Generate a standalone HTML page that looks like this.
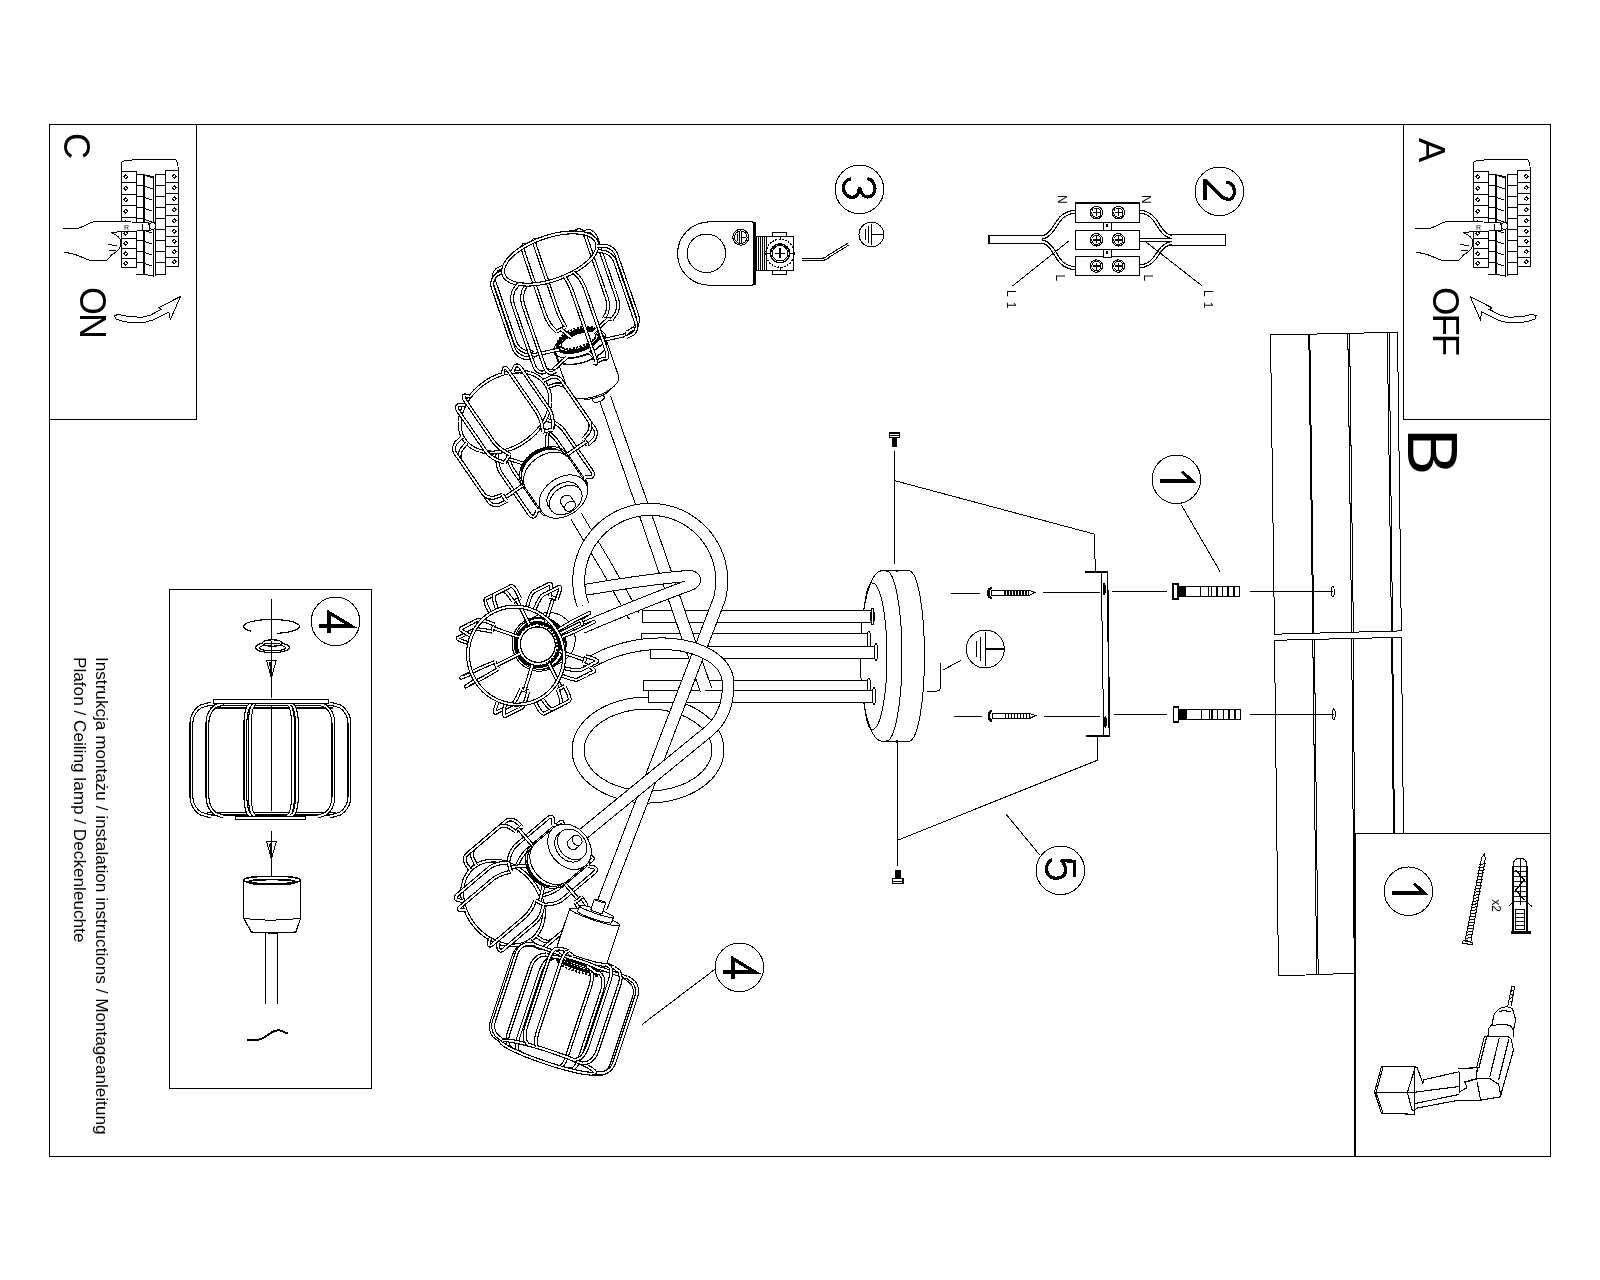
<!DOCTYPE html>
<html><head><meta charset="utf-8"><style>
html,body{margin:0;padding:0;background:#fff;width:1600px;height:1280px;overflow:hidden}
svg{display:block;will-change:transform}
text{font-family:"Liberation Sans",sans-serif}
</style></head><body>
<svg width="1600" height="1280" viewBox="0 0 1600 1280" stroke="#000" fill="none" shape-rendering="crispEdges">
<rect x="49.5" y="124.5" width="1501" height="1032" stroke-width="1" fill="none" />
<line x1="196.5" y1="124" x2="196.5" y2="419.5" stroke-width="1" />
<line x1="49" y1="419.5" x2="197" y2="419.5" stroke-width="1" />
<line x1="1403.5" y1="124" x2="1403.5" y2="419.5" stroke-width="1" />
<line x1="1403" y1="419.5" x2="1551" y2="419.5" stroke-width="1" />
<rect x="169.5" y="589.5" width="202" height="499" stroke-width="1" fill="none" />
<line x1="1355" y1="833.5" x2="1355" y2="1156.5" stroke-width="2" />
<line x1="1354" y1="833.5" x2="1551" y2="833.5" stroke-width="1" />
<text transform="translate(95.5,657) rotate(90)" font-size="17" font-weight="normal" stroke="none" fill="#000" textLength="477.5" lengthAdjust="spacingAndGlyphs">Instrukcja montażu / instalation instructions / Montageanleitung</text>
<text transform="translate(73.5,657) rotate(90)" font-size="17" font-weight="normal" stroke="none" fill="#000" textLength="285.5" lengthAdjust="spacingAndGlyphs">Plafon / Ceiling lamp / Deckenleuchte</text>
<text transform="translate(64,133) rotate(90)" font-size="36" font-weight="normal" stroke="none" fill="#000" >C</text>
<text transform="translate(80,287) rotate(90)" font-size="36" font-weight="normal" stroke="none" fill="#000" letter-spacing="-2">ON</text>
<text transform="translate(1419,138) rotate(90)" font-size="36.5" font-weight="normal" stroke="none" fill="#000" >A</text>
<text transform="translate(1433,287) rotate(90)" font-size="36.5" font-weight="normal" stroke="none" fill="#000" letter-spacing="-2">OFF</text>
<text transform="translate(1408,428) rotate(90)" font-size="71" font-weight="normal" stroke="none" fill="#000" >B</text>
<g id="brk"><path d="M121.4,171.3 L121.4,162.2 L126,160.2 L144.3,159.6 L175.8,159.3 L177.8,163.2 L178.3,170.8" stroke-width="1" fill="none"/>
<path d="M121.4,171.3 L136.2,171.3 L136.2,267.8 L121.4,267.8 Z" stroke-width="1" fill="none"/>
<line x1="121.4" y1="182.3" x2="136.2" y2="182.3" stroke-width="1"/>
<line x1="121.4" y1="194.4" x2="136.2" y2="194.4" stroke-width="1"/>
<line x1="121.4" y1="205.4" x2="136.2" y2="205.4" stroke-width="1"/>
<line x1="121.4" y1="217.2" x2="136.2" y2="217.2" stroke-width="1"/>
<line x1="121.4" y1="228" x2="136.2" y2="228" stroke-width="1"/>
<line x1="121.4" y1="238.4" x2="136.2" y2="238.4" stroke-width="1"/>
<line x1="121.4" y1="248.5" x2="136.2" y2="248.5" stroke-width="1"/>
<line x1="121.4" y1="258.9" x2="136.2" y2="258.9" stroke-width="1"/>
<path d="M123.8,176.8 L125.8,174.8 L127.8,176.8 L125.8,178.8 Z" stroke-width="1" fill="none"/>
<path d="M123.8,188.35 L125.8,186.35 L127.8,188.35 L125.8,190.35 Z" stroke-width="1" fill="none"/>
<path d="M123.8,199.9 L125.8,197.9 L127.8,199.9 L125.8,201.9 Z" stroke-width="1" fill="none"/>
<path d="M123.8,211.3 L125.8,209.3 L127.8,211.3 L125.8,213.3 Z" stroke-width="1" fill="none"/>
<path d="M123.8,222.6 L125.8,220.6 L127.8,222.6 L125.8,224.6 Z" stroke-width="1" fill="none"/>
<path d="M123.8,233.2 L125.8,231.2 L127.8,233.2 L125.8,235.2 Z" stroke-width="1" fill="none"/>
<path d="M123.8,243.45 L125.8,241.45 L127.8,243.45 L125.8,245.45 Z" stroke-width="1" fill="none"/>
<path d="M123.8,253.7 L125.8,251.7 L127.8,253.7 L125.8,255.7 Z" stroke-width="1" fill="none"/>
<path d="M123.8,263.35 L125.8,261.35 L127.8,263.35 L125.8,265.35 Z" stroke-width="1" fill="none"/>
<path d="M136.2,174.4 L143.3,174.4 L143.3,274.4 L136.2,274.4" stroke-width="1" fill="none"/>
<line x1="136.2" y1="185.4" x2="143.3" y2="185.4" stroke-width="1"/>
<line x1="136.2" y1="196.6" x2="143.3" y2="196.6" stroke-width="1"/>
<line x1="136.2" y1="207.6" x2="143.3" y2="207.6" stroke-width="1"/>
<line x1="136.2" y1="218.6" x2="143.3" y2="218.6" stroke-width="1"/>
<line x1="136.2" y1="229.6" x2="143.3" y2="229.6" stroke-width="1"/>
<line x1="136.2" y1="240.6" x2="143.3" y2="240.6" stroke-width="1"/>
<line x1="136.2" y1="251.6" x2="143.3" y2="251.6" stroke-width="1"/>
<line x1="136.2" y1="262.6" x2="143.3" y2="262.6" stroke-width="1"/>
<line x1="143.8" y1="174.4" x2="143.8" y2="274.4" stroke-width="1.6"/>
<path d="M144.3,175 L153,176.5 L153,276 L144.3,274.4" stroke-width="1" fill="none"/>
<line x1="144.8" y1="175.4" x2="152.5" y2="177.9" stroke-width="1"/>
<line x1="144.8" y1="186.4" x2="152.5" y2="188.9" stroke-width="1"/>
<line x1="144.8" y1="197.6" x2="152.5" y2="200.1" stroke-width="1"/>
<line x1="144.8" y1="208.6" x2="152.5" y2="211.1" stroke-width="1"/>
<line x1="144.8" y1="219.6" x2="152.5" y2="222.1" stroke-width="1"/>
<line x1="144.8" y1="230.6" x2="152.5" y2="233.1" stroke-width="1"/>
<line x1="144.8" y1="241.6" x2="152.5" y2="244.1" stroke-width="1"/>
<line x1="144.8" y1="252.6" x2="152.5" y2="255.1" stroke-width="1"/>
<line x1="144.8" y1="263.6" x2="152.5" y2="266.1" stroke-width="1"/>
<line x1="155" y1="174.4" x2="155" y2="276" stroke-width="1"/>
<path d="M155,174.4 L165.6,174.4 L165.6,274.4 L155,274.4" stroke-width="1" fill="none"/>
<line x1="155" y1="185.4" x2="165.6" y2="185.4" stroke-width="1"/>
<line x1="155" y1="196.6" x2="165.6" y2="196.6" stroke-width="1"/>
<line x1="155" y1="207.6" x2="165.6" y2="207.6" stroke-width="1"/>
<line x1="155" y1="218.6" x2="165.6" y2="218.6" stroke-width="1"/>
<line x1="155" y1="229.6" x2="165.6" y2="229.6" stroke-width="1"/>
<line x1="155" y1="240.6" x2="165.6" y2="240.6" stroke-width="1"/>
<line x1="155" y1="251.6" x2="165.6" y2="251.6" stroke-width="1"/>
<line x1="155" y1="262.6" x2="165.6" y2="262.6" stroke-width="1"/>
<path d="M165.6,170.8 L178.3,170.8 L178.3,266.8 L165.6,266.8 Z" stroke-width="1" fill="none"/>
<line x1="165.6" y1="182" x2="178.3" y2="182" stroke-width="1"/>
<line x1="165.6" y1="193.2" x2="178.3" y2="193.2" stroke-width="1"/>
<line x1="165.6" y1="204" x2="178.3" y2="204" stroke-width="1"/>
<line x1="165.6" y1="215.6" x2="178.3" y2="215.6" stroke-width="1"/>
<line x1="165.6" y1="226" x2="178.3" y2="226" stroke-width="1"/>
<line x1="165.6" y1="236.2" x2="178.3" y2="236.2" stroke-width="1"/>
<line x1="165.6" y1="246.2" x2="178.3" y2="246.2" stroke-width="1"/>
<line x1="165.6" y1="257" x2="178.3" y2="257" stroke-width="1"/>
<path d="M172.3,176.4 L174.3,174.4 L176.3,176.4 L174.3,178.4 Z" stroke-width="1" fill="none"/>
<path d="M172.3,187.6 L174.3,185.6 L176.3,187.6 L174.3,189.6 Z" stroke-width="1" fill="none"/>
<path d="M172.3,198.6 L174.3,196.6 L176.3,198.6 L174.3,200.6 Z" stroke-width="1" fill="none"/>
<path d="M172.3,209.8 L174.3,207.8 L176.3,209.8 L174.3,211.8 Z" stroke-width="1" fill="none"/>
<path d="M172.3,220.8 L174.3,218.8 L176.3,220.8 L174.3,222.8 Z" stroke-width="1" fill="none"/>
<path d="M172.3,231.1 L174.3,229.1 L176.3,231.1 L174.3,233.1 Z" stroke-width="1" fill="none"/>
<path d="M172.3,241.2 L174.3,239.2 L176.3,241.2 L174.3,243.2 Z" stroke-width="1" fill="none"/>
<path d="M172.3,251.6 L174.3,249.6 L176.3,251.6 L174.3,253.6 Z" stroke-width="1" fill="none"/>
<path d="M172.3,261.9 L174.3,259.9 L176.3,261.9 L174.3,263.9 Z" stroke-width="1" fill="none"/>
<path d="M63,228.2 L78.3,228.2 C86,226 90,221.6 96,221.6 L148.4,222.2 L150,230.4 L110.8,232.3 C115,234 120,237 121,241.4 C121,246 119,249 117.9,250 C116,253 112,254 110.8,255.6 C109,259 107,260.7 104,260.7 L90.5,260.7 C82,258 76,252.6 64,252.6" stroke-width="1" fill="#fff"/>
<line x1="107.7" y1="244.5" x2="116.9" y2="245.5" stroke-width="1"/>
<line x1="109" y1="250.5" x2="116" y2="250" stroke-width="1"/>
<circle cx="152.6" cy="225.9" r="3.3" stroke-width="1" fill="#fff"/>
<text x="124" y="230" font-size="7" stroke="none" fill="#000" font-family="Liberation Sans">R</text>
<line x1="142.2" y1="224" x2="142.2" y2="230" stroke-width="1"/></g>
<use href="#brk" transform="translate(1352,0)"/>
<path d="M114.6,315.8 L118.3,314.2 L123.6,315.6 L130,316.9 L142.7,317.1 L150.7,315 L161.3,309.4 L158.7,307.8 L180.5,296.4 L170.4,319.5 L168.8,312.1 L152.8,320.1 L144.9,322.2 L129.4,322.5 L123.1,321.4 L115.6,319 Z" stroke-width="1" fill="none" />
<path d="M1536.05,315.8 L1532.35,314.2 L1527.05,315.6 L1520.65,316.9 L1507.95,317.1 L1499.95,315 L1489.35,309.4 L1491.95,307.8 L1470.15,296.4 L1480.25,319.5 L1481.85,312.1 L1497.85,320.1 L1505.75,322.2 L1521.25,322.5 L1527.55,321.4 L1535.05,319 Z" stroke-width="1" fill="none" />
<line x1="1270.5" y1="335" x2="1397.5" y2="332.3" stroke-width="1" />
<line x1="1274.5" y1="634.2" x2="1401.5" y2="630.9" stroke-width="1" />
<line x1="1270.5" y1="335" x2="1274.5" y2="634.2" stroke-width="1" />
<line x1="1309.3" y1="334" x2="1313.3" y2="633.5" stroke-width="2" />
<line x1="1347.8" y1="333.5" x2="1351.7" y2="632.5" stroke-width="1" />
<line x1="1349.6" y1="333.5" x2="1353.4" y2="632.5" stroke-width="1" />
<line x1="1387.3" y1="333" x2="1391.5" y2="631.5" stroke-width="1" />
<line x1="1389.1" y1="333" x2="1392.6" y2="631.5" stroke-width="1" />
<line x1="1397.5" y1="332.3" x2="1401.3" y2="630.9" stroke-width="1" />
<line x1="1274.5" y1="640.3" x2="1401.4" y2="637.3" stroke-width="1" />
<line x1="1278.5" y1="976" x2="1355" y2="973.2" stroke-width="1" />
<line x1="1274.5" y1="640.3" x2="1278.5" y2="976" stroke-width="1" />
<line x1="1312.8" y1="639.5" x2="1316.7" y2="975" stroke-width="1" />
<line x1="1314.4" y1="639.5" x2="1318.2" y2="975" stroke-width="1" />
<line x1="1351.7" y1="638.6" x2="1354.3" y2="975" stroke-width="1" />
<line x1="1353.2" y1="638.6" x2="1355.6" y2="975" stroke-width="1" />
<line x1="1392.2" y1="638" x2="1393.9" y2="833" stroke-width="2" />
<line x1="1401.4" y1="637.3" x2="1403.5" y2="833" stroke-width="1" />
<ellipse cx="1332.8" cy="591.6" rx="1.4" ry="5.5" stroke-width="1" fill="none" />
<ellipse cx="1333.8" cy="714.3" rx="1.4" ry="5.5" stroke-width="1" fill="none" />
<line x1="951" y1="593.2" x2="980" y2="593.2" stroke-width="1" />
<line x1="1043" y1="592.5" x2="1100" y2="592.5" stroke-width="1" />
<line x1="1112" y1="591.6" x2="1167" y2="591.6" stroke-width="1" />
<line x1="1250" y1="591.6" x2="1333" y2="591.6" stroke-width="1" />
<line x1="954" y1="716.5" x2="982" y2="716.5" stroke-width="1" />
<line x1="1044" y1="716" x2="1100" y2="716" stroke-width="1" />
<line x1="1114" y1="714.7" x2="1167" y2="714.7" stroke-width="1" />
<line x1="1250" y1="714.5" x2="1334" y2="714.5" stroke-width="1" />
<path d="M991.8,588 C987.2,588.5 987.2,597.5 991.8,598" stroke-width="2.4" fill="none" />
<rect x="991.8" y="590.4" width="37" height="5.2" stroke-width="1" fill="none" />
<line x1="1005" y1="590.4" x2="1005" y2="595.6" stroke-width="1.2" />
<line x1="1008" y1="590.4" x2="1008" y2="595.6" stroke-width="1.2" />
<line x1="1011" y1="590.4" x2="1011" y2="595.6" stroke-width="1.2" />
<line x1="1014" y1="590.4" x2="1014" y2="595.6" stroke-width="1.2" />
<line x1="1017" y1="590.4" x2="1017" y2="595.6" stroke-width="1.2" />
<line x1="1020" y1="590.4" x2="1020" y2="595.6" stroke-width="1.2" />
<line x1="1023" y1="590.4" x2="1023" y2="595.6" stroke-width="1.2" />
<line x1="1026" y1="590.4" x2="1026" y2="595.6" stroke-width="1.2" />
<path d="M1028.8,590.4 L1035,592.5 L1028.8,595.6" stroke-width="1" fill="none" />
<path d="M992.3,711 C987.7,711.5 987.7,720.5 992.3,721" stroke-width="2.4" fill="none" />
<rect x="992.3" y="713.4" width="37" height="5.2" stroke-width="1" fill="none" />
<line x1="1005.5" y1="713.4" x2="1005.5" y2="718.6" stroke-width="1.2" />
<line x1="1008.5" y1="713.4" x2="1008.5" y2="718.6" stroke-width="1.2" />
<line x1="1011.5" y1="713.4" x2="1011.5" y2="718.6" stroke-width="1.2" />
<line x1="1014.5" y1="713.4" x2="1014.5" y2="718.6" stroke-width="1.2" />
<line x1="1017.5" y1="713.4" x2="1017.5" y2="718.6" stroke-width="1.2" />
<line x1="1020.5" y1="713.4" x2="1020.5" y2="718.6" stroke-width="1.2" />
<line x1="1023.5" y1="713.4" x2="1023.5" y2="718.6" stroke-width="1.2" />
<line x1="1026.5" y1="713.4" x2="1026.5" y2="718.6" stroke-width="1.2" />
<path d="M1029.3,713.4 L1035.5,715.5 L1029.3,718.6" stroke-width="1" fill="none" />
<rect x="1173.1" y="583.9" width="5" height="15" stroke-width="1.2" fill="none" />
<rect x="1178.1" y="586.5" width="61.7" height="9.8" stroke-width="1.2" fill="none" />
<rect x="1178.1" y="586.5" width="8.2" height="9.8" stroke-width="0" fill="#000" />
<line x1="1200.6" y1="586.5" x2="1200.6" y2="596.3" stroke-width="1.4" />
<line x1="1208.7" y1="586.5" x2="1208.7" y2="596.3" stroke-width="1.4" />
<line x1="1211.3" y1="586.5" x2="1211.3" y2="596.3" stroke-width="1.4" />
<line x1="1216.9" y1="586.5" x2="1216.9" y2="596.3" stroke-width="1.4" />
<line x1="1222.5" y1="586.5" x2="1222.5" y2="596.3" stroke-width="1.4" />
<line x1="1228.1" y1="586.5" x2="1228.1" y2="596.3" stroke-width="1.4" />
<line x1="1234.1" y1="586.5" x2="1234.1" y2="596.3" stroke-width="1.4" />
<rect x="1173.8" y="707.1" width="5" height="15" stroke-width="1.2" fill="none" />
<rect x="1178.8" y="709.7" width="61.7" height="9.8" stroke-width="1.2" fill="none" />
<rect x="1178.8" y="709.7" width="8.2" height="9.8" stroke-width="0" fill="#000" />
<line x1="1201.3" y1="709.7" x2="1201.3" y2="719.5" stroke-width="1.4" />
<line x1="1209.4" y1="709.7" x2="1209.4" y2="719.5" stroke-width="1.4" />
<line x1="1212" y1="709.7" x2="1212" y2="719.5" stroke-width="1.4" />
<line x1="1217.6" y1="709.7" x2="1217.6" y2="719.5" stroke-width="1.4" />
<line x1="1223.2" y1="709.7" x2="1223.2" y2="719.5" stroke-width="1.4" />
<line x1="1228.8" y1="709.7" x2="1228.8" y2="719.5" stroke-width="1.4" />
<line x1="1234.8" y1="709.7" x2="1234.8" y2="719.5" stroke-width="1.4" />
<line x1="1085" y1="571.8" x2="1108" y2="571.8" stroke-width="1.6" />
<line x1="1086" y1="735.8" x2="1110" y2="735.8" stroke-width="1.6" />
<path d="M1101.3,572 L1103.7,735.8" stroke-width="1" fill="none" />
<path d="M1107.5,572 L1109.4,735.8" stroke-width="1.6" fill="none" />
<ellipse cx="1104.3" cy="589" rx="0.9" ry="6" stroke-width="1" fill="#000" />
<ellipse cx="1105.4" cy="722" rx="0.9" ry="6" stroke-width="1" fill="#000" />
<path d="M894.5,451 L894.5,564" stroke-width="1" fill="none" />
<path d="M894.5,480.6 L1094,534 L1095.5,571.6" stroke-width="1" fill="none" />
<path d="M897.7,742 L897.7,866" stroke-width="1" fill="none" />
<path d="M897.7,840.2 L1097.5,760.2 L1097.5,736" stroke-width="1" fill="none" />
<rect x="889.3" y="433" width="10.4" height="4.8" stroke-width="1.2" fill="none" />
<line x1="890" y1="435.2" x2="899" y2="435.2" stroke-width="1" />
<rect x="891.6" y="437.8" width="5.8" height="9" stroke-width="0" fill="#000" />
<rect x="892.5" y="878.7" width="10.4" height="4.8" stroke-width="1.2" fill="none" />
<line x1="893.2" y1="881.3" x2="902.2" y2="881.3" stroke-width="1" />
<rect x="894.8" y="869.7" width="5.8" height="9" stroke-width="0" fill="#000" />
<path d="M881.9,570.7 L909.4,570.7 A15.6 85.3 0 0 1 909.4,741.2 L881.2,741.2 A22 85.3 0 0 1 881.9,570.7 Z" stroke-width="1" fill="#fff" />
<path d="M886.4,571 A15.6 85 0 0 1 886.4,741" stroke-width="1" fill="none" />
<path d="M872.3,583 A14.7 73.2 0 0 1 872.3,729.4" stroke-width="1" fill="none" />
<path d="M872.3,583 A10 73.2 0 0 0 863,620 M863,692 A10 73.2 0 0 0 872.3,729.4" stroke-width="1" fill="none" />
<line x1="896.8" y1="569.5" x2="896.8" y2="572" stroke-width="2" />
<line x1="896.8" y1="740" x2="896.8" y2="742.5" stroke-width="2" />
<path d="M927,691 L937,691 C939,691 940.5,690 940.5,687 L940.5,663" stroke-width="1" fill="none" />
<line x1="943.6" y1="669.7" x2="961" y2="660.4" stroke-width="1" />
<circle cx="859.5" cy="189.4" r="24.25" stroke-width="1" fill="none" />
<g transform="translate(859.5,189.4)" stroke-width="3.3" fill="none" stroke-linejoin="miter"><path d="M-8.6,-10.5 C-13,-10 -16,-6 -16,-2 C-16,4 -12,8 -7,8 C-3,8 -0.5,4 0,-2.5 C1,3 4,7.5 8,7.5 C12.5,7.5 15.5,4 15.5,-1 C15.5,-6 12,-10 8,-11" stroke-linecap="butt"/></g>
<circle cx="1219.4" cy="191.4" r="24.25" stroke-width="1" fill="none" />
<g transform="translate(1219.4,191.4)" stroke-width="3.3" fill="none" stroke-linejoin="miter"><path d="M-14.3,-12 L-14.3,8.4 M-14.3,-11 L3.5,6.3 L9,8 C12.5,8 15,5 15,0 C15,-5 12,-8.5 7,-9.5"/></g>
<circle cx="1176.4" cy="479.3" r="24.25" stroke-width="1" fill="none" />
<g transform="translate(1176.4,479.3)" stroke-width="3.3" fill="none" stroke-linejoin="miter"><path d="M-16.2,1.8 L15.6,1.8 L5.6,-7.7"/></g>
<circle cx="1408.4" cy="891.2" r="24.25" stroke-width="1" fill="none" />
<g transform="translate(1408.4,891.2)" stroke-width="3.3" fill="none" stroke-linejoin="miter"><path d="M-16.2,1.8 L15.6,1.8 L5.6,-7.7"/></g>
<circle cx="739.4" cy="967.4" r="24.25" stroke-width="1" fill="none" />
<g transform="translate(739.4,967.4)" stroke-width="3.3" fill="none" stroke-linejoin="miter"><path d="M-16.3,4.6 L15.6,4.6 L-6.5,-8.8 L-6.5,11.3"/></g>
<circle cx="335.5" cy="621.4" r="24.25" stroke-width="1" fill="none" />
<g transform="translate(335.5,621.4)" stroke-width="3.3" fill="none" stroke-linejoin="miter"><path d="M-16.3,4.6 L15.6,4.6 L-6.5,-8.8 L-6.5,11.3"/></g>
<circle cx="1060.4" cy="870.3" r="24.25" stroke-width="1" fill="none" />
<g transform="translate(1060.4,870.3)" stroke-width="3.3" fill="none" stroke-linejoin="miter"><path d="M14,6.3 L14,-9 L0.5,-9.8 C3.5,-8 5,-4 5,0 C5,5 1.5,8 -4.5,8 C-10,8 -14,4 -14,-1.5 C-14,-6 -11,-10 -8.3,-10.5"/></g>
<line x1="1181.4" y1="505" x2="1220" y2="571.4" stroke-width="1" />
<line x1="1005.9" y1="814" x2="1039.5" y2="854.7" stroke-width="1" />
<line x1="642.2" y1="1024.4" x2="715.3" y2="969" stroke-width="1" />
<circle cx="985.3" cy="649" r="19" stroke-width="1" fill="none" />
<line x1="985.3" y1="632.47" x2="985.3" y2="665.53" stroke-width="1.2" />
<line x1="980.7" y1="636.65" x2="980.7" y2="661.35" stroke-width="1.2" />
<line x1="976.3" y1="641.02" x2="976.3" y2="656.98" stroke-width="1.2" />
<line x1="985.3" y1="649" x2="1004.3" y2="649" stroke-width="1.2" />
<circle cx="871.4" cy="234.5" r="12.4" stroke-width="1" fill="none" />
<line x1="871.4" y1="223.71" x2="871.4" y2="245.29" stroke-width="1.2" />
<line x1="868.4" y1="226.44" x2="868.4" y2="242.56" stroke-width="1.2" />
<line x1="865.53" y1="229.29" x2="865.53" y2="239.71" stroke-width="1.2" />
<line x1="871.4" y1="234.5" x2="883.8" y2="234.5" stroke-width="1.2" />
<rect x="989" y="235.8" width="53.5" height="7.7" stroke-width="1.2" fill="#fff" />
<rect x="1171.5" y="234.6" width="54.2" height="10.8" stroke-width="1.2" fill="#fff" />
<path d="M1042,237.5 C1052,236 1056,222 1062,217 C1067,212.5 1071,212 1076,211.5" stroke-width="4.2" fill="none" />
<path d="M1042,237.5 C1052,236 1056,222 1062,217 C1067,212.5 1071,212 1076,211.5" stroke-width="1.8" fill="none" stroke="#fff"/>
<path d="M1042,241.5 C1052,243 1056,258 1062,263 C1067,267.5 1071,268 1076,268.5" stroke-width="4.2" fill="none" />
<path d="M1042,241.5 C1052,243 1056,258 1062,263 C1067,267.5 1071,268 1076,268.5" stroke-width="1.8" fill="none" stroke="#fff"/>
<path d="M1139,211.5 C1146,212 1150,214 1155,220 C1160,228 1164,236 1172,237" stroke-width="4.2" fill="none" />
<path d="M1139,211.5 C1146,212 1150,214 1155,220 C1160,228 1164,236 1172,237" stroke-width="1.8" fill="none" stroke="#fff"/>
<path d="M1139,266.5 C1146,266 1150,264 1155,258 C1160,250 1164,244 1172,243" stroke-width="4.2" fill="none" />
<path d="M1139,266.5 C1146,266 1150,264 1155,258 C1160,250 1164,244 1172,243" stroke-width="1.8" fill="none" stroke="#fff"/>
<path d="M1139,240 L1172,240" stroke-width="4.2" fill="none" />
<path d="M1139,240 L1172,240" stroke-width="1.8" fill="none" stroke="#fff"/>
<rect x="1075.2" y="203" width="64.4" height="19.3" stroke-width="1.2" fill="#fff" />
<circle cx="1096.4" cy="212.65" r="6.2" stroke-width="1.1" fill="none" />
<circle cx="1096.4" cy="212.65" r="4.6" stroke-width="1" fill="none" />
<line x1="1092.9" y1="212.65" x2="1099.9" y2="212.65" stroke-width="1.4" />
<line x1="1096.4" y1="209.15" x2="1096.4" y2="216.15" stroke-width="1.4" />
<circle cx="1118.4" cy="212.65" r="6.2" stroke-width="1.1" fill="none" />
<circle cx="1118.4" cy="212.65" r="4.6" stroke-width="1" fill="none" />
<line x1="1114.9" y1="212.65" x2="1121.9" y2="212.65" stroke-width="1.4" />
<line x1="1118.4" y1="209.15" x2="1118.4" y2="216.15" stroke-width="1.4" />
<rect x="1075.2" y="230.3" width="64.4" height="19" stroke-width="1.2" fill="#fff" />
<circle cx="1096.4" cy="239.8" r="6.2" stroke-width="1.1" fill="none" />
<circle cx="1096.4" cy="239.8" r="4.6" stroke-width="1" fill="none" />
<line x1="1092.9" y1="239.8" x2="1099.9" y2="239.8" stroke-width="1.4" />
<line x1="1096.4" y1="236.3" x2="1096.4" y2="243.3" stroke-width="1.4" />
<circle cx="1118.4" cy="239.8" r="6.2" stroke-width="1.1" fill="none" />
<circle cx="1118.4" cy="239.8" r="4.6" stroke-width="1" fill="none" />
<line x1="1114.9" y1="239.8" x2="1121.9" y2="239.8" stroke-width="1.4" />
<line x1="1118.4" y1="236.3" x2="1118.4" y2="243.3" stroke-width="1.4" />
<rect x="1075.2" y="256.7" width="64.4" height="18.7" stroke-width="1.2" fill="#fff" />
<circle cx="1096.4" cy="266.05" r="6.2" stroke-width="1.1" fill="none" />
<circle cx="1096.4" cy="266.05" r="4.6" stroke-width="1" fill="none" />
<line x1="1092.9" y1="266.05" x2="1099.9" y2="266.05" stroke-width="1.4" />
<line x1="1096.4" y1="262.55" x2="1096.4" y2="269.55" stroke-width="1.4" />
<circle cx="1118.4" cy="266.05" r="6.2" stroke-width="1.1" fill="none" />
<circle cx="1118.4" cy="266.05" r="4.6" stroke-width="1" fill="none" />
<line x1="1114.9" y1="266.05" x2="1121.9" y2="266.05" stroke-width="1.4" />
<line x1="1118.4" y1="262.55" x2="1118.4" y2="269.55" stroke-width="1.4" />
<rect x="1103.3" y="222.3" width="7.7" height="8" stroke-width="1" fill="#fff" />
<circle cx="1107.2" cy="225.5" r="0.8" stroke-width="1" fill="none" />
<rect x="1103.3" y="249.3" width="7.7" height="8" stroke-width="1" fill="#fff" />
<circle cx="1107.2" cy="252.5" r="0.8" stroke-width="1" fill="none" />
<text transform="translate(1058,195) rotate(90)" font-size="12" font-weight="normal" stroke="none" fill="#000" >N</text>
<text transform="translate(1142,195) rotate(90)" font-size="12" font-weight="normal" stroke="none" fill="#000" >N</text>
<text transform="translate(1056,274.5) rotate(90)" font-size="12" font-weight="normal" stroke="none" fill="#000" >L</text>
<text transform="translate(1144,274.5) rotate(90)" font-size="12" font-weight="normal" stroke="none" fill="#000" >L</text>
<text transform="translate(1006.5,290) rotate(90)" font-size="12" font-weight="normal" stroke="none" fill="#000" letter-spacing="5">L1</text>
<text transform="translate(1203.5,290) rotate(90)" font-size="12" font-weight="normal" stroke="none" fill="#000" letter-spacing="5">L1</text>
<line x1="1012.5" y1="286" x2="1069" y2="240.8" stroke-width="1" />
<line x1="1202.3" y1="286" x2="1146" y2="242" stroke-width="1" />
<path d="M709.9,221.7 L751,221.7 Q753.5,221.7 753.5,224 L753.5,283 Q753.5,285.3 751,285.3 L709.9,285.3 C690,285 677.6,270 677.6,253.5 C677.6,237 690,222.5 709.9,221.7 Z" stroke-width="1.1" fill="none" />
<circle cx="706.4" cy="253.3" r="19.25" stroke-width="1" fill="none" />
<circle cx="740.8" cy="237.2" r="8" stroke-width="1.1" fill="none" />
<circle cx="740.8" cy="237.2" r="6.3" stroke-width="1" fill="none" />
<line x1="737.3" y1="233.5" x2="737.3" y2="241" stroke-width="1" />
<line x1="739.3" y1="232" x2="739.3" y2="242.5" stroke-width="1" />
<line x1="741.5" y1="231" x2="741.5" y2="243.5" stroke-width="1.2" />
<line x1="741.5" y1="237.2" x2="746" y2="237.2" stroke-width="1" />
<rect x="753.5" y="221.7" width="2.6" height="63.6" stroke-width="0" fill="#000" />
<rect x="756.1" y="236.1" width="10.1" height="34.4" stroke-width="1" fill="none" />
<line x1="758.5" y1="236.1" x2="758.5" y2="270.5" stroke-width="1" />
<line x1="760.5" y1="236.1" x2="760.5" y2="270.5" stroke-width="1" />
<line x1="762.5" y1="236.1" x2="762.5" y2="270.5" stroke-width="1" />
<line x1="764.5" y1="236.1" x2="764.5" y2="270.5" stroke-width="1" />
<rect x="772.4" y="232" width="14.5" height="4.1" stroke-width="1" fill="none" />
<rect x="772.4" y="270.5" width="14.5" height="3.8" stroke-width="1" fill="none" />
<rect x="766.2" y="236.1" width="27.5" height="34.4" stroke-width="1.1" fill="#fff" />
<circle cx="780" cy="253.3" r="14" stroke-width="1.4" fill="none" stroke-dasharray="2 1.2"/>
<circle cx="780" cy="253.3" r="9.5" stroke-width="1.5" fill="none" />
<circle cx="780" cy="253.3" r="7.8" stroke-width="1" fill="none" />
<line x1="775" y1="253.3" x2="785" y2="253.3" stroke-width="1.6" />
<line x1="780" y1="248.3" x2="780" y2="258.3" stroke-width="1.6" />
<line x1="780" y1="236.1" x2="780" y2="240" stroke-width="1" />
<line x1="780" y1="266.6" x2="780" y2="270.5" stroke-width="1" />
<line x1="766.2" y1="253.3" x2="770" y2="253.3" stroke-width="1" />
<line x1="790" y1="253.3" x2="794.5" y2="253.3" stroke-width="1" />
<path d="M802,259.5 L822,259.5 C825,259.5 827,258 829,256 L848.5,244" stroke-width="3.2" fill="none" />
<path d="M802,259.5 L822,259.5 C825,259.5 827,258 829,256 L848.5,244" stroke-width="1.2" fill="none" stroke="#fff"/>
<line x1="271.4" y1="599" x2="271.4" y2="698" stroke-width="1" />
<path d="M251.39999999999998,631.3 A28 7 0 1 1 277.4,633.3" stroke-width="1.2" fill="none"/>
<ellipse cx="272.4" cy="647.5" rx="17" ry="5.2" stroke-width="1.3" fill="#fff" />
<ellipse cx="272.4" cy="647.8" rx="13" ry="3" stroke-width="1" fill="none" />
<ellipse cx="272.4" cy="643" rx="10" ry="3.2" stroke-width="1.2" fill="#fff" />
<line x1="264.4" y1="643" x2="280.4" y2="643" stroke-width="1" />
<line x1="271.4" y1="641" x2="271.4" y2="655" stroke-width="1" />
<path d="M266.4,660 L276.4,660 L271.4,677.7 Z" stroke-width="1" fill="none" />
<line x1="270.2" y1="662" x2="271.4" y2="677" stroke-width="2" />
<path d="M210,706.5 L333,706.5" stroke-width="4.0" stroke-linejoin="round"/>
<path d="M210,706.5 L333,706.5" stroke-width="1.8" stroke="#fff" stroke-linejoin="round"/>
<path d="M207,813.5 L336,813.5" stroke-width="4.0" stroke-linejoin="round"/>
<path d="M207,813.5 L336,813.5" stroke-width="1.8" stroke="#fff" stroke-linejoin="round"/>
<path d="M211.2,703.5 L201.0,706.3 L197.4,709.1 L195.0,712.0 L193.4,714.8 L192.3,717.6 L191.6,720.5 L191.4,723.3 L191.4,726.1 L191.4,728.9 L191.4,731.8 L191.4,734.6 L191.4,737.4 L191.4,740.2 L191.4,743.0 L191.4,745.9 L191.4,748.7 L191.4,751.5 L191.4,754.4 L191.4,757.2 L191.4,760.0 L191.4,762.8 L191.4,765.6 L191.4,768.5 L191.4,771.3 L191.4,774.1 L191.4,777.0 L191.4,779.8 L191.4,782.6 L191.4,785.4 L191.4,788.2 L191.4,791.1 L191.4,793.9 L191.4,796.7 L191.6,799.5 L192.3,802.4 L193.4,805.2 L195.0,808.0 L197.4,810.9 L201.0,813.7 L211.2,816.5" stroke-width="4.0" stroke-linejoin="round"/>
<path d="M211.2,703.5 L201.0,706.3 L197.4,709.1 L195.0,712.0 L193.4,714.8 L192.3,717.6 L191.6,720.5 L191.4,723.3 L191.4,726.1 L191.4,728.9 L191.4,731.8 L191.4,734.6 L191.4,737.4 L191.4,740.2 L191.4,743.0 L191.4,745.9 L191.4,748.7 L191.4,751.5 L191.4,754.4 L191.4,757.2 L191.4,760.0 L191.4,762.8 L191.4,765.6 L191.4,768.5 L191.4,771.3 L191.4,774.1 L191.4,777.0 L191.4,779.8 L191.4,782.6 L191.4,785.4 L191.4,788.2 L191.4,791.1 L191.4,793.9 L191.4,796.7 L191.6,799.5 L192.3,802.4 L193.4,805.2 L195.0,808.0 L197.4,810.9 L201.0,813.7 L211.2,816.5" stroke-width="1.8" stroke="#fff" stroke-linejoin="round"/>
<path d="M223.2,703.5 L215.1,706.3 L212.2,709.1 L210.3,712.0 L209.0,714.8 L208.1,717.6 L207.6,720.5 L207.4,723.3 L207.4,726.1 L207.4,728.9 L207.4,731.8 L207.4,734.6 L207.4,737.4 L207.4,740.2 L207.4,743.0 L207.4,745.9 L207.4,748.7 L207.4,751.5 L207.4,754.4 L207.4,757.2 L207.4,760.0 L207.4,762.8 L207.4,765.6 L207.4,768.5 L207.4,771.3 L207.4,774.1 L207.4,777.0 L207.4,779.8 L207.4,782.6 L207.4,785.4 L207.4,788.2 L207.4,791.1 L207.4,793.9 L207.4,796.7 L207.6,799.5 L208.1,802.4 L209.0,805.2 L210.3,808.0 L212.2,810.9 L215.1,813.7 L223.2,816.5" stroke-width="4.0" stroke-linejoin="round"/>
<path d="M223.2,703.5 L215.1,706.3 L212.2,709.1 L210.3,712.0 L209.0,714.8 L208.1,717.6 L207.6,720.5 L207.4,723.3 L207.4,726.1 L207.4,728.9 L207.4,731.8 L207.4,734.6 L207.4,737.4 L207.4,740.2 L207.4,743.0 L207.4,745.9 L207.4,748.7 L207.4,751.5 L207.4,754.4 L207.4,757.2 L207.4,760.0 L207.4,762.8 L207.4,765.6 L207.4,768.5 L207.4,771.3 L207.4,774.1 L207.4,777.0 L207.4,779.8 L207.4,782.6 L207.4,785.4 L207.4,788.2 L207.4,791.1 L207.4,793.9 L207.4,796.7 L207.6,799.5 L208.1,802.4 L209.0,805.2 L210.3,808.0 L212.2,810.9 L215.1,813.7 L223.2,816.5" stroke-width="1.8" stroke="#fff" stroke-linejoin="round"/>
<path d="M251.8,703.5 L248.5,706.3 L247.3,709.1 L246.6,712.0 L246.0,714.8 L245.7,717.6 L245.5,720.5 L245.4,723.3 L245.4,726.1 L245.4,728.9 L245.4,731.8 L245.4,734.6 L245.4,737.4 L245.4,740.2 L245.4,743.0 L245.4,745.9 L245.4,748.7 L245.4,751.5 L245.4,754.4 L245.4,757.2 L245.4,760.0 L245.4,762.8 L245.4,765.6 L245.4,768.5 L245.4,771.3 L245.4,774.1 L245.4,777.0 L245.4,779.8 L245.4,782.6 L245.4,785.4 L245.4,788.2 L245.4,791.1 L245.4,793.9 L245.4,796.7 L245.5,799.5 L245.7,802.4 L246.0,805.2 L246.6,808.0 L247.3,810.9 L248.5,813.7 L251.8,816.5" stroke-width="4.0" stroke-linejoin="round"/>
<path d="M251.8,703.5 L248.5,706.3 L247.3,709.1 L246.6,712.0 L246.0,714.8 L245.7,717.6 L245.5,720.5 L245.4,723.3 L245.4,726.1 L245.4,728.9 L245.4,731.8 L245.4,734.6 L245.4,737.4 L245.4,740.2 L245.4,743.0 L245.4,745.9 L245.4,748.7 L245.4,751.5 L245.4,754.4 L245.4,757.2 L245.4,760.0 L245.4,762.8 L245.4,765.6 L245.4,768.5 L245.4,771.3 L245.4,774.1 L245.4,777.0 L245.4,779.8 L245.4,782.6 L245.4,785.4 L245.4,788.2 L245.4,791.1 L245.4,793.9 L245.4,796.7 L245.5,799.5 L245.7,802.4 L246.0,805.2 L246.6,808.0 L247.3,810.9 L248.5,813.7 L251.8,816.5" stroke-width="1.8" stroke="#fff" stroke-linejoin="round"/>
<path d="M255.2,703.5 L252.5,706.3 L251.5,709.1 L250.9,712.0 L250.4,714.8 L250.1,717.6 L250.0,720.5 L249.9,723.3 L249.9,726.1 L249.9,728.9 L249.9,731.8 L249.9,734.6 L249.9,737.4 L249.9,740.2 L249.9,743.0 L249.9,745.9 L249.9,748.7 L249.9,751.5 L249.9,754.4 L249.9,757.2 L249.9,760.0 L249.9,762.8 L249.9,765.6 L249.9,768.5 L249.9,771.3 L249.9,774.1 L249.9,777.0 L249.9,779.8 L249.9,782.6 L249.9,785.4 L249.9,788.2 L249.9,791.1 L249.9,793.9 L249.9,796.7 L250.0,799.5 L250.1,802.4 L250.4,805.2 L250.9,808.0 L251.5,810.9 L252.5,813.7 L255.2,816.5" stroke-width="4.0" stroke-linejoin="round"/>
<path d="M255.2,703.5 L252.5,706.3 L251.5,709.1 L250.9,712.0 L250.4,714.8 L250.1,717.6 L250.0,720.5 L249.9,723.3 L249.9,726.1 L249.9,728.9 L249.9,731.8 L249.9,734.6 L249.9,737.4 L249.9,740.2 L249.9,743.0 L249.9,745.9 L249.9,748.7 L249.9,751.5 L249.9,754.4 L249.9,757.2 L249.9,760.0 L249.9,762.8 L249.9,765.6 L249.9,768.5 L249.9,771.3 L249.9,774.1 L249.9,777.0 L249.9,779.8 L249.9,782.6 L249.9,785.4 L249.9,788.2 L249.9,791.1 L249.9,793.9 L249.9,796.7 L250.0,799.5 L250.1,802.4 L250.4,805.2 L250.9,808.0 L251.5,810.9 L252.5,813.7 L255.2,816.5" stroke-width="1.8" stroke="#fff" stroke-linejoin="round"/>
<path d="M287.6,703.5 L290.3,706.3 L291.3,709.1 L291.9,712.0 L292.4,714.8 L292.7,717.6 L292.8,720.5 L292.9,723.3 L292.9,726.1 L292.9,728.9 L292.9,731.8 L292.9,734.6 L292.9,737.4 L292.9,740.2 L292.9,743.0 L292.9,745.9 L292.9,748.7 L292.9,751.5 L292.9,754.4 L292.9,757.2 L292.9,760.0 L292.9,762.8 L292.9,765.6 L292.9,768.5 L292.9,771.3 L292.9,774.1 L292.9,777.0 L292.9,779.8 L292.9,782.6 L292.9,785.4 L292.9,788.2 L292.9,791.1 L292.9,793.9 L292.9,796.7 L292.8,799.5 L292.7,802.4 L292.4,805.2 L291.9,808.0 L291.3,810.9 L290.3,813.7 L287.6,816.5" stroke-width="4.0" stroke-linejoin="round"/>
<path d="M287.6,703.5 L290.3,706.3 L291.3,709.1 L291.9,712.0 L292.4,714.8 L292.7,717.6 L292.8,720.5 L292.9,723.3 L292.9,726.1 L292.9,728.9 L292.9,731.8 L292.9,734.6 L292.9,737.4 L292.9,740.2 L292.9,743.0 L292.9,745.9 L292.9,748.7 L292.9,751.5 L292.9,754.4 L292.9,757.2 L292.9,760.0 L292.9,762.8 L292.9,765.6 L292.9,768.5 L292.9,771.3 L292.9,774.1 L292.9,777.0 L292.9,779.8 L292.9,782.6 L292.9,785.4 L292.9,788.2 L292.9,791.1 L292.9,793.9 L292.9,796.7 L292.8,799.5 L292.7,802.4 L292.4,805.2 L291.9,808.0 L291.3,810.9 L290.3,813.7 L287.6,816.5" stroke-width="1.8" stroke="#fff" stroke-linejoin="round"/>
<path d="M290.6,703.5 L293.8,706.3 L295.0,709.1 L295.7,712.0 L296.3,714.8 L296.6,717.6 L296.8,720.5 L296.9,723.3 L296.9,726.1 L296.9,728.9 L296.9,731.8 L296.9,734.6 L296.9,737.4 L296.9,740.2 L296.9,743.0 L296.9,745.9 L296.9,748.7 L296.9,751.5 L296.9,754.4 L296.9,757.2 L296.9,760.0 L296.9,762.8 L296.9,765.6 L296.9,768.5 L296.9,771.3 L296.9,774.1 L296.9,777.0 L296.9,779.8 L296.9,782.6 L296.9,785.4 L296.9,788.2 L296.9,791.1 L296.9,793.9 L296.9,796.7 L296.8,799.5 L296.6,802.4 L296.3,805.2 L295.7,808.0 L295.0,810.9 L293.8,813.7 L290.6,816.5" stroke-width="4.0" stroke-linejoin="round"/>
<path d="M290.6,703.5 L293.8,706.3 L295.0,709.1 L295.7,712.0 L296.3,714.8 L296.6,717.6 L296.8,720.5 L296.9,723.3 L296.9,726.1 L296.9,728.9 L296.9,731.8 L296.9,734.6 L296.9,737.4 L296.9,740.2 L296.9,743.0 L296.9,745.9 L296.9,748.7 L296.9,751.5 L296.9,754.4 L296.9,757.2 L296.9,760.0 L296.9,762.8 L296.9,765.6 L296.9,768.5 L296.9,771.3 L296.9,774.1 L296.9,777.0 L296.9,779.8 L296.9,782.6 L296.9,785.4 L296.9,788.2 L296.9,791.1 L296.9,793.9 L296.9,796.7 L296.8,799.5 L296.6,802.4 L296.3,805.2 L295.7,808.0 L295.0,810.9 L293.8,813.7 L290.6,816.5" stroke-width="1.8" stroke="#fff" stroke-linejoin="round"/>
<path d="M318.1,703.5 L325.9,706.3 L328.8,709.1 L330.6,712.0 L331.9,714.8 L332.7,717.6 L333.2,720.5 L333.4,723.3 L333.4,726.1 L333.4,728.9 L333.4,731.8 L333.4,734.6 L333.4,737.4 L333.4,740.2 L333.4,743.0 L333.4,745.9 L333.4,748.7 L333.4,751.5 L333.4,754.4 L333.4,757.2 L333.4,760.0 L333.4,762.8 L333.4,765.6 L333.4,768.5 L333.4,771.3 L333.4,774.1 L333.4,777.0 L333.4,779.8 L333.4,782.6 L333.4,785.4 L333.4,788.2 L333.4,791.1 L333.4,793.9 L333.4,796.7 L333.2,799.5 L332.7,802.4 L331.9,805.2 L330.6,808.0 L328.8,810.9 L325.9,813.7 L318.1,816.5" stroke-width="4.0" stroke-linejoin="round"/>
<path d="M318.1,703.5 L325.9,706.3 L328.8,709.1 L330.6,712.0 L331.9,714.8 L332.7,717.6 L333.2,720.5 L333.4,723.3 L333.4,726.1 L333.4,728.9 L333.4,731.8 L333.4,734.6 L333.4,737.4 L333.4,740.2 L333.4,743.0 L333.4,745.9 L333.4,748.7 L333.4,751.5 L333.4,754.4 L333.4,757.2 L333.4,760.0 L333.4,762.8 L333.4,765.6 L333.4,768.5 L333.4,771.3 L333.4,774.1 L333.4,777.0 L333.4,779.8 L333.4,782.6 L333.4,785.4 L333.4,788.2 L333.4,791.1 L333.4,793.9 L333.4,796.7 L333.2,799.5 L332.7,802.4 L331.9,805.2 L330.6,808.0 L328.8,810.9 L325.9,813.7 L318.1,816.5" stroke-width="1.8" stroke="#fff" stroke-linejoin="round"/>
<path d="M330.1,703.5 L340.0,706.3 L343.6,709.1 L345.9,712.0 L347.5,714.8 L348.6,717.6 L349.2,720.5 L349.4,723.3 L349.4,726.1 L349.4,728.9 L349.4,731.8 L349.4,734.6 L349.4,737.4 L349.4,740.2 L349.4,743.0 L349.4,745.9 L349.4,748.7 L349.4,751.5 L349.4,754.4 L349.4,757.2 L349.4,760.0 L349.4,762.8 L349.4,765.6 L349.4,768.5 L349.4,771.3 L349.4,774.1 L349.4,777.0 L349.4,779.8 L349.4,782.6 L349.4,785.4 L349.4,788.2 L349.4,791.1 L349.4,793.9 L349.4,796.7 L349.2,799.5 L348.6,802.4 L347.5,805.2 L345.9,808.0 L343.6,810.9 L340.0,813.7 L330.1,816.5" stroke-width="4.0" stroke-linejoin="round"/>
<path d="M330.1,703.5 L340.0,706.3 L343.6,709.1 L345.9,712.0 L347.5,714.8 L348.6,717.6 L349.2,720.5 L349.4,723.3 L349.4,726.1 L349.4,728.9 L349.4,731.8 L349.4,734.6 L349.4,737.4 L349.4,740.2 L349.4,743.0 L349.4,745.9 L349.4,748.7 L349.4,751.5 L349.4,754.4 L349.4,757.2 L349.4,760.0 L349.4,762.8 L349.4,765.6 L349.4,768.5 L349.4,771.3 L349.4,774.1 L349.4,777.0 L349.4,779.8 L349.4,782.6 L349.4,785.4 L349.4,788.2 L349.4,791.1 L349.4,793.9 L349.4,796.7 L349.2,799.5 L348.6,802.4 L347.5,805.2 L345.9,808.0 L343.6,810.9 L340.0,813.7 L330.1,816.5" stroke-width="1.8" stroke="#fff" stroke-linejoin="round"/>
<rect x="213.7" y="699.6" width="114.3" height="4" stroke-width="1" fill="#fff" />
<line x1="271.4" y1="706" x2="271.4" y2="810.5" stroke-width="1" />
<rect x="235.2" y="816.5" width="70.4" height="3.2" stroke-width="1" fill="#fff" />
<line x1="271.4" y1="830.5" x2="271.4" y2="876" stroke-width="1" />
<path d="M266.6,841.7 L276.4,841.7 L271.4,858.6 Z" stroke-width="1" fill="none" />
<line x1="270.2" y1="843.5" x2="271.4" y2="858" stroke-width="2" />
<path d="M243.6,880 L243.6,918.3 L251.4,932 Q272,934 295.9,932 L300.6,918.3 L300.6,880" stroke-width="1.2" fill="#fff" />
<ellipse cx="272" cy="880" rx="28.5" ry="3.8" stroke-width="1.4" fill="#fff" />
<ellipse cx="272" cy="882" rx="24" ry="2.5" stroke-width="1.8" fill="none" />
<path d="M243.6,918.3 Q272,922 300.6,918.3" stroke-width="1" fill="none" />
<line x1="265.9" y1="932" x2="265.5" y2="1003.8" stroke-width="1.1" />
<line x1="277.2" y1="932" x2="277.6" y2="1003.8" stroke-width="1.1" />
<path d="M247.2,1040.5 C256,1040.5 262,1040 268,1035 C274,1030 279,1030 281.5,1031 C284,1032 286,1033 287.7,1033.5" stroke-width="2" fill="none" />
<path d="M1470.95,941.55 L1485.27,858.33 L1484.23,854.07 L1481.73,857.67 L1465.05,940.45 Z" stroke-width="1" fill="none" />
<line x1="1471.97" y1="937.36" x2="1465.18" y2="938.49" stroke-width="1" />
<line x1="1472.54" y1="934.29" x2="1465.76" y2="935.42" stroke-width="1" />
<line x1="1473.11" y1="931.21" x2="1466.33" y2="932.34" stroke-width="1" />
<line x1="1473.69" y1="928.14" x2="1466.9" y2="929.27" stroke-width="1" />
<line x1="1474.26" y1="925.06" x2="1467.48" y2="926.2" stroke-width="1" />
<line x1="1474.84" y1="921.99" x2="1468.05" y2="923.12" stroke-width="1" />
<line x1="1475.41" y1="918.91" x2="1468.63" y2="920.05" stroke-width="1" />
<line x1="1475.98" y1="915.84" x2="1469.2" y2="916.97" stroke-width="1" />
<line x1="1476.56" y1="912.77" x2="1469.78" y2="913.9" stroke-width="1" />
<line x1="1477.13" y1="909.69" x2="1470.35" y2="910.83" stroke-width="1" />
<line x1="1477.71" y1="906.62" x2="1470.92" y2="907.75" stroke-width="1" />
<line x1="1478.28" y1="903.54" x2="1471.5" y2="904.68" stroke-width="1" />
<line x1="1478.85" y1="900.47" x2="1472.07" y2="901.6" stroke-width="1" />
<line x1="1479.43" y1="897.4" x2="1472.65" y2="898.53" stroke-width="1" />
<line x1="1480" y1="894.32" x2="1473.22" y2="895.46" stroke-width="1" />
<line x1="1480.58" y1="891.25" x2="1473.79" y2="892.38" stroke-width="1" />
<line x1="1481.15" y1="888.17" x2="1474.37" y2="889.31" stroke-width="1" />
<line x1="1481.72" y1="885.1" x2="1474.94" y2="886.23" stroke-width="1" />
<line x1="1482.3" y1="882.03" x2="1475.52" y2="883.16" stroke-width="1" />
<line x1="1482.87" y1="878.95" x2="1476.09" y2="880.09" stroke-width="1" />
<line x1="1483.45" y1="875.88" x2="1476.66" y2="877.01" stroke-width="1" />
<line x1="1484.02" y1="872.8" x2="1477.24" y2="873.94" stroke-width="1" />
<line x1="1484.6" y1="869.73" x2="1477.81" y2="870.86" stroke-width="1" />
<line x1="1485.17" y1="866.66" x2="1478.39" y2="867.79" stroke-width="1" />
<line x1="1485.74" y1="863.58" x2="1478.96" y2="864.71" stroke-width="1" />
<path d="M1472.92,942.42 L1463.08,940.58 L1462.53,943.03 L1472.36,944.87 Z" stroke-width="1.1" fill="none" />
<path d="M1513,932 L1513,866 Q1513,858.3 1520,858.3 Q1527,858.3 1527,866 L1527,932" stroke-width="1.1" fill="#fff" />
<line x1="1511" y1="932.5" x2="1531" y2="932.5" stroke-width="2.2" />
<line x1="1513" y1="866" x2="1527" y2="866" stroke-width="0.9" />
<line x1="1513" y1="871" x2="1527" y2="871" stroke-width="0.9" />
<line x1="1513" y1="876" x2="1527" y2="876" stroke-width="0.9" />
<line x1="1513" y1="881" x2="1527" y2="881" stroke-width="0.9" />
<line x1="1513" y1="886" x2="1527" y2="886" stroke-width="0.9" />
<line x1="1513" y1="891" x2="1527" y2="891" stroke-width="0.9" />
<line x1="1513" y1="896" x2="1527" y2="896" stroke-width="0.9" />
<line x1="1513" y1="901" x2="1527" y2="901" stroke-width="0.9" />
<line x1="1520" y1="858.3" x2="1520" y2="905" stroke-width="1" />
<path d="M1516,870 L1524,880 L1516,890 L1524,900" stroke-width="1.6" fill="none" />
<path d="M1513,902 L1508.6,906.5 M1527,902 L1531.8,906.5" stroke-width="1.1" fill="none" />
<rect x="1515.5" y="909" width="9" height="20" stroke-width="1" fill="none" />
<line x1="1515.5" y1="913" x2="1524.5" y2="913" stroke-width="0.9" />
<line x1="1515.5" y1="917" x2="1524.5" y2="917" stroke-width="0.9" />
<line x1="1515.5" y1="921" x2="1524.5" y2="921" stroke-width="0.9" />
<line x1="1515.5" y1="925" x2="1524.5" y2="925" stroke-width="0.9" />
<text transform="translate(1491.5,899.3) rotate(90)" font-size="12" font-weight="normal" stroke="none" fill="#000" >x2</text>
<path d="M1381.43,1066.69 L1414.86,1066.69 L1414.86,1114.28 L1381.43,1113.14 L1374.63,1092.18 L1374.63,1091.61 Z" stroke-width="1.1" fill="none" />
<path d="M1374.63,1092.18 L1414.86,1092.75" stroke-width="1.1" fill="none" />
<path d="M1383.13,1066.69 L1376.33,1091.61" stroke-width="1.1" fill="none" />
<path d="M1383.13,1113.14 L1376.33,1093.31" stroke-width="1.1" fill="none" />
<path d="M1407.49,1092.18 L1415.42,1066.69" stroke-width="1.1" fill="none" />
<path d="M1407.49,1093.31 L1412.59,1111.44" stroke-width="1.1" fill="none" />
<path d="M1414.86,1066.69 L1417.12,1067.25 L1422.79,1083.12 L1423.92,1079.72 L1459.05,1071.78" stroke-width="1.1" fill="none" />
<path d="M1414.86,1092.18 L1459.05,1086.52" stroke-width="1.1" fill="none" />
<path d="M1414.86,1103.51 L1459.05,1094.45" stroke-width="1.1" fill="none" />
<path d="M1412.59,1111.44 L1417.12,1108.05 L1459.05,1100.11 L1480.58,1100.11" stroke-width="1.1" fill="none" />
<path d="M1457.92,1068.39 L1477.18,1067.82 L1476.61,1078.58 L1464.72,1081.98 L1466.98,1087.65 L1459.05,1092.18 L1459.05,1071.78" stroke-width="1.1" fill="none" />
<path d="M1484.55,1036.09 L1476.61,1067.82" stroke-width="1.1" fill="none" />
<path d="M1486.81,1036.09 L1478.88,1067.82" stroke-width="1.1" fill="none" />
<path d="M1484.55,1036.09 L1507.21,1036.09 L1511.18,1038.92" stroke-width="1.1" fill="none" />
<path d="M1511.18,1038.92 L1513.44,1050.25 L1500.98,1094.45" stroke-width="1.1" fill="none" />
<path d="M1508.91,1038.92 L1498.71,1079.72" stroke-width="1.1" fill="none" />
<path d="M1499.28,1037.79 L1489.65,1077.45" stroke-width="1.1" fill="none" />
<path d="M1465.85,1081.98 L1478.31,1078.58 L1489.65,1078.58 L1498.71,1084.25 L1500.98,1096.71 L1480.58,1100.11 L1477.18,1081.98" stroke-width="1.1" fill="none" />
<path d="M1487.95,1036.09 L1488.51,1028.73 L1490.78,1025.89 L1500.98,1024.19 L1510.04,1025.33 L1513.44,1029.86 L1513.44,1036.66" stroke-width="1.1" fill="none" />
<path d="M1491.91,1025.33 L1494.18,1013.99 L1499.84,1008.33 L1506.64,1006.63 L1512.31,1008.33 L1515.71,1019.66 L1513.44,1029.86" stroke-width="1.1" fill="none" />
<path d="M1498.71,1011.73 L1503.24,1010.59 L1511.18,1011.73" stroke-width="1.1" fill="none" />
<path d="M1507.78,1006.06 L1511.74,986.8 L1514.58,986.8 L1511.18,1006.06" stroke-width="1.1" fill="none" />
<path d="M1510.04,991.33 L1513.44,990.76" stroke-width="1" fill="none" />
<path d="M1510.04,994.73 L1513.44,994.16" stroke-width="1" fill="none" />
<path d="M1510.04,998.13 L1513.44,997.56" stroke-width="1" fill="none" />
<path d="M1510.04,1001.53 L1513.44,1000.96" stroke-width="1" fill="none" />
<path d="M718.0,750.0 L717.8,753.3 L717.3,756.5 L716.5,759.8 L715.3,763.0 L713.8,766.1 L711.9,769.1 L709.8,772.1 L707.4,774.9 L704.6,777.6 L701.6,780.2 L698.4,782.6 L694.8,784.9 L691.1,787.0 L687.1,789.0 L683.0,790.7 L678.7,792.2 L674.2,793.6 L669.6,794.7 L664.9,795.6 L660.2,796.3 L655.3,796.7 L650.4,797.0 L645.6,797.0 L640.7,796.7 L635.8,796.3 L631.1,795.6 L626.4,794.7 L621.8,793.6 L617.3,792.2 L613.0,790.7 L608.9,789.0 L604.9,787.0 L601.2,784.9 L597.6,782.6 L594.4,780.2 L591.4,777.6 L588.6,774.9 L586.2,772.1 L584.1,769.1 L582.2,766.1 L580.7,763.0 L579.5,759.8 L578.7,756.5 L578.2,753.3 L578.0,750.0 L578.2,746.7 L578.7,743.5 L579.5,740.2 L580.7,737.0 L582.2,733.9 L584.1,730.9 L586.2,727.9 L588.6,725.1 L591.4,722.4 L594.4,719.8 L597.6,717.4 L601.2,715.1 L604.9,713.0 L608.9,711.0 L613.0,709.3 L617.3,707.8 L621.8,706.4 L626.4,705.3 L631.1,704.4 L635.8,703.7 L640.7,703.3 L645.6,703.0 L650.4,703.0 L655.3,703.3 L660.2,703.7 L664.9,704.4 L669.6,705.3 L674.2,706.4 L678.7,707.8 L683.0,709.3 L687.1,711.0 L691.1,713.0 L694.8,715.1 L698.4,717.4 L701.6,719.8 L704.6,722.4 L707.4,725.1 L709.8,727.9 L711.9,730.9 L713.8,733.9 L715.3,737.0 L716.5,740.2 L717.3,743.5 L717.8,746.7 L718.0,750.0 Z" stroke-width="13.00" stroke-linecap="butt" stroke-linejoin="round"/>
<path d="M718.0,750.0 L717.8,753.3 L717.3,756.5 L716.5,759.8 L715.3,763.0 L713.8,766.1 L711.9,769.1 L709.8,772.1 L707.4,774.9 L704.6,777.6 L701.6,780.2 L698.4,782.6 L694.8,784.9 L691.1,787.0 L687.1,789.0 L683.0,790.7 L678.7,792.2 L674.2,793.6 L669.6,794.7 L664.9,795.6 L660.2,796.3 L655.3,796.7 L650.4,797.0 L645.6,797.0 L640.7,796.7 L635.8,796.3 L631.1,795.6 L626.4,794.7 L621.8,793.6 L617.3,792.2 L613.0,790.7 L608.9,789.0 L604.9,787.0 L601.2,784.9 L597.6,782.6 L594.4,780.2 L591.4,777.6 L588.6,774.9 L586.2,772.1 L584.1,769.1 L582.2,766.1 L580.7,763.0 L579.5,759.8 L578.7,756.5 L578.2,753.3 L578.0,750.0 L578.2,746.7 L578.7,743.5 L579.5,740.2 L580.7,737.0 L582.2,733.9 L584.1,730.9 L586.2,727.9 L588.6,725.1 L591.4,722.4 L594.4,719.8 L597.6,717.4 L601.2,715.1 L604.9,713.0 L608.9,711.0 L613.0,709.3 L617.3,707.8 L621.8,706.4 L626.4,705.3 L631.1,704.4 L635.8,703.7 L640.7,703.3 L645.6,703.0 L650.4,703.0 L655.3,703.3 L660.2,703.7 L664.9,704.4 L669.6,705.3 L674.2,706.4 L678.7,707.8 L683.0,709.3 L687.1,711.0 L691.1,713.0 L694.8,715.1 L698.4,717.4 L701.6,719.8 L704.6,722.4 L707.4,725.1 L709.8,727.9 L711.9,730.9 L713.8,733.9 L715.3,737.0 L716.5,740.2 L717.3,743.5 L717.8,746.7 L718.0,750.0 Z" stroke-width="11.00" stroke="#fff" stroke-linecap="butt" stroke-linejoin="round"/>
<rect x="642" y="610.3" width="230.5" height="12.2" stroke-width="1" fill="#fff" />
<ellipse cx="872.5" cy="616.4" rx="1.6" ry="8.3" stroke-width="1.2" fill="#fff" />
<rect x="641.6" y="633.2" width="227.2" height="12.8" stroke-width="1" fill="#fff" />
<ellipse cx="868.8" cy="639.6" rx="1.6" ry="8.6" stroke-width="1.2" fill="#fff" />
<rect x="650" y="646" width="226" height="12" stroke-width="1" fill="#fff" />
<ellipse cx="876" cy="652" rx="1.6" ry="8.2" stroke-width="1.2" fill="#fff" />
<rect x="643" y="680.5" width="225.8" height="9.5" stroke-width="1" fill="#fff" />
<ellipse cx="868.8" cy="685.25" rx="1.6" ry="6.95" stroke-width="1.2" fill="#fff" />
<rect x="648" y="690" width="226" height="12" stroke-width="1" fill="#fff" />
<ellipse cx="874" cy="696" rx="1.6" ry="8.2" stroke-width="1.2" fill="#fff" />
<path d="M605.0,398.0 L706.0,690.0" stroke-width="13.00" stroke-linecap="butt" stroke-linejoin="round"/>
<path d="M605.0,398.0 L706.0,690.0" stroke-width="11.00" stroke="#fff" stroke-linecap="butt" stroke-linejoin="round"/>
<path d="M576.0,516.0 L606.0,566.0 L634.0,616.0" stroke-width="13.00" stroke-linecap="butt" stroke-linejoin="round"/>
<path d="M576.0,516.0 L606.0,566.0 L634.0,616.0" stroke-width="11.00" stroke="#fff" stroke-linecap="butt" stroke-linejoin="round"/>
<path d="M584,590 C620,584 660,578 688,576 C697,575.5 697,583 690,585 C660,596 620,612 582,628" stroke-width="12.00" stroke-linecap="butt" stroke-linejoin="round"/>
<path d="M584,590 C620,584 660,578 688,576 C697,575.5 697,583 690,585 C660,596 620,612 582,628" stroke-width="10.00" stroke="#fff" stroke-linecap="butt" stroke-linejoin="round"/>
<path d="M583.1,605.3 L582.1,602.5 L581.3,599.7 L580.5,596.8 L579.9,593.9 L579.5,590.9 L579.1,588.0 L578.9,585.0 L578.8,582.1 L578.8,579.1 L578.9,576.1 L579.2,573.2 L579.5,570.2 L580.0,567.3 L580.7,564.4 L581.4,561.5 L582.3,558.7 L583.2,555.9 L584.3,553.1 L585.5,550.4 L586.9,547.8 L588.3,545.2 L589.8,542.6 L591.5,540.2 L593.2,537.8 L595.0,535.4 L597.0,533.2 L599.0,531.0 L601.1,528.9 L603.3,526.9 L605.6,525.0 L607.9,523.2 L610.4,521.5 L612.9,519.9 L615.4,518.4 L618.0,517.0 L620.7,515.7 L623.4,514.6 L626.2,513.5 L629.0,512.6 L631.9,511.8 L634.8,511.0 L637.7,510.5 L640.6,510.0 L643.5,509.7 L646.5,509.4 L649.5,509.4 L652.4,509.4 L655.4,509.5 L658.4,509.8 L661.3,510.2 L664.2,510.7 L667.1,511.4 L670.0,512.1 L672.8,513.0 L675.6,514.0 L678.4,515.1 L681.1,516.3 L683.7,517.7 L686.3,519.1 L688.8,520.7 L691.3,522.3 L693.7,524.1 L696.0,525.9 L698.3,527.9 L700.4,529.9 L702.5,532.0 L704.5,534.2 L706.4,536.5 L708.1,538.9 L709.8,541.3 L711.4,543.8 L712.9,546.4 L714.3,549.0 L715.5,551.7 L716.7,554.5 L717.7,557.2 L718.7,560.1 L719.5,562.9 L720.1,565.8 L720.7,568.7 L721.2,571.6 L721.5,574.6 L721.7,577.6 L721.7,580.5 L721.7,583.5 L721.5,586.4 L721.2,589.4 L720.8,592.3 L720.3,595.3 L719.6,598.1 L719.0,600.0 L601.0,908.0" stroke-width="13.00" stroke-linecap="butt" stroke-linejoin="round"/>
<path d="M583.1,605.3 L582.1,602.5 L581.3,599.7 L580.5,596.8 L579.9,593.9 L579.5,590.9 L579.1,588.0 L578.9,585.0 L578.8,582.1 L578.8,579.1 L578.9,576.1 L579.2,573.2 L579.5,570.2 L580.0,567.3 L580.7,564.4 L581.4,561.5 L582.3,558.7 L583.2,555.9 L584.3,553.1 L585.5,550.4 L586.9,547.8 L588.3,545.2 L589.8,542.6 L591.5,540.2 L593.2,537.8 L595.0,535.4 L597.0,533.2 L599.0,531.0 L601.1,528.9 L603.3,526.9 L605.6,525.0 L607.9,523.2 L610.4,521.5 L612.9,519.9 L615.4,518.4 L618.0,517.0 L620.7,515.7 L623.4,514.6 L626.2,513.5 L629.0,512.6 L631.9,511.8 L634.8,511.0 L637.7,510.5 L640.6,510.0 L643.5,509.7 L646.5,509.4 L649.5,509.4 L652.4,509.4 L655.4,509.5 L658.4,509.8 L661.3,510.2 L664.2,510.7 L667.1,511.4 L670.0,512.1 L672.8,513.0 L675.6,514.0 L678.4,515.1 L681.1,516.3 L683.7,517.7 L686.3,519.1 L688.8,520.7 L691.3,522.3 L693.7,524.1 L696.0,525.9 L698.3,527.9 L700.4,529.9 L702.5,532.0 L704.5,534.2 L706.4,536.5 L708.1,538.9 L709.8,541.3 L711.4,543.8 L712.9,546.4 L714.3,549.0 L715.5,551.7 L716.7,554.5 L717.7,557.2 L718.7,560.1 L719.5,562.9 L720.1,565.8 L720.7,568.7 L721.2,571.6 L721.5,574.6 L721.7,577.6 L721.7,580.5 L721.7,583.5 L721.5,586.4 L721.2,589.4 L720.8,592.3 L720.3,595.3 L719.6,598.1 L719.0,600.0 L601.0,908.0" stroke-width="11.00" stroke="#fff" stroke-linecap="butt" stroke-linejoin="round"/>
<path d="M588,664 C610,650 640,642 670,644 C700,646 727,660 728,682 C729,705 722,720 709,731 L577,839" stroke-width="12.50" stroke-linecap="butt" stroke-linejoin="round"/>
<path d="M588,664 C610,650 640,642 670,644 C700,646 727,660 728,682 C729,705 722,720 709,731 L577,839" stroke-width="10.50" stroke="#fff" stroke-linecap="butt" stroke-linejoin="round"/>
<path d="M589.7,391.3 L589.7,390.9 L589.9,390.5 L590.1,390.1 L590.4,389.7 L590.8,389.3 L591.3,388.9 L591.8,388.5 L592.5,388.1 L593.1,387.8 L593.8,387.5 L594.5,387.2 L595.3,387.0 L596.0,386.8 L596.8,386.6 L597.5,386.6 L598.1,386.5 L598.8,386.6 L599.3,386.6 L599.8,386.8 L600.3,386.9 L600.6,387.2 L600.9,387.4 L601.0,387.8 L604.2,397.1 L604.3,397.5 L604.3,397.8 L604.1,398.2 L603.9,398.6 L603.6,399.0 L603.2,399.4 L602.7,399.9 L602.2,400.2 L601.6,400.6 L600.9,401.0 L600.2,401.3 L599.5,401.6 L598.7,401.8 L598.0,402.0 L597.3,402.1 L596.5,402.2 L595.9,402.2 L595.2,402.2 L594.7,402.1 L594.2,402.0 L593.8,401.8 L593.4,401.6 L593.2,401.3 L593.0,401.0 L589.8,391.6 Z" fill="#fff" stroke-width="1"/><path d="M601.1,388.5 L600.9,388.9 L600.7,389.3 L600.4,389.7 L600.0,390.1 L599.5,390.5 L599.0,390.9 L598.3,391.2 L597.7,391.6 L597.0,391.9 L596.3,392.2 L595.5,392.4 L594.8,392.6 L594.0,392.7 L593.3,392.8 L592.7,392.8 L592.0,392.8 L591.5,392.7 L591.0,392.6 L590.5,392.4 L590.2,392.2 L589.9,391.9 L589.8,391.6 L589.7,391.3 L589.7,390.9 L589.9,390.5 L590.1,390.1 L590.4,389.7 L590.8,389.3 L591.3,388.9 L591.8,388.5 L592.5,388.1 L593.1,387.8 L593.8,387.5 L594.5,387.2 L595.3,387.0 L596.0,386.8 L596.8,386.7 L597.5,386.6 L598.1,386.5 L598.8,386.6 L599.3,386.6 L599.8,386.8 L600.3,386.9 L600.6,387.2 L600.9,387.4 L601.0,387.8 L601.1,388.1 L601.1,388.5 Z" stroke-width="1" fill="none"/>
<path d="M576.6,389.4 L576.7,388.3 L577.1,387.2 L577.8,385.9 L578.7,384.7 L579.9,383.5 L581.4,382.3 L583.0,381.1 L584.8,380.0 L586.8,378.9 L588.9,378.0 L591.1,377.2 L593.3,376.5 L595.5,375.9 L597.7,375.5 L599.9,375.3 L601.9,375.2 L603.8,375.3 L605.5,375.5 L607.0,375.9 L608.3,376.4 L609.3,377.1 L610.0,377.9 L610.5,378.8 L612.3,383.9 L612.5,384.9 L612.4,386.0 L612.0,387.2 L611.3,388.4 L610.4,389.6 L609.1,390.9 L607.7,392.1 L606.1,393.2 L604.2,394.4 L602.2,395.4 L600.1,396.3 L598.0,397.1 L595.7,397.9 L593.5,398.4 L591.3,398.8 L589.2,399.1 L587.2,399.1 L585.3,399.1 L583.6,398.9 L582.1,398.5 L580.8,397.9 L579.8,397.2 L579.0,396.4 L578.5,395.5 L576.8,390.5 Z" fill="#fff" stroke-width="1"/><path d="M610.6,381.0 L610.2,382.1 L609.6,383.3 L608.6,384.6 L607.4,385.8 L606.0,387.0 L604.3,388.2 L602.5,389.3 L600.5,390.3 L598.4,391.3 L596.2,392.1 L594.0,392.8 L591.8,393.4 L589.6,393.8 L587.4,394.0 L585.4,394.1 L583.5,394.0 L581.8,393.8 L580.3,393.4 L579.1,392.9 L578.0,392.2 L577.3,391.4 L576.8,390.5 L576.6,389.4 L576.7,388.3 L577.1,387.2 L577.8,386.0 L578.7,384.7 L579.9,383.5 L581.3,382.3 L583.0,381.1 L584.8,380.0 L586.8,378.9 L588.9,378.0 L591.1,377.2 L593.3,376.5 L595.5,375.9 L597.7,375.5 L599.9,375.3 L601.9,375.2 L603.8,375.3 L605.5,375.5 L607.0,375.9 L608.3,376.4 L609.3,377.1 L610.1,377.9 L610.5,378.8 L610.7,379.9 L610.6,381.0 Z" stroke-width="1" fill="none"/>
<path d="M556.8,357.8 L556.9,356.2 L557.5,354.5 L558.5,352.7 L559.9,350.9 L561.7,349.1 L563.8,347.2 L566.2,345.5 L569.0,343.9 L571.9,342.4 L575.0,341.0 L578.2,339.8 L581.5,338.7 L584.8,337.9 L588.0,337.3 L591.2,336.9 L594.1,336.8 L596.9,336.9 L599.4,337.2 L601.7,337.8 L603.5,338.6 L605.1,339.6 L606.2,340.8 L606.9,342.2 L618.6,376.1 L618.9,377.6 L618.7,379.2 L618.1,380.9 L617.1,382.7 L615.7,384.5 L614.0,386.4 L611.8,388.2 L609.4,389.9 L606.7,391.5 L603.8,393.1 L600.7,394.4 L597.5,395.7 L594.2,396.7 L590.9,397.5 L587.6,398.1 L584.5,398.5 L581.5,398.6 L578.7,398.5 L576.2,398.2 L574.0,397.6 L572.1,396.8 L570.6,395.8 L569.5,394.6 L568.8,393.2 L557.1,359.4 Z" fill="#fff" stroke-width="1"/><path d="M607.0,345.3 L606.5,347.1 L605.5,348.8 L604.1,350.7 L602.3,352.5 L600.2,354.3 L597.7,356.0 L595.0,357.7 L592.1,359.2 L589.0,360.6 L585.8,361.8 L582.5,362.8 L579.2,363.6 L576.0,364.2 L572.8,364.6 L569.8,364.7 L567.1,364.6 L564.5,364.3 L562.3,363.7 L560.4,362.9 L558.9,361.9 L557.8,360.7 L557.1,359.3 L556.8,357.8 L556.9,356.2 L557.5,354.5 L558.5,352.7 L559.9,350.9 L561.7,349.0 L563.8,347.3 L566.2,345.5 L568.9,343.9 L571.9,342.3 L575.0,341.0 L578.2,339.8 L581.5,338.7 L584.8,337.9 L588.0,337.3 L591.2,336.9 L594.1,336.8 L596.9,336.9 L599.4,337.3 L601.7,337.8 L603.6,338.6 L605.1,339.6 L606.2,340.8 L606.9,342.2 L607.2,343.7 L607.0,345.3 Z" stroke-width="1" fill="none"/>
<path d="M555.6,351.8 L555.8,350.3 L556.3,348.6 L557.3,346.9 L558.6,345.1 L560.4,343.3 L562.4,341.6 L564.8,339.9 L567.4,338.3 L570.2,336.9 L573.2,335.5 L576.3,334.3 L579.5,333.4 L582.7,332.6 L585.8,332.0 L588.9,331.6 L591.8,331.5 L594.5,331.6 L596.9,331.9 L599.0,332.5 L600.9,333.2 L602.3,334.2 L603.4,335.4 L604.1,336.7 L606.1,342.5 L606.4,343.9 L606.2,345.5 L605.7,347.2 L604.7,348.9 L603.4,350.7 L601.6,352.4 L599.6,354.2 L597.2,355.8 L594.6,357.4 L591.8,358.9 L588.8,360.2 L585.7,361.4 L582.5,362.4 L579.3,363.2 L576.1,363.8 L573.1,364.1 L570.2,364.3 L567.5,364.2 L565.1,363.9 L562.9,363.3 L561.1,362.5 L559.6,361.6 L558.6,360.4 L557.9,359.1 L555.9,353.3 Z" fill="#fff" stroke-width="1"/><path d="M604.2,339.7 L603.7,341.4 L602.7,343.1 L601.4,344.9 L599.6,346.7 L597.6,348.4 L595.2,350.1 L592.6,351.7 L589.8,353.1 L586.8,354.5 L583.7,355.7 L580.5,356.7 L577.3,357.4 L574.2,358.0 L571.1,358.4 L568.2,358.5 L565.5,358.4 L563.1,358.1 L561.0,357.5 L559.1,356.8 L557.7,355.8 L556.6,354.6 L555.9,353.3 L555.6,351.8 L555.8,350.3 L556.3,348.6 L557.3,346.9 L558.6,345.1 L560.4,343.3 L562.4,341.6 L564.8,339.9 L567.4,338.3 L570.2,336.9 L573.2,335.5 L576.3,334.3 L579.5,333.3 L582.7,332.6 L585.8,332.0 L588.9,331.6 L591.8,331.5 L594.5,331.6 L596.9,331.9 L599.0,332.5 L600.9,333.2 L602.3,334.2 L603.4,335.4 L604.1,336.7 L604.4,338.2 L604.2,339.7 Z" stroke-width="1" fill="none"/>
<path d="M599.5,336.1 L599.0,337.6 L598.2,339.1 L597.0,340.6 L595.5,342.1 L593.8,343.6 L591.7,345.1 L589.4,346.5 L587.0,347.7 L584.4,348.9 L581.7,349.9 L578.9,350.8 L576.2,351.5 L573.5,352.0 L570.8,352.3 L568.3,352.4 L566.0,352.3 L563.9,352.0 L562.0,351.5 L560.4,350.9 L559.2,350.0 L558.2,349.0 L557.6,347.9 L557.4,346.6 L557.5,345.2 L558.0,343.8 L558.8,342.3 L560.0,340.8 L561.5,339.2 L563.3,337.7 L565.3,336.3 L567.6,334.9 L570.0,333.6 L572.6,332.5 L575.3,331.4 L578.1,330.6 L580.8,329.9 L583.6,329.4 L586.2,329.1 L588.7,329.0 L591.0,329.1 L593.1,329.3 L595.0,329.8 L596.6,330.5 L597.9,331.3 L598.8,332.3 L599.4,333.5 L599.6,334.7 L599.5,336.1 Z" stroke-width="3.2" fill="none"/><path d="M595.5,337.0 L595.1,338.2 L594.4,339.4 L593.5,340.6 L592.3,341.8 L590.8,343.1 L589.2,344.2 L587.3,345.3 L585.4,346.4 L583.3,347.3 L581.1,348.1 L578.9,348.8 L576.6,349.4 L574.4,349.8 L572.3,350.0 L570.3,350.1 L568.4,350.1 L566.7,349.8 L565.2,349.4 L563.9,348.9 L562.9,348.2 L562.1,347.4 L561.6,346.5 L561.4,345.5 L561.5,344.4 L561.9,343.2 L562.6,342.0 L563.6,340.7 L564.8,339.5 L566.2,338.3 L567.8,337.1 L569.7,336.0 L571.7,335.0 L573.8,334.0 L575.9,333.2 L578.2,332.5 L580.4,332.0 L582.6,331.6 L584.7,331.3 L586.7,331.2 L588.6,331.3 L590.3,331.5 L591.8,331.9 L593.1,332.4 L594.1,333.1 L594.9,333.9 L595.4,334.9 L595.6,335.9 L595.5,337.0 Z" stroke-width="1.2" fill="none"/><path d="M605.4,337.9 L604.8,339.7 L603.7,341.6 L602.3,343.5 L600.5,345.3 L598.3,347.2 L595.8,349.0 L593.0,350.7 L589.9,352.2 L586.7,353.7 L583.4,354.9 L580.0,356.0 L576.6,356.8 L573.3,357.5 L570.0,357.8 L567.0,358.0 L564.1,357.9 L561.5,357.5 L559.2,356.9 L557.2,356.1 L555.7,355.1 L554.5,353.8 L553.8,352.4 L553.5,350.9 L553.6,349.2 L554.2,347.4 L555.3,345.5 L556.7,343.7 L558.5,341.8 L560.7,339.9 L563.3,338.1 L566.0,336.4 L569.1,334.9 L572.3,333.4 L575.6,332.2 L579.0,331.1 L582.4,330.3 L585.7,329.7 L589.0,329.3 L592.1,329.1 L594.9,329.3 L597.5,329.6 L599.8,330.2 L601.8,331.0 L603.3,332.1 L604.5,333.3 L605.2,334.7 L605.5,336.3 L605.4,337.9 Z" stroke-width="1" fill="none"/><path d="M597.3,333.5 L596.9,334.9 L596.1,336.3 L595.0,337.7 L593.6,339.2 L591.9,340.6 L590.0,341.9 L587.8,343.2 L585.5,344.4 L583.1,345.5 L580.5,346.5 L577.9,347.3 L575.3,348.0 L572.8,348.4 L570.3,348.7 L567.9,348.8 L565.7,348.7 L563.7,348.5 L562.0,348.0 L560.5,347.4 L559.3,346.6 L558.4,345.7 L557.8,344.6 L557.6,343.4 L557.7,342.1 L558.2,340.7 L559.0,339.3 L560.1,337.9 L561.5,336.4 L563.2,335.0 L565.1,333.6 L567.2,332.3 L569.5,331.1 L572.0,330.0 L574.5,329.1 L577.1,328.3 L579.7,327.6 L582.3,327.2 L584.8,326.9 L587.1,326.8 L589.3,326.8 L591.3,327.1 L593.1,327.6 L594.6,328.2 L595.8,329.0 L596.6,329.9 L597.2,331.0 L597.4,332.2 L597.3,333.5 Z" stroke-width="2" stroke-dasharray="2 1.5" fill="none"/>
<path d="M565.7,327.2 L562.5,321.9 L560.9,318.7 L559.6,315.9 L558.5,313.3 L557.6,310.9 L556.8,308.6 L556.0,306.5 L555.3,304.3 L554.6,302.2 L553.8,300.0" stroke-width="4.00" stroke-linejoin="round"/><path d="M565.7,327.2 L562.5,321.9 L560.9,318.7 L559.6,315.9 L558.5,313.3 L557.6,310.9 L556.8,308.6 L556.0,306.5 L555.3,304.3 L554.6,302.2 L553.8,300.0" stroke-width="1.80" stroke="#fff" stroke-linejoin="round"/>
<path d="M556.7,331.5 L551.9,327.0 L549.8,324.1 L548.2,321.4 L546.9,318.9 L545.8,316.6 L545.0,314.4 L544.2,312.2 L543.5,310.0 L542.7,307.9 L542.0,305.7" stroke-width="4.00" stroke-linejoin="round"/><path d="M556.7,331.5 L551.9,327.0 L549.8,324.1 L548.2,321.4 L546.9,318.9 L545.8,316.6 L545.0,314.4 L544.2,312.2 L543.5,310.0 L542.7,307.9 L542.0,305.7" stroke-width="1.80" stroke="#fff" stroke-linejoin="round"/>
<path d="M556.7,331.5 L558.8,330.4 L561.1,329.3 L563.4,328.2 L565.7,327.2" stroke-width="4.00" stroke-linejoin="round"/><path d="M556.7,331.5 L558.8,330.4 L561.1,329.3 L563.4,328.2 L565.7,327.2" stroke-width="1.80" stroke="#fff" stroke-linejoin="round"/>
<path d="M553.8,300.0 L553.1,297.8 L552.3,295.7 L551.6,293.5 L550.8,291.3 L550.1,289.2 L549.3,287.0 L548.6,284.9 L547.8,282.7 L547.1,280.5 L546.4,278.4" stroke-width="4.00" stroke-linejoin="round"/><path d="M553.8,300.0 L553.1,297.8 L552.3,295.7 L551.6,293.5 L550.8,291.3 L550.1,289.2 L549.3,287.0 L548.6,284.9 L547.8,282.7 L547.1,280.5 L546.4,278.4" stroke-width="1.80" stroke="#fff" stroke-linejoin="round"/>
<path d="M603.8,318.9 L607.2,312.2 L607.8,308.5 L608.0,305.4 L607.8,302.6 L607.4,300.1 L606.7,297.8 L606.0,295.6 L605.2,293.5 L604.5,291.3 L603.8,289.1" stroke-width="4.00" stroke-linejoin="round"/><path d="M603.8,318.9 L607.2,312.2 L607.8,308.5 L608.0,305.4 L607.8,302.6 L607.4,300.1 L606.7,297.8 L606.0,295.6 L605.2,293.5 L604.5,291.3 L603.8,289.1" stroke-width="1.80" stroke="#fff" stroke-linejoin="round"/>
<path d="M542.0,305.7 L541.2,303.5 L540.5,301.4 L539.7,299.2 L539.0,297.1 L538.3,294.9 L537.5,292.7 L536.8,290.6 L536.0,288.4 L535.3,286.2 L534.5,284.1" stroke-width="4.00" stroke-linejoin="round"/><path d="M542.0,305.7 L541.2,303.5 L540.5,301.4 L539.7,299.2 L539.0,297.1 L538.3,294.9 L537.5,292.7 L536.8,290.6 L536.0,288.4 L535.3,286.2 L534.5,284.1" stroke-width="1.80" stroke="#fff" stroke-linejoin="round"/>
<path d="M603.8,318.9 L605.9,318.9 L607.9,319.1 L609.9,319.3 L611.8,319.6" stroke-width="4.00" stroke-linejoin="round"/><path d="M603.8,318.9 L605.9,318.9 L607.9,319.1 L609.9,319.3 L611.8,319.6" stroke-width="1.80" stroke="#fff" stroke-linejoin="round"/>
<path d="M571.5,337.9 L569.4,336.2 L567.3,334.5 L565.3,332.7 L563.2,331.0 L561.1,329.3" stroke-width="4.00" stroke-linejoin="round"/><path d="M571.5,337.9 L569.4,336.2 L567.3,334.5 L565.3,332.7 L563.2,331.0 L561.1,329.3" stroke-width="1.80" stroke="#fff" stroke-linejoin="round"/>
<path d="M611.8,319.6 L616.5,313.0 L617.6,309.3 L618.1,306.2 L618.1,303.5 L617.7,301.0 L617.1,298.7 L616.4,296.5 L615.7,294.4 L614.9,292.2 L614.2,290.0" stroke-width="4.00" stroke-linejoin="round"/><path d="M611.8,319.6 L616.5,313.0 L617.6,309.3 L618.1,306.2 L618.1,303.5 L617.7,301.0 L617.1,298.7 L616.4,296.5 L615.7,294.4 L614.9,292.2 L614.2,290.0" stroke-width="1.80" stroke="#fff" stroke-linejoin="round"/>
<path d="M546.4,278.4 L545.6,276.2 L544.9,274.0 L544.1,271.9 L543.4,269.7 L542.6,267.6 L541.9,265.4 L541.1,263.2 L540.4,261.1 L539.7,258.9 L538.9,256.7" stroke-width="4.00" stroke-linejoin="round"/><path d="M546.4,278.4 L545.6,276.2 L544.9,274.0 L544.1,271.9 L543.4,269.7 L542.6,267.6 L541.9,265.4 L541.1,263.2 L540.4,261.1 L539.7,258.9 L538.9,256.7" stroke-width="1.80" stroke="#fff" stroke-linejoin="round"/>
<path d="M603.8,289.1 L603.0,287.0 L602.3,284.8 L601.5,282.7 L600.8,280.5 L600.0,278.3 L599.3,276.2 L598.5,274.0 L597.8,271.8 L597.1,269.7 L596.3,267.5" stroke-width="4.00" stroke-linejoin="round"/><path d="M603.8,289.1 L603.0,287.0 L602.3,284.8 L601.5,282.7 L600.8,280.5 L600.0,278.3 L599.3,276.2 L598.5,274.0 L597.8,271.8 L597.1,269.7 L596.3,267.5" stroke-width="1.80" stroke="#fff" stroke-linejoin="round"/>
<path d="M534.5,284.1 L533.8,281.9 L533.0,279.8 L532.3,277.6 L531.5,275.4 L530.8,273.3 L530.1,271.1 L529.3,268.9 L528.6,266.8 L527.8,264.6 L527.1,262.5" stroke-width="4.00" stroke-linejoin="round"/><path d="M534.5,284.1 L533.8,281.9 L533.0,279.8 L532.3,277.6 L531.5,275.4 L530.8,273.3 L530.1,271.1 L529.3,268.9 L528.6,266.8 L527.8,264.6 L527.1,262.5" stroke-width="1.80" stroke="#fff" stroke-linejoin="round"/>
<path d="M592.5,333.4 L595.6,330.5 L598.7,327.7 L601.8,324.8 L604.9,321.9 L607.9,319.1" stroke-width="4.00" stroke-linejoin="round"/><path d="M592.5,333.4 L595.6,330.5 L598.7,327.7 L601.8,324.8 L604.9,321.9 L607.9,319.1" stroke-width="1.80" stroke="#fff" stroke-linejoin="round"/>
<path d="M614.2,290.0 L613.4,287.9 L612.7,285.7 L611.9,283.5 L611.2,281.4 L610.4,279.2 L609.7,277.1 L608.9,274.9 L608.2,272.7 L607.5,270.6 L606.7,268.4" stroke-width="4.00" stroke-linejoin="round"/><path d="M614.2,290.0 L613.4,287.9 L612.7,285.7 L611.9,283.5 L611.2,281.4 L610.4,279.2 L609.7,277.1 L608.9,274.9 L608.2,272.7 L607.5,270.6 L606.7,268.4" stroke-width="1.80" stroke="#fff" stroke-linejoin="round"/>
<path d="M596.3,267.5 L595.6,265.4 L594.8,263.2 L594.1,261.0 L593.3,258.9 L592.6,256.7 L591.8,254.5 L591.1,252.4 L590.3,250.2 L589.6,248.1 L588.9,245.9" stroke-width="4.00" stroke-linejoin="round"/><path d="M596.3,267.5 L595.6,265.4 L594.8,263.2 L594.1,261.0 L593.3,258.9 L592.6,256.7 L591.8,254.5 L591.1,252.4 L590.3,250.2 L589.6,248.1 L588.9,245.9" stroke-width="1.80" stroke="#fff" stroke-linejoin="round"/>
<path d="M538.9,256.7 L538.2,254.6 L537.4,252.4 L536.7,250.3 L535.9,248.1 L535.2,246.0 L534.7,244.1 L534.3,242.3 L534.1,240.9 L534.2,239.8 L535.9,240.7" stroke-width="4.00" stroke-linejoin="round"/><path d="M538.9,256.7 L538.2,254.6 L537.4,252.4 L536.7,250.3 L535.9,248.1 L535.2,246.0 L534.7,244.1 L534.3,242.3 L534.1,240.9 L534.2,239.8 L535.9,240.7" stroke-width="1.80" stroke="#fff" stroke-linejoin="round"/>
<path d="M533.9,352.6 L525.3,351.7 L521.8,350.0 L519.3,348.2 L517.5,346.2 L516.1,344.1 L515.2,342.0 L514.4,339.8 L513.7,337.7 L512.9,335.5 L512.2,333.3" stroke-width="4.00" stroke-linejoin="round"/><path d="M533.9,352.6 L525.3,351.7 L521.8,350.0 L519.3,348.2 L517.5,346.2 L516.1,344.1 L515.2,342.0 L514.4,339.8 L513.7,337.7 L512.9,335.5 L512.2,333.3" stroke-width="1.80" stroke="#fff" stroke-linejoin="round"/>
<path d="M527.1,262.5 L526.3,260.3 L525.6,258.1 L524.8,256.0 L524.1,253.8 L523.5,251.7 L523.0,249.7 L522.8,247.9 L523.0,246.2 L523.6,244.9 L526.9,245.0" stroke-width="4.00" stroke-linejoin="round"/><path d="M527.1,262.5 L526.3,260.3 L525.6,258.1 L524.8,256.0 L524.1,253.8 L523.5,251.7 L523.0,249.7 L522.8,247.9 L523.0,246.2 L523.6,244.9 L526.9,245.0" stroke-width="1.80" stroke="#fff" stroke-linejoin="round"/>
<path d="M532.9,357.6 L532.9,356.4 L533.1,355.2 L533.5,353.9 L533.9,352.6" stroke-width="4.00" stroke-linejoin="round"/><path d="M532.9,357.6 L532.9,356.4 L533.1,355.2 L533.5,353.9 L533.9,352.6" stroke-width="1.80" stroke="#fff" stroke-linejoin="round"/>
<path d="M559.0,349.6 L553.8,350.7 L548.7,351.8 L543.5,352.9 L538.3,354.1 L533.1,355.2" stroke-width="4.00" stroke-linejoin="round"/><path d="M559.0,349.6 L553.8,350.7 L548.7,351.8 L543.5,352.9 L538.3,354.1 L533.1,355.2" stroke-width="1.80" stroke="#fff" stroke-linejoin="round"/>
<path d="M606.7,268.4 L606.0,266.2 L605.2,264.1 L604.5,261.9 L603.7,259.8 L603.0,257.6 L602.2,255.4 L601.5,253.3 L600.8,251.1 L600.0,248.9 L599.3,246.8" stroke-width="4.00" stroke-linejoin="round"/><path d="M606.7,268.4 L606.0,266.2 L605.2,264.1 L604.5,261.9 L603.7,259.8 L603.0,257.6 L602.2,255.4 L601.5,253.3 L600.8,251.1 L600.0,248.9 L599.3,246.8" stroke-width="1.80" stroke="#fff" stroke-linejoin="round"/>
<path d="M512.2,333.3 L511.5,331.2 L510.7,329.0 L510.0,326.9 L509.2,324.7 L508.5,322.5 L507.7,320.4 L507.0,318.2 L506.2,316.0 L505.5,313.9 L504.7,311.7" stroke-width="4.00" stroke-linejoin="round"/><path d="M512.2,333.3 L511.5,331.2 L510.7,329.0 L510.0,326.9 L509.2,324.7 L508.5,322.5 L507.7,320.4 L507.0,318.2 L506.2,316.0 L505.5,313.9 L504.7,311.7" stroke-width="1.80" stroke="#fff" stroke-linejoin="round"/>
<path d="M588.9,245.9 L588.1,243.7 L587.4,241.6 L586.6,239.4 L585.9,237.2 L585.0,235.2 L584.0,233.4 L582.7,231.8 L581.0,230.7 L578.8,230.1 L574.0,232.4" stroke-width="4.00" stroke-linejoin="round"/><path d="M588.9,245.9 L588.1,243.7 L587.4,241.6 L586.6,239.4 L585.9,237.2 L585.0,235.2 L584.0,233.4 L582.7,231.8 L581.0,230.7 L578.8,230.1 L574.0,232.4" stroke-width="1.80" stroke="#fff" stroke-linejoin="round"/>
<path d="M532.9,357.6 L524.0,357.6 L520.5,356.2 L517.9,354.5 L516.1,352.7 L514.7,350.7 L513.7,348.6 L513.0,346.4 L512.3,344.3 L511.5,342.1 L510.8,339.9" stroke-width="4.00" stroke-linejoin="round"/><path d="M532.9,357.6 L524.0,357.6 L520.5,356.2 L517.9,354.5 L516.1,352.7 L514.7,350.7 L513.7,348.6 L513.0,346.4 L512.3,344.3 L511.5,342.1 L510.8,339.9" stroke-width="1.80" stroke="#fff" stroke-linejoin="round"/>
<path d="M531.3,242.8 L535.1,241.0 L539.1,239.4 L543.1,237.9 L547.2,236.6 L551.3,235.4 L555.4,234.4" stroke-width="4.00" stroke-linejoin="round"/><path d="M531.3,242.8 L535.1,241.0 L539.1,239.4 L543.1,237.9 L547.2,236.6 L551.3,235.4 L555.4,234.4" stroke-width="1.80" stroke="#fff" stroke-linejoin="round"/>
<path d="M599.3,246.8 L598.5,244.6 L597.8,242.5 L597.0,240.3 L596.3,238.1 L595.4,236.1 L594.2,234.3 L592.7,232.7 L590.8,231.5 L588.1,230.8 L582.0,233.1" stroke-width="4.00" stroke-linejoin="round"/><path d="M599.3,246.8 L598.5,244.6 L597.8,242.5 L597.0,240.3 L596.3,238.1 L595.4,236.1 L594.2,234.3 L592.7,232.7 L590.8,231.5 L588.1,230.8 L582.0,233.1" stroke-width="1.80" stroke="#fff" stroke-linejoin="round"/>
<path d="M555.4,234.4 L559.5,233.6 L563.5,233.0 L567.4,232.6 L571.1,232.4 L574.7,232.4 L578.1,232.6" stroke-width="4.00" stroke-linejoin="round"/><path d="M555.4,234.4 L559.5,233.6 L563.5,233.0 L567.4,232.6 L571.1,232.4 L574.7,232.4 L578.1,232.6" stroke-width="1.80" stroke="#fff" stroke-linejoin="round"/>
<path d="M512.2,255.3 L514.8,253.0 L517.6,250.8 L520.7,248.7 L524.1,246.6 L527.6,244.6 L531.3,242.8" stroke-width="4.00" stroke-linejoin="round"/><path d="M512.2,255.3 L514.8,253.0 L517.6,250.8 L520.7,248.7 L524.1,246.6 L527.6,244.6 L531.3,242.8" stroke-width="1.80" stroke="#fff" stroke-linejoin="round"/>
<path d="M504.7,311.7 L504.0,309.6 L503.3,307.4 L502.5,305.2 L501.8,303.1 L501.0,300.9 L500.3,298.7 L499.5,296.6 L498.8,294.4 L498.0,292.3 L497.3,290.1" stroke-width="4.00" stroke-linejoin="round"/><path d="M504.7,311.7 L504.0,309.6 L503.3,307.4 L502.5,305.2 L501.8,303.1 L501.0,300.9 L500.3,298.7 L499.5,296.6 L498.8,294.4 L498.0,292.3 L497.3,290.1" stroke-width="1.80" stroke="#fff" stroke-linejoin="round"/>
<path d="M510.8,339.9 L510.0,337.8 L509.3,335.6 L508.5,333.4 L507.8,331.3 L507.0,329.1 L506.3,327.0 L505.6,324.8 L504.8,322.6 L504.1,320.5 L503.3,318.3" stroke-width="4.00" stroke-linejoin="round"/><path d="M510.8,339.9 L510.0,337.8 L509.3,335.6 L508.5,333.4 L507.8,331.3 L507.0,329.1 L506.3,327.0 L505.6,324.8 L504.8,322.6 L504.1,320.5 L503.3,318.3" stroke-width="1.80" stroke="#fff" stroke-linejoin="round"/>
<path d="M601.0,340.4 L606.2,339.3 L611.3,338.2 L616.5,337.1 L621.7,335.9 L626.9,334.8" stroke-width="4.00" stroke-linejoin="round"/><path d="M601.0,340.4 L606.2,339.3 L611.3,338.2 L616.5,337.1 L621.7,335.9 L626.9,334.8" stroke-width="1.80" stroke="#fff" stroke-linejoin="round"/>
<path d="M627.1,332.4 L627.1,333.6 L626.9,334.8 L626.5,336.1 L626.1,337.4" stroke-width="4.00" stroke-linejoin="round"/><path d="M627.1,332.4 L627.1,333.6 L626.9,334.8 L626.5,336.1 L626.1,337.4" stroke-width="1.80" stroke="#fff" stroke-linejoin="round"/>
<path d="M627.1,332.4 L634.5,328.0 L636.6,325.1 L637.6,322.5 L638.0,320.0 L637.9,317.7 L637.3,315.5 L636.6,313.3 L635.8,311.1 L635.1,309.0 L634.3,306.8" stroke-width="4.00" stroke-linejoin="round"/><path d="M627.1,332.4 L634.5,328.0 L636.6,325.1 L637.6,322.5 L638.0,320.0 L637.9,317.7 L637.3,315.5 L636.6,313.3 L635.8,311.1 L635.1,309.0 L634.3,306.8" stroke-width="1.80" stroke="#fff" stroke-linejoin="round"/>
<path d="M503.3,318.3 L502.6,316.1 L501.8,314.0 L501.1,311.8 L500.3,309.7 L499.6,307.5 L498.8,305.3 L498.1,303.2 L497.4,301.0 L496.6,298.8 L495.9,296.7" stroke-width="4.00" stroke-linejoin="round"/><path d="M503.3,318.3 L502.6,316.1 L501.8,314.0 L501.1,311.8 L500.3,309.7 L499.6,307.5 L498.8,305.3 L498.1,303.2 L497.4,301.0 L496.6,298.8 L495.9,296.7" stroke-width="1.80" stroke="#fff" stroke-linejoin="round"/>
<path d="M497.3,290.1 L496.6,287.9 L495.8,285.8 L495.1,283.6 L494.3,281.4 L493.8,279.2 L493.6,277.0 L494.0,274.6 L495.0,272.2 L497.0,269.6 L504.1,266.1" stroke-width="4.00" stroke-linejoin="round"/><path d="M497.3,290.1 L496.6,287.9 L495.8,285.8 L495.1,283.6 L494.3,281.4 L493.8,279.2 L493.6,277.0 L494.0,274.6 L495.0,272.2 L497.0,269.6 L504.1,266.1" stroke-width="1.80" stroke="#fff" stroke-linejoin="round"/>
<path d="M567.5,356.6 L564.4,359.5 L561.3,362.3 L558.2,365.2 L555.1,368.1 L552.1,370.9" stroke-width="4.00" stroke-linejoin="round"/><path d="M567.5,356.6 L564.4,359.5 L561.3,362.3 L558.2,365.2 L555.1,368.1 L552.1,370.9" stroke-width="1.80" stroke="#fff" stroke-linejoin="round"/>
<path d="M578.1,232.6 L581.3,233.0 L584.3,233.5 L587.0,234.3 L589.4,235.2 L591.6,236.4 L593.4,237.7" stroke-width="4.00" stroke-linejoin="round"/><path d="M578.1,232.6 L581.3,233.0 L584.3,233.5 L587.0,234.3 L589.4,235.2 L591.6,236.4 L593.4,237.7" stroke-width="1.80" stroke="#fff" stroke-linejoin="round"/>
<path d="M503.3,268.7 L504.0,266.5 L505.0,264.3 L506.3,262.1 L507.9,259.8 L509.9,257.6 L512.2,255.3" stroke-width="4.00" stroke-linejoin="round"/><path d="M503.3,268.7 L504.0,266.5 L505.0,264.3 L506.3,262.1 L507.9,259.8 L509.9,257.6 L512.2,255.3" stroke-width="1.80" stroke="#fff" stroke-linejoin="round"/>
<path d="M626.1,337.4 L633.2,333.9 L635.2,331.3 L636.2,328.9 L636.6,326.5 L636.4,324.3 L635.9,322.1 L635.1,319.9 L634.4,317.7 L633.6,315.6 L632.9,313.4" stroke-width="4.00" stroke-linejoin="round"/><path d="M626.1,337.4 L633.2,333.9 L635.2,331.3 L636.2,328.9 L636.6,326.5 L636.4,324.3 L635.9,322.1 L635.1,319.9 L634.4,317.7 L633.6,315.6 L632.9,313.4" stroke-width="1.80" stroke="#fff" stroke-linejoin="round"/>
<path d="M634.3,306.8 L633.6,304.7 L632.8,302.5 L632.1,300.3 L631.4,298.2 L630.6,296.0 L629.9,293.8 L629.1,291.7 L628.4,289.5 L627.6,287.4 L626.9,285.2" stroke-width="4.00" stroke-linejoin="round"/><path d="M634.3,306.8 L633.6,304.7 L632.8,302.5 L632.1,300.3 L631.4,298.2 L630.6,296.0 L629.9,293.8 L629.1,291.7 L628.4,289.5 L627.6,287.4 L626.9,285.2" stroke-width="1.80" stroke="#fff" stroke-linejoin="round"/>
<path d="M495.9,296.7 L495.1,294.5 L494.4,292.4 L493.6,290.2 L492.9,288.0 L492.3,285.8 L492.2,283.5 L492.6,281.0 L493.6,278.4 L495.7,275.5 L503.1,271.1" stroke-width="4.00" stroke-linejoin="round"/><path d="M495.9,296.7 L495.1,294.5 L494.4,292.4 L493.6,290.2 L492.9,288.0 L492.3,285.8 L492.2,283.5 L492.6,281.0 L493.6,278.4 L495.7,275.5 L503.1,271.1" stroke-width="1.80" stroke="#fff" stroke-linejoin="round"/>
<path d="M588.5,352.1 L590.6,353.8 L592.7,355.5 L594.7,357.3 L596.8,359.0 L598.9,360.7" stroke-width="4.00" stroke-linejoin="round"/><path d="M588.5,352.1 L590.6,353.8 L592.7,355.5 L594.7,357.3 L596.8,359.0 L598.9,360.7" stroke-width="1.80" stroke="#fff" stroke-linejoin="round"/>
<path d="M556.2,371.1 L554.1,371.1 L552.1,370.9 L550.1,370.7 L548.2,370.4" stroke-width="4.00" stroke-linejoin="round"/><path d="M556.2,371.1 L554.1,371.1 L552.1,370.9 L550.1,370.7 L548.2,370.4" stroke-width="1.80" stroke="#fff" stroke-linejoin="round"/>
<path d="M626.9,285.2 L626.1,283.0 L625.4,280.9 L624.6,278.7 L623.9,276.5 L623.2,274.4 L622.4,272.2 L621.7,270.1 L620.9,267.9 L620.2,265.7 L619.4,263.6" stroke-width="4.00" stroke-linejoin="round"/><path d="M626.9,285.2 L626.1,283.0 L625.4,280.9 L624.6,278.7 L623.9,276.5 L623.2,274.4 L622.4,272.2 L621.7,270.1 L620.9,267.9 L620.2,265.7 L619.4,263.6" stroke-width="1.80" stroke="#fff" stroke-linejoin="round"/>
<path d="M632.9,313.4 L632.2,311.2 L631.4,309.1 L630.7,306.9 L629.9,304.8 L629.2,302.6 L628.4,300.4 L627.7,298.3 L626.9,296.1 L626.2,293.9 L625.5,291.8" stroke-width="4.00" stroke-linejoin="round"/><path d="M632.9,313.4 L632.2,311.2 L631.4,309.1 L630.7,306.9 L629.9,304.8 L629.2,302.6 L628.4,300.4 L627.7,298.3 L626.9,296.1 L626.2,293.9 L625.5,291.8" stroke-width="1.80" stroke="#fff" stroke-linejoin="round"/>
<path d="M548.2,370.4 L542.1,372.7 L539.4,372.0 L537.5,370.8 L536.0,369.2 L534.8,367.4 L533.9,365.4 L533.2,363.2 L532.4,361.0 L531.7,358.9 L530.9,356.7" stroke-width="4.00" stroke-linejoin="round"/><path d="M548.2,370.4 L542.1,372.7 L539.4,372.0 L537.5,370.8 L536.0,369.2 L534.8,367.4 L533.9,365.4 L533.2,363.2 L532.4,361.0 L531.7,358.9 L530.9,356.7" stroke-width="1.80" stroke="#fff" stroke-linejoin="round"/>
<path d="M603.3,358.5 L601.2,359.6 L598.9,360.7 L596.6,361.8 L594.3,362.8" stroke-width="4.00" stroke-linejoin="round"/><path d="M603.3,358.5 L601.2,359.6 L598.9,360.7 L596.6,361.8 L594.3,362.8" stroke-width="1.80" stroke="#fff" stroke-linejoin="round"/>
<path d="M593.4,237.7 L594.9,239.1 L596.0,240.7 L596.8,242.4 L597.3,244.3 L597.3,246.3 L597.1,248.3" stroke-width="4.00" stroke-linejoin="round"/><path d="M593.4,237.7 L594.9,239.1 L596.0,240.7 L596.8,242.4 L597.3,244.3 L597.3,246.3 L597.1,248.3" stroke-width="1.80" stroke="#fff" stroke-linejoin="round"/>
<path d="M507.0,279.3 L505.5,277.9 L504.4,276.3 L503.6,274.6 L503.1,272.7 L503.1,270.7 L503.3,268.7" stroke-width="4.00" stroke-linejoin="round"/><path d="M507.0,279.3 L505.5,277.9 L504.4,276.3 L503.6,274.6 L503.1,272.7 L503.1,270.7 L503.3,268.7" stroke-width="1.80" stroke="#fff" stroke-linejoin="round"/>
<path d="M619.4,263.6 L618.7,261.4 L617.9,259.2 L617.2,257.1 L616.5,254.9 L615.5,252.8 L614.1,250.8 L612.3,249.0 L609.7,247.3 L606.2,245.9 L597.3,245.9" stroke-width="4.00" stroke-linejoin="round"/><path d="M619.4,263.6 L618.7,261.4 L617.9,259.2 L617.2,257.1 L616.5,254.9 L615.5,252.8 L614.1,250.8 L612.3,249.0 L609.7,247.3 L606.2,245.9 L597.3,245.9" stroke-width="1.80" stroke="#fff" stroke-linejoin="round"/>
<path d="M556.2,371.1 L551.4,373.4 L549.2,372.8 L547.5,371.7 L546.2,370.1 L545.2,368.3 L544.3,366.3 L543.6,364.1 L542.8,361.9 L542.1,359.8 L541.3,357.6" stroke-width="4.00" stroke-linejoin="round"/><path d="M556.2,371.1 L551.4,373.4 L549.2,372.8 L547.5,371.7 L546.2,370.1 L545.2,368.3 L544.3,366.3 L543.6,364.1 L542.8,361.9 L542.1,359.8 L541.3,357.6" stroke-width="1.80" stroke="#fff" stroke-linejoin="round"/>
<path d="M625.5,291.8 L624.7,289.6 L624.0,287.5 L623.2,285.3 L622.5,283.1 L621.7,281.0 L621.0,278.8 L620.2,276.6 L619.5,274.5 L618.7,272.3 L618.0,270.2" stroke-width="4.00" stroke-linejoin="round"/><path d="M625.5,291.8 L624.7,289.6 L624.0,287.5 L623.2,285.3 L622.5,283.1 L621.7,281.0 L621.0,278.8 L620.2,276.6 L619.5,274.5 L618.7,272.3 L618.0,270.2" stroke-width="1.80" stroke="#fff" stroke-linejoin="round"/>
<path d="M530.9,356.7 L530.2,354.6 L529.4,352.4 L528.7,350.2 L528.0,348.1 L527.2,345.9 L526.5,343.7 L525.7,341.6 L525.0,339.4 L524.2,337.3 L523.5,335.1" stroke-width="4.00" stroke-linejoin="round"/><path d="M530.9,356.7 L530.2,354.6 L529.4,352.4 L528.7,350.2 L528.0,348.1 L527.2,345.9 L526.5,343.7 L525.7,341.6 L525.0,339.4 L524.2,337.3 L523.5,335.1" stroke-width="1.80" stroke="#fff" stroke-linejoin="round"/>
<path d="M603.3,358.5 L606.6,358.6 L607.2,357.3 L607.4,355.6 L607.2,353.8 L606.7,351.8 L606.1,349.7 L605.4,347.5 L604.6,345.4 L603.9,343.2 L603.1,341.0" stroke-width="4.00" stroke-linejoin="round"/><path d="M603.3,358.5 L606.6,358.6 L607.2,357.3 L607.4,355.6 L607.2,353.8 L606.7,351.8 L606.1,349.7 L605.4,347.5 L604.6,345.4 L603.9,343.2 L603.1,341.0" stroke-width="1.80" stroke="#fff" stroke-linejoin="round"/>
<path d="M618.0,270.2 L617.3,268.0 L616.5,265.8 L615.8,263.7 L615.0,261.5 L614.1,259.4 L612.7,257.3 L610.9,255.3 L608.4,253.5 L604.9,251.8 L596.3,250.9" stroke-width="4.00" stroke-linejoin="round"/><path d="M618.0,270.2 L617.3,268.0 L616.5,265.8 L615.8,263.7 L615.0,261.5 L614.1,259.4 L612.7,257.3 L610.9,255.3 L608.4,253.5 L604.9,251.8 L596.3,250.9" stroke-width="1.80" stroke="#fff" stroke-linejoin="round"/>
<path d="M594.3,362.8 L596.0,363.7 L596.1,362.6 L595.9,361.2 L595.5,359.4 L595.0,357.5 L594.3,355.4 L593.5,353.2 L592.8,351.1 L592.0,348.9 L591.3,346.8" stroke-width="4.00" stroke-linejoin="round"/><path d="M594.3,362.8 L596.0,363.7 L596.1,362.6 L595.9,361.2 L595.5,359.4 L595.0,357.5 L594.3,355.4 L593.5,353.2 L592.8,351.1 L592.0,348.9 L591.3,346.8" stroke-width="1.80" stroke="#fff" stroke-linejoin="round"/>
<path d="M541.3,357.6 L540.6,355.4 L539.9,353.3 L539.1,351.1 L538.4,349.0 L537.6,346.8 L536.9,344.6 L536.1,342.5 L535.4,340.3 L534.6,338.1 L533.9,336.0" stroke-width="4.00" stroke-linejoin="round"/><path d="M541.3,357.6 L540.6,355.4 L539.9,353.3 L539.1,351.1 L538.4,349.0 L537.6,346.8 L536.9,344.6 L536.1,342.5 L535.4,340.3 L534.6,338.1 L533.9,336.0" stroke-width="1.80" stroke="#fff" stroke-linejoin="round"/>
<path d="M523.5,335.1 L522.7,332.9 L522.0,330.8 L521.3,328.6 L520.5,326.4 L519.8,324.3 L519.0,322.1 L518.3,320.0 L517.5,317.8 L516.8,315.6 L516.0,313.5" stroke-width="4.00" stroke-linejoin="round"/><path d="M523.5,335.1 L522.7,332.9 L522.0,330.8 L521.3,328.6 L520.5,326.4 L519.8,324.3 L519.0,322.1 L518.3,320.0 L517.5,317.8 L516.8,315.6 L516.0,313.5" stroke-width="1.80" stroke="#fff" stroke-linejoin="round"/>
<path d="M597.1,248.3 L596.4,250.5 L595.4,252.7 L594.1,254.9 L592.5,257.2 L590.5,259.4 L588.2,261.7" stroke-width="4.00" stroke-linejoin="round"/><path d="M597.1,248.3 L596.4,250.5 L595.4,252.7 L594.1,254.9 L592.5,257.2 L590.5,259.4 L588.2,261.7" stroke-width="1.80" stroke="#fff" stroke-linejoin="round"/>
<path d="M522.3,284.4 L519.1,284.0 L516.1,283.5 L513.4,282.7 L511.0,281.8 L508.8,280.6 L507.0,279.3" stroke-width="4.00" stroke-linejoin="round"/><path d="M522.3,284.4 L519.1,284.0 L516.1,283.5 L513.4,282.7 L511.0,281.8 L508.8,280.6 L507.0,279.3" stroke-width="1.80" stroke="#fff" stroke-linejoin="round"/>
<path d="M603.1,341.0 L602.4,338.9 L601.6,336.7 L600.9,334.6 L600.1,332.4 L599.4,330.2 L598.7,328.1 L597.9,325.9 L597.2,323.7 L596.4,321.6 L595.7,319.4" stroke-width="4.00" stroke-linejoin="round"/><path d="M603.1,341.0 L602.4,338.9 L601.6,336.7 L600.9,334.6 L600.1,332.4 L599.4,330.2 L598.7,328.1 L597.9,325.9 L597.2,323.7 L596.4,321.6 L595.7,319.4" stroke-width="1.80" stroke="#fff" stroke-linejoin="round"/>
<path d="M533.9,336.0 L533.1,333.8 L532.4,331.7 L531.7,329.5 L530.9,327.3 L530.2,325.2 L529.4,323.0 L528.7,320.8 L527.9,318.7 L527.2,316.5 L526.4,314.4" stroke-width="4.00" stroke-linejoin="round"/><path d="M533.9,336.0 L533.1,333.8 L532.4,331.7 L531.7,329.5 L530.9,327.3 L530.2,325.2 L529.4,323.0 L528.7,320.8 L527.9,318.7 L527.2,316.5 L526.4,314.4" stroke-width="1.80" stroke="#fff" stroke-linejoin="round"/>
<path d="M591.3,346.8 L590.5,344.6 L589.8,342.4 L589.1,340.3 L588.3,338.1 L587.6,335.9 L586.8,333.8 L586.1,331.6 L585.3,329.5 L584.6,327.3 L583.8,325.1" stroke-width="4.00" stroke-linejoin="round"/><path d="M591.3,346.8 L590.5,344.6 L589.8,342.4 L589.1,340.3 L588.3,338.1 L587.6,335.9 L586.8,333.8 L586.1,331.6 L585.3,329.5 L584.6,327.3 L583.8,325.1" stroke-width="1.80" stroke="#fff" stroke-linejoin="round"/>
<path d="M516.0,313.5 L515.3,311.3 L514.5,309.1 L513.8,307.0 L513.1,304.8 L512.5,302.5 L512.1,300.0 L512.1,297.3 L512.6,294.2 L513.7,290.5 L518.4,283.9" stroke-width="4.00" stroke-linejoin="round"/><path d="M516.0,313.5 L515.3,311.3 L514.5,309.1 L513.8,307.0 L513.1,304.8 L512.5,302.5 L512.1,300.0 L512.1,297.3 L512.6,294.2 L513.7,290.5 L518.4,283.9" stroke-width="1.80" stroke="#fff" stroke-linejoin="round"/>
<path d="M595.7,319.4 L594.9,317.3 L594.2,315.1 L593.4,312.9 L592.7,310.8 L591.9,308.6 L591.2,306.4 L590.5,304.3 L589.7,302.1 L589.0,300.0 L588.2,297.8" stroke-width="4.00" stroke-linejoin="round"/><path d="M595.7,319.4 L594.9,317.3 L594.2,315.1 L593.4,312.9 L592.7,310.8 L591.9,308.6 L591.2,306.4 L590.5,304.3 L589.7,302.1 L589.0,300.0 L588.2,297.8" stroke-width="1.80" stroke="#fff" stroke-linejoin="round"/>
<path d="M526.4,314.4 L525.7,312.2 L525.0,310.0 L524.2,307.9 L523.5,305.7 L522.8,303.4 L522.4,300.9 L522.2,298.1 L522.4,295.0 L523.0,291.3 L526.4,284.6" stroke-width="4.00" stroke-linejoin="round"/><path d="M526.4,314.4 L525.7,312.2 L525.0,310.0 L524.2,307.9 L523.5,305.7 L522.8,303.4 L522.4,300.9 L522.2,298.1 L522.4,295.0 L523.0,291.3 L526.4,284.6" stroke-width="1.80" stroke="#fff" stroke-linejoin="round"/>
<path d="M588.2,261.7 L585.6,264.0 L582.8,266.2 L579.7,268.3 L576.3,270.4 L572.8,272.4 L569.1,274.2" stroke-width="4.00" stroke-linejoin="round"/><path d="M588.2,261.7 L585.6,264.0 L582.8,266.2 L579.7,268.3 L576.3,270.4 L572.8,272.4 L569.1,274.2" stroke-width="1.80" stroke="#fff" stroke-linejoin="round"/>
<path d="M545.0,282.6 L540.9,283.4 L536.9,284.0 L533.0,284.4 L529.3,284.6 L525.7,284.6 L522.3,284.4" stroke-width="4.00" stroke-linejoin="round"/><path d="M545.0,282.6 L540.9,283.4 L536.9,284.0 L533.0,284.4 L529.3,284.6 L525.7,284.6 L522.3,284.4" stroke-width="1.80" stroke="#fff" stroke-linejoin="round"/>
<path d="M583.8,325.1 L583.1,323.0 L582.4,320.8 L581.6,318.6 L580.9,316.5 L580.1,314.3 L579.4,312.2 L578.6,310.0 L577.9,307.8 L577.1,305.7 L576.4,303.5" stroke-width="4.00" stroke-linejoin="round"/><path d="M583.8,325.1 L583.1,323.0 L582.4,320.8 L581.6,318.6 L580.9,316.5 L580.1,314.3 L579.4,312.2 L578.6,310.0 L577.9,307.8 L577.1,305.7 L576.4,303.5" stroke-width="1.80" stroke="#fff" stroke-linejoin="round"/>
<path d="M569.1,274.2 L565.3,276.0 L561.3,277.6 L557.3,279.1 L553.2,280.4 L549.1,281.6 L545.0,282.6" stroke-width="4.00" stroke-linejoin="round"/><path d="M569.1,274.2 L565.3,276.0 L561.3,277.6 L557.3,279.1 L553.2,280.4 L549.1,281.6 L545.0,282.6" stroke-width="1.80" stroke="#fff" stroke-linejoin="round"/>
<path d="M588.2,297.8 L587.5,295.6 L586.7,293.5 L586.0,291.3 L585.2,289.1 L584.4,286.9 L583.3,284.6 L582.0,282.1 L580.4,279.4 L578.3,276.5 L573.5,272.0" stroke-width="4.00" stroke-linejoin="round"/><path d="M588.2,297.8 L587.5,295.6 L586.7,293.5 L586.0,291.3 L585.2,289.1 L584.4,286.9 L583.3,284.6 L582.0,282.1 L580.4,279.4 L578.3,276.5 L573.5,272.0" stroke-width="1.80" stroke="#fff" stroke-linejoin="round"/>
<path d="M576.4,303.5 L575.6,301.3 L574.9,299.2 L574.2,297.0 L573.4,294.9 L572.6,292.6 L571.7,290.2 L570.6,287.6 L569.3,284.8 L567.7,281.6 L564.5,276.3" stroke-width="4.00" stroke-linejoin="round"/><path d="M576.4,303.5 L575.6,301.3 L574.9,299.2 L574.2,297.0 L573.4,294.9 L572.6,292.6 L571.7,290.2 L570.6,287.6 L569.3,284.8 L567.7,281.6 L564.5,276.3" stroke-width="1.80" stroke="#fff" stroke-linejoin="round"/>
<path d="M502.2,451.4 L506.2,450.4 L510.1,449.1 L514.0,447.6 L517.9,445.8 L521.6,443.7 L525.2,441.3" stroke-width="4.00" stroke-linejoin="round"/><path d="M502.2,451.4 L506.2,450.4 L510.1,449.1 L514.0,447.6 L517.9,445.8 L521.6,443.7 L525.2,441.3" stroke-width="1.80" stroke="#fff" stroke-linejoin="round"/>
<path d="M525.2,441.3 L528.7,438.8 L532.0,436.0 L535.1,433.1 L537.9,430.0 L540.5,426.8 L542.8,423.4" stroke-width="4.00" stroke-linejoin="round"/><path d="M525.2,441.3 L528.7,438.8 L532.0,436.0 L535.1,433.1 L537.9,430.0 L540.5,426.8 L542.8,423.4" stroke-width="1.80" stroke="#fff" stroke-linejoin="round"/>
<path d="M560.9,446.7 L559.9,445.3 L558.9,443.8 L557.9,442.4 L556.9,440.9 L555.7,439.4 L554.2,437.7 L552.4,435.9 L550.1,433.9 L547.0,431.5 L540.0,427.4" stroke-width="4.00" stroke-linejoin="round"/><path d="M560.9,446.7 L559.9,445.3 L558.9,443.8 L557.9,442.4 L556.9,440.9 L555.7,439.4 L554.2,437.7 L552.4,435.9 L550.1,433.9 L547.0,431.5 L540.0,427.4" stroke-width="1.80" stroke="#fff" stroke-linejoin="round"/>
<path d="M517.6,476.5 L516.6,475.1 L515.6,473.6 L514.6,472.2 L513.6,470.7 L512.6,469.1 L511.6,467.2 L510.5,464.8 L509.4,461.9 L508.3,458.2 L507.0,450.2" stroke-width="4.00" stroke-linejoin="round"/><path d="M517.6,476.5 L516.6,475.1 L515.6,473.6 L514.6,472.2 L513.6,470.7 L512.6,469.1 L511.6,467.2 L510.5,464.8 L509.4,461.9 L508.3,458.2 L507.0,450.2" stroke-width="1.80" stroke="#fff" stroke-linejoin="round"/>
<path d="M505.2,479.2 L504.2,477.7 L503.2,476.3 L502.2,474.8 L501.2,473.4 L500.2,471.7 L499.3,469.8 L498.5,467.3 L497.8,464.4 L497.2,460.5 L497.5,452.2" stroke-width="4.00" stroke-linejoin="round"/><path d="M505.2,479.2 L504.2,477.7 L503.2,476.3 L502.2,474.8 L501.2,473.4 L500.2,471.7 L499.3,469.8 L498.5,467.3 L497.8,464.4 L497.2,460.5 L497.5,452.2" stroke-width="1.80" stroke="#fff" stroke-linejoin="round"/>
<path d="M567.7,436.1 L566.7,434.6 L565.7,433.2 L564.7,431.7 L563.7,430.3 L562.5,428.8 L561.0,427.2 L559.0,425.6 L556.5,423.9 L553.1,422.0 L545.2,419.3" stroke-width="4.00" stroke-linejoin="round"/><path d="M567.7,436.1 L566.7,434.6 L565.7,433.2 L564.7,431.7 L563.7,430.3 L562.5,428.8 L561.0,427.2 L559.0,425.6 L556.5,423.9 L553.1,422.0 L545.2,419.3" stroke-width="1.80" stroke="#fff" stroke-linejoin="round"/>
<path d="M542.8,423.4 L544.9,420.0 L546.6,416.5 L548.0,413.0 L549.1,409.4 L549.9,405.9 L550.3,402.4" stroke-width="4.00" stroke-linejoin="round"/><path d="M542.8,423.4 L544.9,420.0 L546.6,416.5 L548.0,413.0 L549.1,409.4 L549.9,405.9 L550.3,402.4" stroke-width="1.80" stroke="#fff" stroke-linejoin="round"/>
<path d="M480.0,450.9 L483.4,451.8 L486.9,452.3 L490.6,452.5 L494.4,452.5 L498.3,452.1 L502.2,451.4" stroke-width="4.00" stroke-linejoin="round"/><path d="M480.0,450.9 L483.4,451.8 L486.9,452.3 L490.6,452.5 L494.4,452.5 L498.3,452.1 L502.2,451.4" stroke-width="1.80" stroke="#fff" stroke-linejoin="round"/>
<path d="M527.6,491.0 L526.6,489.6 L525.6,488.1 L524.6,486.7 L523.6,485.2 L522.6,483.8 L521.6,482.3 L520.6,480.9 L519.6,479.4 L518.6,478.0 L517.6,476.5" stroke-width="4.00" stroke-linejoin="round"/><path d="M527.6,491.0 L526.6,489.6 L525.6,488.1 L524.6,486.7 L523.6,485.2 L522.6,483.8 L521.6,482.3 L520.6,480.9 L519.6,479.4 L518.6,478.0 L517.6,476.5" stroke-width="1.80" stroke="#fff" stroke-linejoin="round"/>
<path d="M570.9,461.2 L569.9,459.8 L568.9,458.3 L567.9,456.9 L566.9,455.4 L565.9,454.0 L564.9,452.5 L563.9,451.1 L562.9,449.6 L561.9,448.2 L560.9,446.7" stroke-width="4.00" stroke-linejoin="round"/><path d="M570.9,461.2 L569.9,459.8 L568.9,458.3 L567.9,456.9 L566.9,455.4 L565.9,454.0 L564.9,452.5 L563.9,451.1 L562.9,449.6 L561.9,448.2 L560.9,446.7" stroke-width="1.80" stroke="#fff" stroke-linejoin="round"/>
<path d="M464.4,440.0 L466.3,442.4 L468.5,444.7 L471.0,446.6 L473.8,448.3 L476.8,449.8 L480.0,450.9" stroke-width="4.00" stroke-linejoin="round"/><path d="M464.4,440.0 L466.3,442.4 L468.5,444.7 L471.0,446.6 L473.8,448.3 L476.8,449.8 L480.0,450.9" stroke-width="1.80" stroke="#fff" stroke-linejoin="round"/>
<path d="M550.3,402.4 L550.3,399.0 L550.1,395.7 L549.4,392.6 L548.5,389.5 L547.2,386.7 L545.6,384.0" stroke-width="4.00" stroke-linejoin="round"/><path d="M550.3,402.4 L550.3,399.0 L550.1,395.7 L549.4,392.6 L548.5,389.5 L547.2,386.7 L545.6,384.0" stroke-width="1.80" stroke="#fff" stroke-linejoin="round"/>
<path d="M515.2,493.7 L514.2,492.2 L513.2,490.8 L512.2,489.3 L511.2,487.9 L510.2,486.4 L509.2,485.0 L508.2,483.5 L507.2,482.1 L506.2,480.6 L505.2,479.2" stroke-width="4.00" stroke-linejoin="round"/><path d="M515.2,493.7 L514.2,492.2 L513.2,490.8 L512.2,489.3 L511.2,487.9 L510.2,486.4 L509.2,485.0 L508.2,483.5 L507.2,482.1 L506.2,480.6 L505.2,479.2" stroke-width="1.80" stroke="#fff" stroke-linejoin="round"/>
<path d="M577.7,450.6 L576.7,449.1 L575.7,447.7 L574.7,446.2 L573.7,444.8 L572.7,443.3 L571.7,441.9 L570.7,440.4 L569.7,439.0 L568.7,437.5 L567.7,436.1" stroke-width="4.00" stroke-linejoin="round"/><path d="M577.7,450.6 L576.7,449.1 L575.7,447.7 L574.7,446.2 L573.7,444.8 L572.7,443.3 L571.7,441.9 L570.7,440.4 L569.7,439.0 L568.7,437.5 L567.7,436.1" stroke-width="1.80" stroke="#fff" stroke-linejoin="round"/>
<path d="M570.7,394.0 L569.7,392.6 L568.7,391.1 L567.7,389.7 L566.7,388.2 L565.5,386.9 L563.9,385.8 L561.9,384.9 L559.3,384.4 L555.8,384.4 L547.5,387.2" stroke-width="4.00" stroke-linejoin="round"/><path d="M570.7,394.0 L569.7,392.6 L568.7,391.1 L567.7,389.7 L566.7,388.2 L565.5,386.9 L563.9,385.8 L561.9,384.9 L559.3,384.4 L555.8,384.4 L547.5,387.2" stroke-width="1.80" stroke="#fff" stroke-linejoin="round"/>
<path d="M464.9,467.0 L463.9,465.5 L462.9,464.1 L461.9,462.6 L460.9,461.2 L460.0,459.6 L459.6,457.7 L459.5,455.6 L459.9,453.0 L461.2,449.7 L466.8,442.9" stroke-width="4.00" stroke-linejoin="round"/><path d="M464.9,467.0 L463.9,465.5 L462.9,464.1 L461.9,462.6 L460.9,461.2 L460.0,459.6 L459.6,457.7 L459.5,455.6 L459.9,453.0 L461.2,449.7 L466.8,442.9" stroke-width="1.80" stroke="#fff" stroke-linejoin="round"/>
<path d="M537.6,505.5 L536.6,504.1 L535.6,502.6 L534.6,501.2 L533.6,499.7 L532.6,498.3 L531.6,496.8 L530.6,495.4 L529.6,493.9 L528.6,492.5 L527.6,491.0" stroke-width="4.00" stroke-linejoin="round"/><path d="M537.6,505.5 L536.6,504.1 L535.6,502.6 L534.6,501.2 L533.6,499.7 L532.6,498.3 L531.6,496.8 L530.6,495.4 L529.6,493.9 L528.6,492.5 L527.6,491.0" stroke-width="1.80" stroke="#fff" stroke-linejoin="round"/>
<path d="M580.9,475.7 L579.9,474.3 L578.9,472.8 L577.9,471.4 L576.9,469.9 L575.9,468.5 L574.9,467.0 L573.9,465.6 L572.9,464.1 L571.9,462.7 L570.9,461.2" stroke-width="4.00" stroke-linejoin="round"/><path d="M580.9,475.7 L579.9,474.3 L578.9,472.8 L577.9,471.4 L576.9,469.9 L575.9,468.5 L574.9,467.0 L573.9,465.6 L572.9,464.1 L571.9,462.7 L570.9,461.2" stroke-width="1.80" stroke="#fff" stroke-linejoin="round"/>
<path d="M459.7,421.6 L459.7,425.0 L459.9,428.3 L460.6,431.4 L461.5,434.5 L462.8,437.3 L464.4,440.0" stroke-width="4.00" stroke-linejoin="round"/><path d="M459.7,421.6 L459.7,425.0 L459.9,428.3 L460.6,431.4 L461.5,434.5 L462.8,437.3 L464.4,440.0" stroke-width="1.80" stroke="#fff" stroke-linejoin="round"/>
<path d="M545.6,384.0 L543.7,381.6 L541.5,379.3 L539.0,377.4 L536.2,375.7 L533.2,374.2 L530.0,373.1" stroke-width="4.00" stroke-linejoin="round"/><path d="M545.6,384.0 L543.7,381.6 L541.5,379.3 L539.0,377.4 L536.2,375.7 L533.2,374.2 L530.0,373.1" stroke-width="1.80" stroke="#fff" stroke-linejoin="round"/>
<path d="M587.7,465.1 L586.7,463.6 L585.7,462.2 L584.7,460.7 L583.7,459.3 L582.7,457.8 L581.7,456.4 L580.7,454.9 L579.7,453.5 L578.7,452.0 L577.7,450.6" stroke-width="4.00" stroke-linejoin="round"/><path d="M587.7,465.1 L586.7,463.6 L585.7,462.2 L584.7,460.7 L583.7,459.3 L582.7,457.8 L581.7,456.4 L580.7,454.9 L579.7,453.5 L578.7,452.0 L577.7,450.6" stroke-width="1.80" stroke="#fff" stroke-linejoin="round"/>
<path d="M525.2,508.2 L524.2,506.7 L523.2,505.3 L522.2,503.8 L521.2,502.4 L520.2,500.9 L519.2,499.5 L518.2,498.0 L517.2,496.6 L516.2,495.1 L515.2,493.7" stroke-width="4.00" stroke-linejoin="round"/><path d="M525.2,508.2 L524.2,506.7 L523.2,505.3 L522.2,503.8 L521.2,502.4 L520.2,500.9 L519.2,499.5 L518.2,498.0 L517.2,496.6 L516.2,495.1 L515.2,493.7" stroke-width="1.80" stroke="#fff" stroke-linejoin="round"/>
<path d="M565.1,386.0 L564.1,384.6 L563.1,383.1 L562.1,381.7 L561.1,380.2 L560.0,378.9 L558.4,377.9 L556.5,377.1 L554.1,376.8 L550.8,377.2 L543.2,381.1" stroke-width="4.00" stroke-linejoin="round"/><path d="M565.1,386.0 L564.1,384.6 L563.1,383.1 L562.1,381.7 L561.1,380.2 L560.0,378.9 L558.4,377.9 L556.5,377.1 L554.1,376.8 L550.8,377.2 L543.2,381.1" stroke-width="1.80" stroke="#fff" stroke-linejoin="round"/>
<path d="M459.3,459.0 L458.3,457.5 L457.3,456.1 L456.3,454.6 L455.3,453.2 L454.5,451.6 L454.1,449.8 L454.1,447.8 L454.7,445.4 L456.2,442.5 L462.5,436.8" stroke-width="4.00" stroke-linejoin="round"/><path d="M459.3,459.0 L458.3,457.5 L457.3,456.1 L456.3,454.6 L455.3,453.2 L454.5,451.6 L454.1,449.8 L454.1,447.8 L454.7,445.4 L456.2,442.5 L462.5,436.8" stroke-width="1.80" stroke="#fff" stroke-linejoin="round"/>
<path d="M474.9,481.5 L473.9,480.0 L472.9,478.6 L471.9,477.1 L470.9,475.7 L469.9,474.2 L468.9,472.8 L467.9,471.3 L466.9,469.9 L465.9,468.4 L464.9,467.0" stroke-width="4.00" stroke-linejoin="round"/><path d="M474.9,481.5 L473.9,480.0 L472.9,478.6 L471.9,477.1 L470.9,475.7 L469.9,474.2 L468.9,472.8 L467.9,471.3 L466.9,469.9 L465.9,468.4 L464.9,467.0" stroke-width="1.80" stroke="#fff" stroke-linejoin="round"/>
<path d="M580.7,408.5 L579.7,407.1 L578.7,405.6 L577.7,404.2 L576.7,402.7 L575.7,401.3 L574.7,399.8 L573.7,398.4 L572.7,396.9 L571.7,395.5 L570.7,394.0" stroke-width="4.00" stroke-linejoin="round"/><path d="M580.7,408.5 L579.7,407.1 L578.7,405.6 L577.7,404.2 L576.7,402.7 L575.7,401.3 L574.7,399.8 L573.7,398.4 L572.7,396.9 L571.7,395.5 L570.7,394.0" stroke-width="1.80" stroke="#fff" stroke-linejoin="round"/>
<path d="M530.0,373.1 L526.6,372.2 L523.1,371.7 L519.4,371.5 L515.6,371.5 L511.7,371.9 L507.8,372.6" stroke-width="4.00" stroke-linejoin="round"/><path d="M530.0,373.1 L526.6,372.2 L523.1,371.7 L519.4,371.5 L515.6,371.5 L511.7,371.9 L507.8,372.6" stroke-width="1.80" stroke="#fff" stroke-linejoin="round"/>
<path d="M467.2,400.6 L465.1,404.0 L463.4,407.5 L462.0,411.0 L460.9,414.6 L460.1,418.1 L459.7,421.6" stroke-width="4.00" stroke-linejoin="round"/><path d="M467.2,400.6 L465.1,404.0 L463.4,407.5 L462.0,411.0 L460.9,414.6 L460.1,418.1 L459.7,421.6" stroke-width="1.80" stroke="#fff" stroke-linejoin="round"/>
<path d="M580.0,485.4 L585.0,486.6 L586.1,486.1 L586.4,485.2 L586.2,484.1 L585.7,482.9 L584.9,481.5 L583.9,480.1 L582.9,478.6 L581.9,477.2 L580.9,475.7" stroke-width="4.00" stroke-linejoin="round"/><path d="M580.0,485.4 L585.0,486.6 L586.1,486.1 L586.4,485.2 L586.2,484.1 L585.7,482.9 L584.9,481.5 L583.9,480.1 L582.9,478.6 L581.9,477.2 L580.9,475.7" stroke-width="1.80" stroke="#fff" stroke-linejoin="round"/>
<path d="M547.0,508.2 L546.3,513.3 L545.4,514.1 L544.5,514.1 L543.6,513.6 L542.6,512.6 L541.6,511.3 L540.6,509.9 L539.6,508.4 L538.6,507.0 L537.6,505.5" stroke-width="4.00" stroke-linejoin="round"/><path d="M547.0,508.2 L546.3,513.3 L545.4,514.1 L544.5,514.1 L543.6,513.6 L542.6,512.6 L541.6,511.3 L540.6,509.9 L539.6,508.4 L538.6,507.0 L537.6,505.5" stroke-width="1.80" stroke="#fff" stroke-linejoin="round"/>
<path d="M585.2,477.3 L591.1,477.1 L592.5,476.1 L593.0,474.9 L593.0,473.6 L592.5,472.3 L591.7,470.9 L590.7,469.4 L589.7,468.0 L588.7,466.5 L587.7,465.1" stroke-width="4.00" stroke-linejoin="round"/><path d="M585.2,477.3 L591.1,477.1 L592.5,476.1 L593.0,474.9 L593.0,473.6 L592.5,472.3 L591.7,470.9 L590.7,469.4 L589.7,468.0 L588.7,466.5 L587.7,465.1" stroke-width="1.80" stroke="#fff" stroke-linejoin="round"/>
<path d="M537.5,510.2 L535.2,515.6 L533.8,516.6 L532.5,516.6 L531.3,516.2 L530.2,515.2 L529.2,514.0 L528.2,512.5 L527.2,511.1 L526.2,509.6 L525.2,508.2" stroke-width="4.00" stroke-linejoin="round"/><path d="M537.5,510.2 L535.2,515.6 L533.8,516.6 L532.5,516.6 L531.3,516.2 L530.2,515.2 L529.2,514.0 L528.2,512.5 L527.2,511.1 L526.2,509.6 L525.2,508.2" stroke-width="1.80" stroke="#fff" stroke-linejoin="round"/>
<path d="M575.1,400.5 L574.1,399.1 L573.1,397.6 L572.1,396.2 L571.1,394.7 L570.1,393.3 L569.1,391.8 L568.1,390.4 L567.1,388.9 L566.1,387.5 L565.1,386.0" stroke-width="4.00" stroke-linejoin="round"/><path d="M575.1,400.5 L574.1,399.1 L573.1,397.6 L572.1,396.2 L571.1,394.7 L570.1,393.3 L569.1,391.8 L568.1,390.4 L567.1,388.9 L566.1,387.5 L565.1,386.0" stroke-width="1.80" stroke="#fff" stroke-linejoin="round"/>
<path d="M469.3,473.5 L468.3,472.0 L467.3,470.6 L466.3,469.1 L465.3,467.7 L464.3,466.2 L463.3,464.8 L462.3,463.3 L461.3,461.9 L460.3,460.4 L459.3,459.0" stroke-width="4.00" stroke-linejoin="round"/><path d="M469.3,473.5 L468.3,472.0 L467.3,470.6 L466.3,469.1 L465.3,467.7 L464.3,466.2 L463.3,464.8 L462.3,463.3 L461.3,461.9 L460.3,460.4 L459.3,459.0" stroke-width="1.80" stroke="#fff" stroke-linejoin="round"/>
<path d="M507.8,372.6 L503.8,373.6 L499.9,374.9 L496.0,376.4 L492.1,378.2 L488.4,380.3 L484.8,382.7" stroke-width="4.00" stroke-linejoin="round"/><path d="M507.8,372.6 L503.8,373.6 L499.9,374.9 L496.0,376.4 L492.1,378.2 L488.4,380.3 L484.8,382.7" stroke-width="1.80" stroke="#fff" stroke-linejoin="round"/>
<path d="M484.8,382.7 L481.3,385.2 L478.0,388.0 L474.9,390.9 L472.1,394.0 L469.5,397.2 L467.2,400.6" stroke-width="4.00" stroke-linejoin="round"/><path d="M484.8,382.7 L481.3,385.2 L478.0,388.0 L474.9,390.9 L472.1,394.0 L469.5,397.2 L467.2,400.6" stroke-width="1.80" stroke="#fff" stroke-linejoin="round"/>
<path d="M590.7,423.0 L589.7,421.6 L588.7,420.1 L587.7,418.7 L586.7,417.2 L585.7,415.8 L584.7,414.3 L583.7,412.9 L582.7,411.4 L581.7,410.0 L580.7,408.5" stroke-width="4.00" stroke-linejoin="round"/><path d="M590.7,423.0 L589.7,421.6 L588.7,420.1 L587.7,418.7 L586.7,417.2 L585.7,415.8 L584.7,414.3 L583.7,412.9 L582.7,411.4 L581.7,410.0 L580.7,408.5" stroke-width="1.80" stroke="#fff" stroke-linejoin="round"/>
<path d="M484.9,496.0 L483.9,494.5 L482.9,493.1 L481.9,491.6 L480.9,490.2 L479.9,488.7 L478.9,487.3 L477.9,485.8 L476.9,484.4 L475.9,482.9 L474.9,481.5" stroke-width="4.00" stroke-linejoin="round"/><path d="M484.9,496.0 L483.9,494.5 L482.9,493.1 L481.9,491.6 L480.9,490.2 L479.9,488.7 L478.9,487.3 L477.9,485.8 L476.9,484.4 L475.9,482.9 L474.9,481.5" stroke-width="1.80" stroke="#fff" stroke-linejoin="round"/>
<path d="M524.8,373.8 L523.8,372.4 L522.8,370.9 L521.8,369.5 L520.8,368.0 L519.8,366.8 L518.7,365.8 L517.5,365.4 L516.2,365.4 L514.8,366.4 L512.5,371.8" stroke-width="4.00" stroke-linejoin="round"/><path d="M524.8,373.8 L523.8,372.4 L522.8,370.9 L521.8,369.5 L520.8,368.0 L519.8,366.8 L518.7,365.8 L517.5,365.4 L516.2,365.4 L514.8,366.4 L512.5,371.8" stroke-width="1.80" stroke="#fff" stroke-linejoin="round"/>
<path d="M462.3,416.9 L461.3,415.5 L460.3,414.0 L459.3,412.6 L458.3,411.1 L457.5,409.7 L457.0,408.4 L457.0,407.1 L457.5,405.9 L458.9,404.9 L464.8,404.7" stroke-width="4.00" stroke-linejoin="round"/><path d="M462.3,416.9 L461.3,415.5 L460.3,414.0 L459.3,412.6 L458.3,411.1 L457.5,409.7 L457.0,408.4 L457.0,407.1 L457.5,405.9 L458.9,404.9 L464.8,404.7" stroke-width="1.80" stroke="#fff" stroke-linejoin="round"/>
<path d="M580.0,485.4 L581.5,483.4 L582.8,481.4 L584.1,479.4 L585.2,477.3" stroke-width="4.00" stroke-linejoin="round"/><path d="M580.0,485.4 L581.5,483.4 L582.8,481.4 L584.1,479.4 L585.2,477.3" stroke-width="1.80" stroke="#fff" stroke-linejoin="round"/>
<path d="M537.5,510.2 L539.9,509.9 L542.2,509.4 L544.6,508.9 L547.0,508.2" stroke-width="4.00" stroke-linejoin="round"/><path d="M537.5,510.2 L539.9,509.9 L542.2,509.4 L544.6,508.9 L547.0,508.2" stroke-width="1.80" stroke="#fff" stroke-linejoin="round"/>
<path d="M512.4,376.5 L511.4,375.0 L510.4,373.6 L509.4,372.1 L508.4,370.7 L507.4,369.4 L506.4,368.4 L505.5,367.9 L504.6,367.9 L503.7,368.7 L503.0,373.8" stroke-width="4.00" stroke-linejoin="round"/><path d="M512.4,376.5 L511.4,375.0 L510.4,373.6 L509.4,372.1 L508.4,370.7 L507.4,369.4 L506.4,368.4 L505.5,367.9 L504.6,367.9 L503.7,368.7 L503.0,373.8" stroke-width="1.80" stroke="#fff" stroke-linejoin="round"/>
<path d="M469.1,406.3 L468.1,404.8 L467.1,403.4 L466.1,401.9 L465.1,400.5 L464.3,399.1 L463.8,397.9 L463.6,396.8 L463.9,395.9 L465.0,395.4 L470.0,396.6" stroke-width="4.00" stroke-linejoin="round"/><path d="M469.1,406.3 L468.1,404.8 L467.1,403.4 L466.1,401.9 L465.1,400.5 L464.3,399.1 L463.8,397.9 L463.6,396.8 L463.9,395.9 L465.0,395.4 L470.0,396.6" stroke-width="1.80" stroke="#fff" stroke-linejoin="round"/>
<path d="M585.1,415.0 L584.1,413.6 L583.1,412.1 L582.1,410.7 L581.1,409.2 L580.1,407.8 L579.1,406.3 L578.1,404.9 L577.1,403.4 L576.1,402.0 L575.1,400.5" stroke-width="4.00" stroke-linejoin="round"/><path d="M585.1,415.0 L584.1,413.6 L583.1,412.1 L582.1,410.7 L581.1,409.2 L580.1,407.8 L579.1,406.3 L578.1,404.9 L577.1,403.4 L576.1,402.0 L575.1,400.5" stroke-width="1.80" stroke="#fff" stroke-linejoin="round"/>
<path d="M479.3,488.0 L478.3,486.5 L477.3,485.1 L476.3,483.6 L475.3,482.2 L474.3,480.7 L473.3,479.3 L472.3,477.8 L471.3,476.4 L470.3,474.9 L469.3,473.5" stroke-width="4.00" stroke-linejoin="round"/><path d="M479.3,488.0 L478.3,486.5 L477.3,485.1 L476.3,483.6 L475.3,482.2 L474.3,480.7 L473.3,479.3 L472.3,477.8 L471.3,476.4 L470.3,474.9 L469.3,473.5" stroke-width="1.80" stroke="#fff" stroke-linejoin="round"/>
<path d="M562.0,475.1 L566.1,476.4 L570.3,477.6 L574.5,478.9 L578.6,480.2 L582.8,481.4" stroke-width="4.00" stroke-linejoin="round"/><path d="M562.0,475.1 L566.1,476.4 L570.3,477.6 L574.5,478.9 L578.6,480.2 L582.8,481.4" stroke-width="1.80" stroke="#fff" stroke-linejoin="round"/>
<path d="M543.8,487.7 L543.5,492.0 L543.2,496.4 L542.8,500.7 L542.5,505.1 L542.2,509.4" stroke-width="4.00" stroke-linejoin="round"/><path d="M543.8,487.7 L543.5,492.0 L543.2,496.4 L542.8,500.7 L542.5,505.1 L542.2,509.4" stroke-width="1.80" stroke="#fff" stroke-linejoin="round"/>
<path d="M506.8,500.9 L499.2,504.8 L495.9,505.2 L493.5,504.9 L491.6,504.1 L490.0,503.1 L488.9,501.8 L487.9,500.3 L486.9,498.9 L485.9,497.4 L484.9,496.0" stroke-width="4.00" stroke-linejoin="round"/><path d="M506.8,500.9 L499.2,504.8 L495.9,505.2 L493.5,504.9 L491.6,504.1 L490.0,503.1 L488.9,501.8 L487.9,500.3 L486.9,498.9 L485.9,497.4 L484.9,496.0" stroke-width="1.80" stroke="#fff" stroke-linejoin="round"/>
<path d="M587.5,445.2 L593.8,439.5 L595.3,436.6 L595.9,434.2 L595.9,432.2 L595.5,430.4 L594.7,428.8 L593.7,427.4 L592.7,425.9 L591.7,424.5 L590.7,423.0" stroke-width="4.00" stroke-linejoin="round"/><path d="M587.5,445.2 L593.8,439.5 L595.3,436.6 L595.9,434.2 L595.9,432.2 L595.5,430.4 L594.7,428.8 L593.7,427.4 L592.7,425.9 L591.7,424.5 L590.7,423.0" stroke-width="1.80" stroke="#fff" stroke-linejoin="round"/>
<path d="M534.8,388.3 L533.8,386.9 L532.8,385.4 L531.8,384.0 L530.8,382.5 L529.8,381.1 L528.8,379.6 L527.8,378.2 L526.8,376.7 L525.8,375.3 L524.8,373.8" stroke-width="4.00" stroke-linejoin="round"/><path d="M534.8,388.3 L533.8,386.9 L532.8,385.4 L531.8,384.0 L530.8,382.5 L529.8,381.1 L528.8,379.6 L527.8,378.2 L526.8,376.7 L525.8,375.3 L524.8,373.8" stroke-width="1.80" stroke="#fff" stroke-linejoin="round"/>
<path d="M472.3,431.4 L471.3,430.0 L470.3,428.5 L469.3,427.1 L468.3,425.6 L467.3,424.2 L466.3,422.7 L465.3,421.3 L464.3,419.8 L463.3,418.4 L462.3,416.9" stroke-width="4.00" stroke-linejoin="round"/><path d="M472.3,431.4 L471.3,430.0 L470.3,428.5 L469.3,427.1 L468.3,425.6 L467.3,424.2 L466.3,422.7 L465.3,421.3 L464.3,419.8 L463.3,418.4 L462.3,416.9" stroke-width="1.80" stroke="#fff" stroke-linejoin="round"/>
<path d="M522.4,391.0 L521.4,389.5 L520.4,388.1 L519.4,386.6 L518.4,385.2 L517.4,383.7 L516.4,382.3 L515.4,380.8 L514.4,379.4 L513.4,377.9 L512.4,376.5" stroke-width="4.00" stroke-linejoin="round"/><path d="M522.4,391.0 L521.4,389.5 L520.4,388.1 L519.4,386.6 L518.4,385.2 L517.4,383.7 L516.4,382.3 L515.4,380.8 L514.4,379.4 L513.4,377.9 L512.4,376.5" stroke-width="1.80" stroke="#fff" stroke-linejoin="round"/>
<path d="M479.1,420.8 L478.1,419.3 L477.1,417.9 L476.1,416.4 L475.1,415.0 L474.1,413.5 L473.1,412.1 L472.1,410.6 L471.1,409.2 L470.1,407.7 L469.1,406.3" stroke-width="4.00" stroke-linejoin="round"/><path d="M479.1,420.8 L478.1,419.3 L477.1,417.9 L476.1,416.4 L475.1,415.0 L474.1,413.5 L473.1,412.1 L472.1,410.6 L471.1,409.2 L470.1,407.7 L469.1,406.3" stroke-width="1.80" stroke="#fff" stroke-linejoin="round"/>
<path d="M583.2,439.1 L588.8,432.3 L590.1,429.0 L590.5,426.4 L590.4,424.3 L590.0,422.4 L589.1,420.8 L588.1,419.4 L587.1,417.9 L586.1,416.5 L585.1,415.0" stroke-width="4.00" stroke-linejoin="round"/><path d="M583.2,439.1 L588.8,432.3 L590.1,429.0 L590.5,426.4 L590.4,424.3 L590.0,422.4 L589.1,420.8 L588.1,419.4 L587.1,417.9 L586.1,416.5 L585.1,415.0" stroke-width="1.80" stroke="#fff" stroke-linejoin="round"/>
<path d="M502.5,494.8 L494.2,497.6 L490.7,497.6 L488.1,497.1 L486.1,496.2 L484.5,495.1 L483.3,493.8 L482.3,492.3 L481.3,490.9 L480.3,489.4 L479.3,488.0" stroke-width="4.00" stroke-linejoin="round"/><path d="M502.5,494.8 L494.2,497.6 L490.7,497.6 L488.1,497.1 L486.1,496.2 L484.5,495.1 L483.3,493.8 L482.3,492.3 L481.3,490.9 L480.3,489.4 L479.3,488.0" stroke-width="1.80" stroke="#fff" stroke-linejoin="round"/>
<path d="M587.5,445.2 L586.6,443.6 L585.6,442.0 L584.5,440.5 L583.2,439.1" stroke-width="4.00" stroke-linejoin="round"/><path d="M587.5,445.2 L586.6,443.6 L585.6,442.0 L584.5,440.5 L583.2,439.1" stroke-width="1.80" stroke="#fff" stroke-linejoin="round"/>
<path d="M563.2,457.5 L567.7,454.4 L572.1,451.3 L576.6,448.2 L581.1,445.1 L585.6,442.0" stroke-width="4.00" stroke-linejoin="round"/><path d="M563.2,457.5 L567.7,454.4 L572.1,451.3 L576.6,448.2 L581.1,445.1 L585.6,442.0" stroke-width="1.80" stroke="#fff" stroke-linejoin="round"/>
<path d="M526.8,482.5 L522.3,485.6 L517.9,488.7 L513.4,491.8 L508.9,494.9 L504.4,498.0" stroke-width="4.00" stroke-linejoin="round"/><path d="M526.8,482.5 L522.3,485.6 L517.9,488.7 L513.4,491.8 L508.9,494.9 L504.4,498.0" stroke-width="1.80" stroke="#fff" stroke-linejoin="round"/>
<path d="M502.5,494.8 L503.4,496.4 L504.4,498.0 L505.5,499.5 L506.8,500.9" stroke-width="4.00" stroke-linejoin="round"/><path d="M502.5,494.8 L503.4,496.4 L504.4,498.0 L505.5,499.5 L506.8,500.9" stroke-width="1.80" stroke="#fff" stroke-linejoin="round"/>
<path d="M544.8,402.8 L543.8,401.4 L542.8,399.9 L541.8,398.5 L540.8,397.0 L539.8,395.6 L538.8,394.1 L537.8,392.7 L536.8,391.2 L535.8,389.8 L534.8,388.3" stroke-width="4.00" stroke-linejoin="round"/><path d="M544.8,402.8 L543.8,401.4 L542.8,399.9 L541.8,398.5 L540.8,397.0 L539.8,395.6 L538.8,394.1 L537.8,392.7 L536.8,391.2 L535.8,389.8 L534.8,388.3" stroke-width="1.80" stroke="#fff" stroke-linejoin="round"/>
<path d="M482.3,445.9 L481.3,444.5 L480.3,443.0 L479.3,441.6 L478.3,440.1 L477.3,438.7 L476.3,437.2 L475.3,435.8 L474.3,434.3 L473.3,432.9 L472.3,431.4" stroke-width="4.00" stroke-linejoin="round"/><path d="M482.3,445.9 L481.3,444.5 L480.3,443.0 L479.3,441.6 L478.3,440.1 L477.3,438.7 L476.3,437.2 L475.3,435.8 L474.3,434.3 L473.3,432.9 L472.3,431.4" stroke-width="1.80" stroke="#fff" stroke-linejoin="round"/>
<path d="M532.4,405.5 L531.4,404.0 L530.4,402.6 L529.4,401.1 L528.4,399.7 L527.4,398.2 L526.4,396.8 L525.4,395.3 L524.4,393.9 L523.4,392.4 L522.4,391.0" stroke-width="4.00" stroke-linejoin="round"/><path d="M532.4,405.5 L531.4,404.0 L530.4,402.6 L529.4,401.1 L528.4,399.7 L527.4,398.2 L526.4,396.8 L525.4,395.3 L524.4,393.9 L523.4,392.4 L522.4,391.0" stroke-width="1.80" stroke="#fff" stroke-linejoin="round"/>
<path d="M489.1,435.3 L488.1,433.8 L487.1,432.4 L486.1,430.9 L485.1,429.5 L484.1,428.0 L483.1,426.6 L482.1,425.1 L481.1,423.7 L480.1,422.2 L479.1,420.8" stroke-width="4.00" stroke-linejoin="round"/><path d="M489.1,435.3 L488.1,433.8 L487.1,432.4 L486.1,430.9 L485.1,429.5 L484.1,428.0 L483.1,426.6 L482.1,425.1 L481.1,423.7 L480.1,422.2 L479.1,420.8" stroke-width="1.80" stroke="#fff" stroke-linejoin="round"/>
<path d="M546.2,452.3 L546.5,448.0 L546.8,443.6 L547.2,439.3 L547.5,434.9 L547.8,430.6" stroke-width="4.00" stroke-linejoin="round"/><path d="M546.2,452.3 L546.5,448.0 L546.8,443.6 L547.2,439.3 L547.5,434.9 L547.8,430.6" stroke-width="1.80" stroke="#fff" stroke-linejoin="round"/>
<path d="M528.0,464.9 L523.9,463.6 L519.7,462.4 L515.5,461.1 L511.4,459.8 L507.2,458.6" stroke-width="4.00" stroke-linejoin="round"/><path d="M528.0,464.9 L523.9,463.6 L519.7,462.4 L515.5,461.1 L511.4,459.8 L507.2,458.6" stroke-width="1.80" stroke="#fff" stroke-linejoin="round"/>
<path d="M552.5,429.8 L552.8,421.5 L552.2,417.6 L551.5,414.7 L550.7,412.2 L549.8,410.3 L548.8,408.6 L547.8,407.2 L546.8,405.7 L545.8,404.3 L544.8,402.8" stroke-width="4.00" stroke-linejoin="round"/><path d="M552.5,429.8 L552.8,421.5 L552.2,417.6 L551.5,414.7 L550.7,412.2 L549.8,410.3 L548.8,408.6 L547.8,407.2 L546.8,405.7 L545.8,404.3 L544.8,402.8" stroke-width="1.80" stroke="#fff" stroke-linejoin="round"/>
<path d="M504.8,462.7 L496.9,460.0 L493.5,458.1 L491.0,456.4 L489.0,454.8 L487.5,453.2 L486.3,451.7 L485.3,450.3 L484.3,448.8 L483.3,447.4 L482.3,445.9" stroke-width="4.00" stroke-linejoin="round"/><path d="M504.8,462.7 L496.9,460.0 L493.5,458.1 L491.0,456.4 L489.0,454.8 L487.5,453.2 L486.3,451.7 L485.3,450.3 L484.3,448.8 L483.3,447.4 L482.3,445.9" stroke-width="1.80" stroke="#fff" stroke-linejoin="round"/>
<path d="M552.5,429.8 L550.1,430.1 L547.8,430.6 L545.4,431.1 L543.0,431.8" stroke-width="4.00" stroke-linejoin="round"/><path d="M552.5,429.8 L550.1,430.1 L547.8,430.6 L545.4,431.1 L543.0,431.8" stroke-width="1.80" stroke="#fff" stroke-linejoin="round"/>
<path d="M510.0,454.6 L508.5,456.6 L507.2,458.6 L505.9,460.6 L504.8,462.7" stroke-width="4.00" stroke-linejoin="round"/><path d="M510.0,454.6 L508.5,456.6 L507.2,458.6 L505.9,460.6 L504.8,462.7" stroke-width="1.80" stroke="#fff" stroke-linejoin="round"/>
<path d="M543.0,431.8 L541.7,423.8 L540.6,420.1 L539.5,417.2 L538.4,414.8 L537.4,412.9 L536.4,411.3 L535.4,409.8 L534.4,408.4 L533.4,406.9 L532.4,405.5" stroke-width="4.00" stroke-linejoin="round"/><path d="M543.0,431.8 L541.7,423.8 L540.6,420.1 L539.5,417.2 L538.4,414.8 L537.4,412.9 L536.4,411.3 L535.4,409.8 L534.4,408.4 L533.4,406.9 L532.4,405.5" stroke-width="1.80" stroke="#fff" stroke-linejoin="round"/>
<path d="M510.0,454.6 L503.0,450.5 L499.9,448.1 L497.6,446.1 L495.8,444.3 L494.3,442.6 L493.1,441.1 L492.1,439.6 L491.1,438.2 L490.1,436.7 L489.1,435.3" stroke-width="4.00" stroke-linejoin="round"/><path d="M510.0,454.6 L503.0,450.5 L499.9,448.1 L497.6,446.1 L495.8,444.3 L494.3,442.6 L493.1,441.1 L492.1,439.6 L491.1,438.2 L490.1,436.7 L489.1,435.3" stroke-width="1.80" stroke="#fff" stroke-linejoin="round"/>
<path d="M561.2,454.6 L559.9,452.9 L558.2,451.6 L556.3,450.5 L554.2,449.7 L551.9,449.1 L549.4,448.9 L546.9,449.0 L544.2,449.4 L541.6,450.1 L538.9,451.1 L536.4,452.4 L533.9,453.9 L531.6,455.7 L529.5,457.6 L527.7,459.7 L526.0,462.0 L524.7,464.3 L523.7,466.7 L523.0,469.0 L522.7,471.4 L522.7,473.7 L523.1,475.8 L523.8,477.8 L524.8,479.6 L526.1,481.3 L527.8,482.6 L529.7,483.7 L531.8,484.5 L534.1,485.1 L536.6,485.3 L539.1,485.2 L541.8,484.8 L544.4,484.1 L547.1,483.1 L549.6,481.8 L552.1,480.3 L554.4,478.5 L556.5,476.6 L558.3,474.5 L560.0,472.2 L561.3,469.9 L562.3,467.5 L563.0,465.2 L563.3,462.8 L563.3,460.5 L562.9,458.4 L562.2,456.4 L561.2,454.6 Z" stroke-width="3.2" fill="none"/><path d="M557.7,457.0 L556.6,455.7 L555.3,454.6 L553.8,453.7 L552.1,453.0 L550.2,452.6 L548.2,452.4 L546.1,452.5 L544.0,452.8 L541.9,453.4 L539.7,454.2 L537.7,455.2 L535.7,456.5 L533.8,457.9 L532.1,459.5 L530.6,461.2 L529.3,463.0 L528.2,464.8 L527.4,466.8 L526.9,468.7 L526.6,470.6 L526.6,472.4 L526.9,474.1 L527.5,475.8 L528.3,477.2 L529.4,478.5 L530.7,479.6 L532.2,480.5 L533.9,481.2 L535.8,481.6 L537.8,481.8 L539.9,481.7 L542.0,481.4 L544.1,480.8 L546.3,480.0 L548.3,479.0 L550.3,477.7 L552.2,476.3 L553.9,474.7 L555.4,473.0 L556.7,471.2 L557.8,469.4 L558.6,467.4 L559.1,465.5 L559.4,463.6 L559.4,461.8 L559.1,460.1 L558.5,458.4 L557.7,457.0 Z" stroke-width="1.2" fill="none"/><path d="M566.7,453.6 L565.1,451.6 L563.1,449.9 L560.7,448.6 L558.1,447.6 L555.3,446.9 L552.3,446.7 L549.1,446.8 L545.9,447.3 L542.6,448.2 L539.3,449.4 L536.2,451.0 L533.2,452.8 L530.3,455.0 L527.8,457.4 L525.4,460.0 L523.5,462.7 L521.8,465.6 L520.6,468.5 L519.8,471.4 L519.4,474.3 L519.4,477.1 L519.8,479.8 L520.7,482.2 L521.9,484.5 L523.6,486.5 L525.6,488.1 L527.9,489.5 L530.5,490.5 L533.4,491.1 L536.4,491.4 L539.6,491.3 L542.8,490.8 L546.1,489.9 L549.3,488.7 L552.5,487.1 L555.5,485.2 L558.3,483.1 L560.9,480.7 L563.2,478.1 L565.2,475.3 L566.8,472.5 L568.1,469.6 L568.9,466.6 L569.3,463.8 L569.3,461.0 L568.9,458.3 L568.0,455.8 L566.7,453.6 Z" stroke-width="1" fill="none"/><path d="M558.8,453.3 L557.5,451.8 L556.0,450.5 L554.2,449.5 L552.2,448.7 L550.1,448.2 L547.7,448.0 L545.3,448.1 L542.8,448.5 L540.3,449.2 L537.8,450.1 L535.4,451.3 L533.1,452.8 L531.0,454.4 L529.0,456.3 L527.2,458.2 L525.7,460.3 L524.4,462.5 L523.5,464.8 L522.9,467.0 L522.5,469.2 L522.6,471.3 L522.9,473.4 L523.6,475.3 L524.5,477.0 L525.8,478.5 L527.3,479.8 L529.1,480.8 L531.1,481.6 L533.3,482.1 L535.6,482.3 L538.0,482.2 L540.5,481.8 L543.0,481.1 L545.5,480.2 L547.9,479.0 L550.2,477.6 L552.4,475.9 L554.4,474.1 L556.1,472.1 L557.6,470.0 L558.9,467.8 L559.8,465.6 L560.5,463.3 L560.8,461.1 L560.8,459.0 L560.4,457.0 L559.8,455.1 L558.8,453.3 Z" stroke-width="2" stroke-dasharray="2 1.5" fill="none"/>
<path d="M521.6,474.9 L522.0,472.2 L522.8,469.5 L523.9,466.8 L525.4,464.1 L527.3,461.5 L529.5,459.1 L531.9,456.8 L534.5,454.8 L537.4,453.1 L540.3,451.6 L543.4,450.4 L546.4,449.6 L549.5,449.1 L552.4,449.0 L555.3,449.3 L558.0,449.9 L560.4,450.8 L562.6,452.1 L564.5,453.7 L566.0,455.5 L568.7,459.4 L569.9,461.5 L570.6,463.8 L571.1,466.3 L571.1,468.9 L570.7,471.6 L569.9,474.4 L568.8,477.1 L567.2,479.8 L565.4,482.4 L563.2,484.8 L560.8,487.0 L558.1,489.1 L555.3,490.8 L552.4,492.3 L549.3,493.4 L546.2,494.2 L543.2,494.7 L540.2,494.8 L537.4,494.6 L534.7,494.0 L532.3,493.1 L530.1,491.8 L528.2,490.2 L526.7,488.3 L524.0,484.5 L522.8,482.4 L522.0,480.1 L521.6,477.6 Z" fill="#fff" stroke-width="1"/><path d="M568.7,459.4 L567.1,457.5 L565.2,456.0 L563.1,454.7 L560.6,453.7 L557.9,453.1 L555.1,452.9 L552.1,453.0 L549.1,453.5 L546.0,454.3 L543.0,455.5 L540.0,456.9 L537.2,458.7 L534.5,460.7 L532.1,463.0 L530.0,465.4 L528.1,468.0 L526.6,470.6 L525.4,473.4 L524.6,476.1 L524.3,478.8 L524.3,481.4 L524.7,483.9 L525.5,486.2 L526.7,488.3 L528.2,490.2 L530.1,491.8 L532.3,493.1 L534.7,494.0 L537.4,494.6 L540.2,494.8 L543.2,494.7 L546.2,494.3 L549.3,493.4 L552.3,492.3 L555.3,490.8 L558.1,489.0 L560.8,487.0 L563.2,484.8 L565.4,482.4 L567.2,479.8 L568.8,477.1 L569.9,474.4 L570.7,471.6 L571.1,468.9 L571.1,466.3 L570.7,463.8 L569.8,461.5 L568.7,459.4 Z" stroke-width="1" fill="none"/>
<path d="M523.5,479.0 L523.9,476.2 L524.7,473.4 L525.9,470.5 L527.5,467.8 L529.4,465.1 L531.6,462.6 L534.1,460.3 L536.9,458.2 L539.8,456.4 L542.8,454.8 L546.0,453.6 L549.1,452.8 L552.3,452.3 L555.4,452.2 L558.3,452.4 L561.0,453.1 L563.6,454.0 L565.8,455.4 L567.8,457.0 L569.4,458.9 L585.0,481.6 L586.2,483.8 L587.1,486.2 L587.5,488.8 L587.5,491.5 L587.1,494.3 L586.3,497.1 L585.1,499.9 L583.5,502.7 L581.6,505.4 L579.4,507.9 L576.9,510.2 L574.1,512.3 L571.2,514.1 L568.2,515.6 L565.0,516.8 L561.9,517.6 L558.7,518.1 L555.6,518.2 L552.7,518.0 L550.0,517.4 L547.4,516.4 L545.2,515.1 L543.2,513.5 L541.6,511.5 L526.0,488.8 L524.8,486.6 L523.9,484.3 L523.5,481.7 Z" fill="#fff" stroke-width="1"/><path d="M585.0,481.6 L583.4,479.7 L581.5,478.1 L579.2,476.8 L576.7,475.8 L574.0,475.2 L571.0,474.9 L568.0,475.0 L564.8,475.5 L561.6,476.4 L558.5,477.6 L555.4,479.1 L552.5,480.9 L549.8,483.0 L547.3,485.3 L545.0,487.8 L543.1,490.5 L541.5,493.2 L540.3,496.1 L539.5,498.9 L539.1,501.7 L539.2,504.4 L539.6,507.0 L540.4,509.4 L541.6,511.5 L543.2,513.5 L545.2,515.1 L547.4,516.4 L550.0,517.4 L552.7,518.0 L555.6,518.3 L558.7,518.1 L561.9,517.6 L565.0,516.8 L568.2,515.6 L571.2,514.1 L574.2,512.3 L576.9,510.2 L579.4,507.9 L581.6,505.3 L583.5,502.7 L585.1,499.9 L586.3,497.1 L587.1,494.3 L587.5,491.5 L587.5,488.8 L587.1,486.2 L586.3,483.8 L585.0,481.6 Z" stroke-width="1" fill="none"/>
<path d="M546.9,500.1 L547.2,498.1 L547.8,496.2 L548.6,494.3 L549.6,492.4 L550.9,490.6 L552.5,488.9 L554.1,487.4 L556.0,486.0 L558.0,484.7 L560.1,483.7 L562.2,482.9 L564.3,482.3 L566.5,482.0 L568.5,481.9 L570.5,482.1 L572.4,482.5 L574.1,483.1 L575.6,484.0 L577.0,485.1 L578.0,486.4 L580.4,489.8 L581.2,491.3 L581.8,492.9 L582.0,494.7 L582.1,496.5 L581.8,498.4 L581.2,500.3 L580.4,502.2 L579.4,504.1 L578.1,505.9 L576.5,507.6 L574.9,509.2 L573.0,510.6 L571.0,511.8 L568.9,512.9 L566.8,513.7 L564.7,514.2 L562.5,514.6 L560.5,514.6 L558.5,514.5 L556.6,514.1 L554.9,513.4 L553.4,512.5 L552.0,511.4 L551.0,510.1 L548.6,506.7 L547.8,505.2 L547.2,503.6 L547.0,501.9 Z" fill="#fff" stroke-width="1"/><path d="M580.4,489.8 L579.3,488.5 L578.0,487.4 L576.4,486.5 L574.7,485.9 L572.9,485.5 L570.9,485.3 L568.8,485.4 L566.7,485.7 L564.5,486.3 L562.4,487.1 L560.3,488.1 L558.3,489.3 L556.5,490.8 L554.8,492.3 L553.3,494.0 L552.0,495.8 L550.9,497.7 L550.1,499.6 L549.5,501.5 L549.3,503.4 L549.3,505.3 L549.6,507.0 L550.1,508.6 L551.0,510.1 L552.1,511.4 L553.4,512.5 L554.9,513.4 L556.6,514.1 L558.5,514.5 L560.5,514.6 L562.5,514.6 L564.7,514.2 L566.8,513.7 L568.9,512.9 L571.0,511.8 L573.0,510.6 L574.8,509.2 L576.5,507.6 L578.1,505.9 L579.4,504.1 L580.4,502.2 L581.2,500.3 L581.8,498.4 L582.1,496.5 L582.0,494.7 L581.8,492.9 L581.2,491.3 L580.4,489.8 Z" stroke-width="1" fill="none"/>
<path d="M560.2,501.1 L560.3,500.5 L560.5,499.9 L560.8,499.2 L561.1,498.6 L561.5,498.0 L562.0,497.4 L562.6,496.9 L563.2,496.4 L563.9,496.0 L564.6,495.7 L565.3,495.4 L566.0,495.2 L566.7,495.1 L567.4,495.1 L568.1,495.1 L568.7,495.3 L569.3,495.5 L569.8,495.8 L570.2,496.2 L570.6,496.6 L574.9,502.9 L575.2,503.4 L575.4,503.9 L575.5,504.5 L575.5,505.1 L575.4,505.7 L575.2,506.4 L574.9,507.0 L574.6,507.6 L574.1,508.2 L573.6,508.8 L573.1,509.3 L572.4,509.8 L571.8,510.2 L571.1,510.6 L570.4,510.8 L569.7,511.0 L569.0,511.1 L568.3,511.1 L567.6,511.1 L567.0,510.9 L566.4,510.7 L565.9,510.4 L565.5,510.1 L565.1,509.6 L560.8,503.3 L560.5,502.9 L560.3,502.3 L560.2,501.7 Z" fill="#fff" stroke-width="1"/><path d="M574.9,502.9 L574.5,502.4 L574.1,502.1 L573.6,501.8 L573.0,501.6 L572.4,501.4 L571.7,501.4 L571.0,501.4 L570.3,501.5 L569.6,501.7 L568.9,502.0 L568.2,502.3 L567.6,502.7 L566.9,503.2 L566.4,503.7 L565.9,504.3 L565.4,504.9 L565.1,505.5 L564.8,506.1 L564.6,506.8 L564.5,507.4 L564.5,508.0 L564.6,508.6 L564.8,509.1 L565.1,509.6 L565.5,510.1 L565.9,510.4 L566.4,510.7 L567.0,510.9 L567.6,511.1 L568.3,511.1 L569.0,511.1 L569.7,511.0 L570.4,510.8 L571.1,510.5 L571.8,510.2 L572.4,509.8 L573.1,509.3 L573.6,508.8 L574.1,508.2 L574.6,507.6 L574.9,507.0 L575.2,506.4 L575.4,505.7 L575.5,505.1 L575.5,504.5 L575.4,503.9 L575.2,503.4 L574.9,502.9 Z" stroke-width="1" fill="none"/>
<path d="M545.1,637.6 L545.2,636.8 L545.4,636.1 L545.6,635.4 L546.0,634.7 L546.4,634.1 L547.0,633.5 L547.6,633.1 L548.2,632.7 L550.7,631.4 L551.4,631.1 L552.1,631.0 L552.9,630.9 L553.6,630.9 L554.4,631.0 L555.1,631.2 L555.8,631.5 L556.5,631.9 L557.1,632.3 L557.6,632.9 L558.1,633.5 L558.5,634.2 L558.8,634.9 L559.0,635.6 L559.1,636.4 L559.2,637.2 L559.1,637.9 L558.9,638.7 L558.6,639.4 L558.3,640.0 L557.8,640.7 L557.3,641.2 L556.7,641.7 L556.0,642.1 L553.6,643.3 L552.9,643.6 L552.1,643.8 L551.4,643.9 L550.6,643.9 L549.9,643.8 L549.1,643.6 L548.4,643.3 L547.8,642.9 L547.2,642.4 L546.6,641.9 L546.1,641.3 L545.7,640.6 L545.4,639.9 L545.2,639.1 L545.1,638.4 Z" fill="#fff" stroke-width="1"/><path d="M548.2,632.7 L548.9,632.4 L549.6,632.2 L550.4,632.1 L551.1,632.1 L551.9,632.2 L552.6,632.4 L553.3,632.7 L554.0,633.1 L554.6,633.6 L555.2,634.1 L555.6,634.7 L556.0,635.4 L556.3,636.1 L556.5,636.9 L556.7,637.6 L556.7,638.4 L556.6,639.2 L556.4,639.9 L556.1,640.6 L555.8,641.3 L555.3,641.9 L554.8,642.5 L554.2,642.9 L553.6,643.3 L552.9,643.6 L552.1,643.8 L551.4,643.9 L550.6,643.9 L549.9,643.8 L549.1,643.6 L548.4,643.3 L547.8,642.9 L547.2,642.4 L546.6,641.9 L546.1,641.3 L545.7,640.6 L545.4,639.9 L545.2,639.1 L545.1,638.4 L545.1,637.6 L545.2,636.8 L545.4,636.1 L545.6,635.4 L546.0,634.7 L546.4,634.1 L547.0,633.5 L547.6,633.1 L548.2,632.7 Z" stroke-width="1" fill="none"/>
<path d="M532.2,637.5 L532.4,635.1 L533.0,632.9 L533.8,630.8 L534.9,628.8 L536.2,626.9 L537.8,625.3 L539.6,623.9 L541.5,622.8 L542.9,622.1 L544.9,621.2 L547.1,620.6 L549.4,620.3 L551.6,620.3 L553.9,620.6 L556.1,621.2 L558.2,622.1 L560.2,623.3 L562.0,624.7 L563.7,626.4 L565.1,628.2 L566.3,630.2 L567.2,632.4 L567.9,634.6 L568.2,636.9 L568.3,639.2 L568.0,641.5 L567.5,643.8 L566.6,645.9 L565.6,647.9 L564.2,649.8 L562.6,651.4 L560.9,652.8 L558.9,653.9 L557.6,654.6 L555.5,655.5 L553.3,656.1 L551.1,656.4 L548.8,656.4 L546.5,656.1 L544.3,655.5 L542.2,654.6 L540.2,653.4 L538.4,652.0 L536.7,650.3 L535.3,648.5 L534.1,646.5 L533.2,644.3 L532.6,642.1 L532.2,639.8 Z" fill="#fff" stroke-width="1"/><path d="M541.5,622.7 L543.6,621.9 L545.8,621.3 L548.0,621.0 L550.3,621.0 L552.6,621.3 L554.8,621.9 L556.9,622.8 L558.9,624.0 L560.7,625.4 L562.4,627.0 L563.8,628.9 L565.0,630.9 L565.9,633.1 L566.5,635.3 L566.9,637.6 L566.9,639.9 L566.7,642.2 L566.1,644.5 L565.3,646.6 L564.2,648.6 L562.9,650.4 L561.3,652.1 L559.5,653.5 L557.6,654.6 L555.5,655.5 L553.3,656.1 L551.1,656.4 L548.8,656.4 L546.5,656.1 L544.3,655.5 L542.2,654.6 L540.2,653.4 L538.4,652.0 L536.7,650.3 L535.3,648.5 L534.1,646.5 L533.2,644.3 L532.6,642.1 L532.2,639.8 L532.2,637.5 L532.4,635.2 L533.0,632.9 L533.8,630.8 L534.9,628.8 L536.2,626.9 L537.8,625.3 L539.6,623.9 L541.5,622.7 Z" stroke-width="1" fill="none"/>
<path d="M514.9,641.4 L515.2,638.0 L516.0,634.7 L517.3,631.5 L518.9,628.6 L520.9,625.9 L523.2,623.5 L525.8,621.4 L528.7,619.7 L537.7,615.2 L540.8,613.9 L544.0,613.0 L547.3,612.5 L550.6,612.6 L554.0,613.0 L557.2,613.9 L560.4,615.2 L563.3,617.0 L566.0,619.1 L568.5,621.5 L570.6,624.2 L572.3,627.2 L573.7,630.4 L574.6,633.7 L575.1,637.1 L575.2,640.5 L574.8,643.9 L574.0,647.2 L572.8,650.4 L571.2,653.3 L569.2,656.0 L566.9,658.4 L564.3,660.5 L561.4,662.2 L552.4,666.8 L549.3,668.0 L546.1,668.9 L542.8,669.4 L539.4,669.3 L536.1,668.9 L532.8,668.0 L529.7,666.7 L526.8,664.9 L524.0,662.8 L521.6,660.4 L519.5,657.7 L517.8,654.7 L516.4,651.5 L515.5,648.2 L515.0,644.8 Z" fill="#fff" stroke-width="1"/><path d="M528.7,619.7 L531.7,618.4 L535.0,617.5 L538.3,617.1 L541.6,617.1 L545.0,617.6 L548.2,618.5 L551.4,619.8 L554.3,621.5 L557.0,623.6 L559.5,626.0 L561.6,628.8 L563.3,631.7 L564.7,634.9 L565.6,638.2 L566.1,641.6 L566.2,645.0 L565.8,648.4 L565.0,651.7 L563.8,654.9 L562.2,657.9 L560.2,660.6 L557.9,663.0 L555.3,665.1 L552.4,666.8 L549.3,668.1 L546.1,668.9 L542.8,669.4 L539.4,669.3 L536.1,668.9 L532.8,668.0 L529.7,666.7 L526.8,664.9 L524.0,662.8 L521.6,660.4 L519.5,657.7 L517.8,654.7 L516.4,651.5 L515.5,648.2 L515.0,644.8 L514.9,641.4 L515.2,638.0 L516.0,634.7 L517.3,631.6 L518.9,628.6 L520.9,625.9 L523.2,623.5 L525.8,621.4 L528.7,619.7 Z" stroke-width="1" fill="none"/>
<path d="M514.2,642.2 L514.5,639.0 L515.3,635.8 L516.5,632.7 L518.0,629.8 L520.0,627.2 L522.2,624.9 L524.7,622.9 L527.5,621.2 L529.0,620.5 L532.0,619.2 L535.1,618.4 L538.4,617.9 L541.6,618.0 L544.8,618.4 L548.0,619.3 L551.0,620.5 L553.9,622.2 L556.5,624.2 L558.8,626.6 L560.9,629.2 L562.6,632.1 L563.9,635.2 L564.8,638.4 L565.3,641.7 L565.4,645.0 L565.0,648.3 L564.2,651.5 L563.0,654.5 L561.5,657.4 L559.6,660.0 L557.3,662.3 L554.8,664.4 L552.0,666.0 L550.5,666.8 L547.5,668.0 L544.4,668.9 L541.2,669.3 L537.9,669.3 L534.7,668.8 L531.5,668.0 L528.5,666.7 L525.7,665.0 L523.0,663.0 L520.7,660.6 L518.7,658.0 L517.0,655.1 L515.7,652.0 L514.8,648.8 L514.2,645.5 Z" fill="#fff" stroke-width="1"/><path d="M527.5,621.2 L530.5,620.0 L533.6,619.1 L536.8,618.7 L540.1,618.7 L543.3,619.2 L546.5,620.0 L549.5,621.3 L552.3,623.0 L555.0,625.0 L557.3,627.4 L559.3,630.0 L561.0,632.9 L562.3,636.0 L563.3,639.2 L563.7,642.4 L563.8,645.8 L563.5,649.0 L562.7,652.2 L561.5,655.3 L560.0,658.2 L558.0,660.8 L555.8,663.1 L553.3,665.1 L550.5,666.8 L547.5,668.0 L544.4,668.9 L541.2,669.3 L537.9,669.3 L534.7,668.8 L531.5,668.0 L528.5,666.7 L525.7,665.0 L523.0,663.0 L520.7,660.6 L518.7,658.0 L517.0,655.1 L515.7,652.0 L514.7,648.8 L514.3,645.6 L514.2,642.2 L514.5,639.0 L515.3,635.8 L516.5,632.7 L518.0,629.8 L520.0,627.2 L522.2,624.9 L524.7,622.9 L527.5,621.2 Z" stroke-width="1" fill="none"/>
<path d="M527.9,624.8 L530.5,623.8 L533.2,623.0 L536.0,622.7 L538.8,622.7 L541.6,623.1 L544.3,623.8 L546.9,624.9 L549.4,626.4 L551.7,628.1 L553.7,630.2 L555.5,632.5 L556.9,635.0 L558.1,637.6 L558.9,640.4 L559.3,643.2 L559.4,646.1 L559.1,649.0 L558.4,651.7 L557.4,654.4 L556.0,656.9 L554.4,659.1 L552.4,661.1 L550.2,662.9 L547.8,664.3 L545.2,665.4 L542.5,666.1 L539.7,666.5 L536.9,666.5 L534.1,666.1 L531.4,665.3 L528.8,664.2 L526.3,662.8 L524.0,661.0 L522.0,659.0 L520.2,656.7 L518.8,654.2 L517.6,651.6 L516.8,648.8 L516.4,645.9 L516.3,643.1 L516.6,640.2 L517.3,637.4 L518.3,634.8 L519.7,632.3 L521.3,630.0 L523.3,628.0 L525.5,626.3 L527.9,624.8 Z" stroke-width="3.2" fill="none"/><path d="M529.8,628.6 L531.9,627.8 L534.1,627.2 L536.3,626.9 L538.6,626.9 L540.9,627.2 L543.1,627.8 L545.2,628.7 L547.2,629.9 L549.0,631.3 L550.7,632.9 L552.1,634.8 L553.3,636.8 L554.2,638.9 L554.8,641.2 L555.2,643.5 L555.2,645.8 L555.0,648.1 L554.4,650.4 L553.6,652.5 L552.5,654.5 L551.2,656.3 L549.6,658.0 L547.8,659.4 L545.9,660.5 L543.8,661.4 L541.6,662.0 L539.4,662.3 L537.1,662.3 L534.8,662.0 L532.6,661.3 L530.5,660.5 L528.5,659.3 L526.7,657.9 L525.0,656.2 L523.6,654.4 L522.4,652.4 L521.5,650.2 L520.9,648.0 L520.5,645.7 L520.5,643.3 L520.7,641.0 L521.3,638.8 L522.1,636.7 L523.2,634.7 L524.5,632.8 L526.1,631.2 L527.9,629.8 L529.8,628.6 Z" stroke-width="1.2" fill="none"/><path d="M526.4,619.9 L529.5,618.6 L532.9,617.7 L536.3,617.2 L539.8,617.2 L543.2,617.7 L546.6,618.6 L549.8,620.0 L552.8,621.8 L555.6,624.0 L558.1,626.5 L560.3,629.3 L562.1,632.3 L563.5,635.6 L564.5,639.0 L565.0,642.5 L565.1,646.1 L564.7,649.6 L563.9,653.0 L562.6,656.2 L561.0,659.3 L558.9,662.1 L556.5,664.6 L553.8,666.7 L550.9,668.5 L547.7,669.8 L544.4,670.7 L540.9,671.2 L537.5,671.2 L534.0,670.7 L530.7,669.7 L527.4,668.4 L524.4,666.6 L521.6,664.4 L519.1,661.9 L516.9,659.1 L515.1,656.0 L513.7,652.8 L512.7,649.4 L512.2,645.8 L512.1,642.3 L512.5,638.8 L513.3,635.4 L514.6,632.1 L516.3,629.1 L518.3,626.3 L520.7,623.8 L523.4,621.7 L526.4,619.9 Z" stroke-width="1" fill="none"/><path d="M527.7,626.4 L530.1,625.3 L532.7,624.7 L535.3,624.3 L538.0,624.3 L540.6,624.7 L543.2,625.4 L545.6,626.4 L548.0,627.8 L550.1,629.5 L552.0,631.4 L553.7,633.5 L555.1,635.9 L556.1,638.4 L556.9,641.0 L557.3,643.7 L557.4,646.4 L557.1,649.1 L556.4,651.7 L555.5,654.2 L554.2,656.5 L552.6,658.7 L550.8,660.6 L548.7,662.2 L546.5,663.6 L544.0,664.6 L541.5,665.3 L538.9,665.6 L536.2,665.6 L533.6,665.2 L531.0,664.5 L528.5,663.5 L526.2,662.1 L524.1,660.5 L522.1,658.5 L520.5,656.4 L519.1,654.0 L518.0,651.5 L517.3,648.9 L516.9,646.2 L516.8,643.5 L517.1,640.8 L517.7,638.2 L518.7,635.7 L520.0,633.4 L521.5,631.3 L523.4,629.4 L525.4,627.7 L527.7,626.4 Z" stroke-width="2" stroke-dasharray="2 1.5" fill="none"/>
<path d="M498.3,668.9 L497.3,667.2 L496.4,665.5 L495.6,663.7 L494.8,662.0" stroke-width="4.00" stroke-linejoin="round"/><path d="M498.3,668.9 L497.3,667.2 L496.4,665.5 L495.6,663.7 L494.8,662.0" stroke-width="1.80" stroke="#fff" stroke-linejoin="round"/>
<path d="M519.9,653.6 L515.2,656.0 L510.5,658.4 L505.8,660.7 L501.1,663.1 L496.4,665.5" stroke-width="4.00" stroke-linejoin="round"/><path d="M519.9,653.6 L515.2,656.0 L510.5,658.4 L505.8,660.7 L501.1,663.1 L496.4,665.5" stroke-width="1.80" stroke="#fff" stroke-linejoin="round"/>
<path d="M492.2,631.7 L492.7,629.9 L493.2,628.1 L493.8,626.3 L494.5,624.5" stroke-width="4.00" stroke-linejoin="round"/><path d="M492.2,631.7 L492.7,629.9 L493.2,628.1 L493.8,626.3 L494.5,624.5" stroke-width="1.80" stroke="#fff" stroke-linejoin="round"/>
<path d="M528.2,691.4 L526.4,690.9 L524.6,690.3 L522.8,689.7 L521.0,688.9" stroke-width="4.00" stroke-linejoin="round"/><path d="M528.2,691.4 L526.4,690.9 L524.6,690.3 L522.8,689.7 L521.0,688.9" stroke-width="1.80" stroke="#fff" stroke-linejoin="round"/>
<path d="M532.5,664.8 L530.9,669.9 L529.4,675.0 L527.8,680.1 L526.2,685.2 L524.6,690.3" stroke-width="4.00" stroke-linejoin="round"/><path d="M532.5,664.8 L530.9,669.9 L529.4,675.0 L527.8,680.1 L526.2,685.2 L524.6,690.3" stroke-width="1.80" stroke="#fff" stroke-linejoin="round"/>
<path d="M518.5,636.9 L513.4,635.1 L508.4,633.3 L503.3,631.6 L498.2,629.8 L493.2,628.1" stroke-width="4.00" stroke-linejoin="round"/><path d="M518.5,636.9 L513.4,635.1 L508.4,633.3 L503.3,631.6 L498.2,629.8 L493.2,628.1" stroke-width="1.80" stroke="#fff" stroke-linejoin="round"/>
<path d="M498.3,668.9 L490.7,673.4 L487.7,675.2 L485.6,676.4 L484.1,677.3 L482.9,677.9 L482.2,678.3 L481.6,678.6 L481.0,678.9 L480.5,679.2 L479.9,679.5" stroke-width="4.00" stroke-linejoin="round"/><path d="M498.3,668.9 L490.7,673.4 L487.7,675.2 L485.6,676.4 L484.1,677.3 L482.9,677.9 L482.2,678.3 L481.6,678.6 L481.0,678.9 L480.5,679.2 L479.9,679.5" stroke-width="1.80" stroke="#fff" stroke-linejoin="round"/>
<path d="M494.8,662.0 L486.6,665.3 L483.4,666.7 L481.2,667.7 L479.6,668.4 L478.4,668.9 L477.6,669.3 L477.1,669.6 L476.5,669.9 L475.9,670.1 L475.3,670.4" stroke-width="4.00" stroke-linejoin="round"/><path d="M494.8,662.0 L486.6,665.3 L483.4,666.7 L481.2,667.7 L479.6,668.4 L478.4,668.9 L477.6,669.3 L477.1,669.6 L476.5,669.9 L475.9,670.1 L475.3,670.4" stroke-width="1.80" stroke="#fff" stroke-linejoin="round"/>
<path d="M513.5,601.8 L515.1,600.9 L516.8,600.0 L518.5,599.2 L520.2,598.4" stroke-width="4.00" stroke-linejoin="round"/><path d="M513.5,601.8 L515.1,600.9 L516.8,600.0 L518.5,599.2 L520.2,598.4" stroke-width="1.80" stroke="#fff" stroke-linejoin="round"/>
<path d="M529.0,624.3 L526.6,619.4 L524.1,614.6 L521.7,609.7 L519.2,604.8 L516.8,600.0" stroke-width="4.00" stroke-linejoin="round"/><path d="M529.0,624.3 L526.6,619.4 L524.1,614.6 L521.7,609.7 L519.2,604.8 L516.8,600.0" stroke-width="1.80" stroke="#fff" stroke-linejoin="round"/>
<path d="M549.0,663.7 L551.4,668.6 L553.9,673.4 L556.3,678.3 L558.8,683.2 L561.2,688.0" stroke-width="4.00" stroke-linejoin="round"/><path d="M549.0,663.7 L551.4,668.6 L553.9,673.4 L556.3,678.3 L558.8,683.2 L561.2,688.0" stroke-width="1.80" stroke="#fff" stroke-linejoin="round"/>
<path d="M564.5,686.2 L562.9,687.1 L561.2,688.0 L559.5,688.8 L557.8,689.6" stroke-width="4.00" stroke-linejoin="round"/><path d="M564.5,686.2 L562.9,687.1 L561.2,688.0 L559.5,688.8 L557.8,689.6" stroke-width="1.80" stroke="#fff" stroke-linejoin="round"/>
<path d="M492.2,631.7 L483.6,629.9 L480.2,629.5 L477.9,629.3 L476.2,629.3 L475.0,629.4 L474.2,629.7 L473.6,630.0 L473.1,630.3 L472.5,630.6 L471.9,630.8" stroke-width="4.00" stroke-linejoin="round"/><path d="M492.2,631.7 L483.6,629.9 L480.2,629.5 L477.9,629.3 L476.2,629.3 L475.0,629.4 L474.2,629.7 L473.6,630.0 L473.1,630.3 L472.5,630.6 L471.9,630.8" stroke-width="1.80" stroke="#fff" stroke-linejoin="round"/>
<path d="M521.0,688.9 L517.4,696.9 L515.7,699.9 L514.5,701.9 L513.5,703.2 L512.7,704.1 L512.0,704.6 L511.4,704.9 L510.9,705.2 L510.3,705.5 L509.7,705.8" stroke-width="4.00" stroke-linejoin="round"/><path d="M521.0,688.9 L517.4,696.9 L515.7,699.9 L514.5,701.9 L513.5,703.2 L512.7,704.1 L512.0,704.6 L511.4,704.9 L510.9,705.2 L510.3,705.5 L509.7,705.8" stroke-width="1.80" stroke="#fff" stroke-linejoin="round"/>
<path d="M494.5,624.5 L486.2,621.4 L483.0,620.5 L480.8,620.1 L479.1,619.9 L478.0,620.0 L477.2,620.2 L476.6,620.5 L476.0,620.7 L475.5,621.0 L474.9,621.3" stroke-width="4.00" stroke-linejoin="round"/><path d="M494.5,624.5 L486.2,621.4 L483.0,620.5 L480.8,620.1 L479.1,619.9 L478.0,620.0 L477.2,620.2 L476.6,620.5 L476.0,620.7 L475.5,621.0 L474.9,621.3" stroke-width="1.80" stroke="#fff" stroke-linejoin="round"/>
<path d="M528.2,691.4 L525.8,699.8 L524.6,703.0 L523.6,705.0 L522.8,706.5 L522.0,707.4 L521.4,707.9 L520.9,708.2 L520.3,708.5 L519.7,708.8 L519.1,709.0" stroke-width="4.00" stroke-linejoin="round"/><path d="M528.2,691.4 L525.8,699.8 L524.6,703.0 L523.6,705.0 L522.8,706.5 L522.0,707.4 L521.4,707.9 L520.9,708.2 L520.3,708.5 L519.7,708.8 L519.1,709.0" stroke-width="1.80" stroke="#fff" stroke-linejoin="round"/>
<path d="M545.5,623.2 L547.1,618.1 L548.6,613.0 L550.2,607.9 L551.8,602.8 L553.4,597.7" stroke-width="4.00" stroke-linejoin="round"/><path d="M545.5,623.2 L547.1,618.1 L548.6,613.0 L550.2,607.9 L551.8,602.8 L553.4,597.7" stroke-width="1.80" stroke="#fff" stroke-linejoin="round"/>
<path d="M559.5,651.1 L564.6,652.9 L569.6,654.7 L574.7,656.4 L579.8,658.2 L584.8,659.9" stroke-width="4.00" stroke-linejoin="round"/><path d="M559.5,651.1 L564.6,652.9 L569.6,654.7 L574.7,656.4 L579.8,658.2 L584.8,659.9" stroke-width="1.80" stroke="#fff" stroke-linejoin="round"/>
<path d="M549.8,596.6 L551.6,597.1 L553.4,597.7 L555.2,598.3 L557.0,599.1" stroke-width="4.00" stroke-linejoin="round"/><path d="M549.8,596.6 L551.6,597.1 L553.4,597.7 L555.2,598.3 L557.0,599.1" stroke-width="1.80" stroke="#fff" stroke-linejoin="round"/>
<path d="M585.8,656.3 L585.3,658.1 L584.8,659.9 L584.2,661.7 L583.5,663.5" stroke-width="4.00" stroke-linejoin="round"/><path d="M585.8,656.3 L585.3,658.1 L584.8,659.9 L584.2,661.7 L583.5,663.5" stroke-width="1.80" stroke="#fff" stroke-linejoin="round"/>
<path d="M558.1,634.4 L562.8,632.0 L567.5,629.6 L572.2,627.3 L576.9,624.9 L581.6,622.5" stroke-width="4.00" stroke-linejoin="round"/><path d="M558.1,634.4 L562.8,632.0 L567.5,629.6 L572.2,627.3 L576.9,624.9 L581.6,622.5" stroke-width="1.80" stroke="#fff" stroke-linejoin="round"/>
<path d="M513.5,601.8 L508.6,594.9 L506.5,592.6 L505.0,591.3 L503.8,590.6 L502.9,590.3 L502.2,590.4 L501.6,590.7 L501.0,591.0 L500.4,591.3 L499.9,591.6" stroke-width="4.00" stroke-linejoin="round"/><path d="M513.5,601.8 L508.6,594.9 L506.5,592.6 L505.0,591.3 L503.8,590.6 L502.9,590.3 L502.2,590.4 L501.6,590.7 L501.0,591.0 L500.4,591.3 L499.9,591.6" stroke-width="1.80" stroke="#fff" stroke-linejoin="round"/>
<path d="M557.8,689.6 L560.4,697.7 L561.0,700.7 L561.1,702.7 L561.0,704.1 L560.7,705.0 L560.2,705.4 L559.6,705.7 L559.0,706.0 L558.4,706.3 L557.9,706.6" stroke-width="4.00" stroke-linejoin="round"/><path d="M557.8,689.6 L560.4,697.7 L561.0,700.7 L561.1,702.7 L561.0,704.1 L560.7,705.0 L560.2,705.4 L559.6,705.7 L559.0,706.0 L558.4,706.3 L557.9,706.6" stroke-width="1.80" stroke="#fff" stroke-linejoin="round"/>
<path d="M579.7,619.1 L580.7,620.8 L581.6,622.5 L582.4,624.3 L583.2,626.0" stroke-width="4.00" stroke-linejoin="round"/><path d="M579.7,619.1 L580.7,620.8 L581.6,622.5 L582.4,624.3 L583.2,626.0" stroke-width="1.80" stroke="#fff" stroke-linejoin="round"/>
<path d="M520.2,598.4 L516.4,590.9 L514.7,588.5 L513.4,587.1 L512.4,586.3 L511.6,585.9 L510.9,586.0 L510.4,586.3 L509.8,586.6 L509.2,586.9 L508.6,587.2" stroke-width="4.00" stroke-linejoin="round"/><path d="M520.2,598.4 L516.4,590.9 L514.7,588.5 L513.4,587.1 L512.4,586.3 L511.6,585.9 L510.9,586.0 L510.4,586.3 L509.8,586.6 L509.2,586.9 L508.6,587.2" stroke-width="1.80" stroke="#fff" stroke-linejoin="round"/>
<path d="M564.5,686.2 L568.3,693.7 L569.2,696.5 L569.6,698.4 L569.6,699.7 L569.4,700.6 L568.9,701.0 L568.4,701.3 L567.8,701.6 L567.2,701.9 L566.6,702.2" stroke-width="4.00" stroke-linejoin="round"/><path d="M564.5,686.2 L568.3,693.7 L569.2,696.5 L569.6,698.4 L569.6,699.7 L569.4,700.6 L568.9,701.0 L568.4,701.3 L567.8,701.6 L567.2,701.9 L566.6,702.2" stroke-width="1.80" stroke="#fff" stroke-linejoin="round"/>
<path d="M479.9,679.5 L479.3,679.8 L478.7,680.1 L478.2,680.4 L477.6,680.6 L477.0,680.9 L476.4,681.2 L475.9,681.5 L475.3,681.8 L474.7,682.1 L474.1,682.4" stroke-width="4.00" stroke-linejoin="round"/><path d="M479.9,679.5 L479.3,679.8 L478.7,680.1 L478.2,680.4 L477.6,680.6 L477.0,680.9 L476.4,681.2 L475.9,681.5 L475.3,681.8 L474.7,682.1 L474.1,682.4" stroke-width="1.80" stroke="#fff" stroke-linejoin="round"/>
<path d="M475.3,670.4 L474.8,670.7 L474.2,671.0 L473.6,671.3 L473.0,671.6 L472.5,671.9 L471.9,672.2 L471.3,672.5 L470.7,672.8 L470.2,673.0 L469.6,673.3" stroke-width="4.00" stroke-linejoin="round"/><path d="M475.3,670.4 L474.8,670.7 L474.2,671.0 L473.6,671.3 L473.0,671.6 L472.5,671.9 L471.9,672.2 L471.3,672.5 L470.7,672.8 L470.2,673.0 L469.6,673.3" stroke-width="1.80" stroke="#fff" stroke-linejoin="round"/>
<path d="M549.8,596.6 L551.1,588.7 L551.1,586.2 L551.0,584.7 L550.6,583.9 L550.2,583.5 L549.7,583.6 L549.1,583.9 L548.5,584.2 L547.9,584.5 L547.4,584.8" stroke-width="4.00" stroke-linejoin="round"/><path d="M549.8,596.6 L551.1,588.7 L551.1,586.2 L551.0,584.7 L550.6,583.9 L550.2,583.5 L549.7,583.6 L549.1,583.9 L548.5,584.2 L547.9,584.5 L547.4,584.8" stroke-width="1.80" stroke="#fff" stroke-linejoin="round"/>
<path d="M583.5,663.5 L590.6,667.2 L592.7,668.6 L593.8,669.6 L594.3,670.4 L594.3,670.9 L593.9,671.3 L593.3,671.6 L592.8,671.9 L592.2,672.2 L591.6,672.5" stroke-width="4.00" stroke-linejoin="round"/><path d="M583.5,663.5 L590.6,667.2 L592.7,668.6 L593.8,669.6 L594.3,670.4 L594.3,670.9 L593.9,671.3 L593.3,671.6 L592.8,671.9 L592.2,672.2 L591.6,672.5" stroke-width="1.80" stroke="#fff" stroke-linejoin="round"/>
<path d="M557.0,599.1 L559.5,591.7 L560.0,589.3 L560.1,587.9 L559.9,587.1 L559.6,586.8 L559.1,586.9 L558.5,587.2 L557.9,587.5 L557.4,587.7 L556.8,588.0" stroke-width="4.00" stroke-linejoin="round"/><path d="M557.0,599.1 L559.5,591.7 L560.0,589.3 L560.1,587.9 L559.9,587.1 L559.6,586.8 L559.1,586.9 L558.5,587.2 L557.9,587.5 L557.4,587.7 L556.8,588.0" stroke-width="1.80" stroke="#fff" stroke-linejoin="round"/>
<path d="M585.8,656.3 L593.3,658.6 L595.5,659.7 L596.7,660.4 L597.2,661.0 L597.3,661.5 L596.9,661.8 L596.3,662.1 L595.7,662.4 L595.2,662.7 L594.6,663.0" stroke-width="4.00" stroke-linejoin="round"/><path d="M585.8,656.3 L593.3,658.6 L595.5,659.7 L596.7,660.4 L597.2,661.0 L597.3,661.5 L596.9,661.8 L596.3,662.1 L595.7,662.4 L595.2,662.7 L594.6,663.0" stroke-width="1.80" stroke="#fff" stroke-linejoin="round"/>
<path d="M509.7,705.8 L509.1,706.1 L508.6,706.3 L508.0,706.6 L507.4,706.9 L506.8,707.2 L506.3,707.5 L505.7,707.8 L505.1,708.1 L504.5,708.4 L504.0,708.7" stroke-width="4.00" stroke-linejoin="round"/><path d="M509.7,705.8 L509.1,706.1 L508.6,706.3 L508.0,706.6 L507.4,706.9 L506.8,707.2 L506.3,707.5 L505.7,707.8 L505.1,708.1 L504.5,708.4 L504.0,708.7" stroke-width="1.80" stroke="#fff" stroke-linejoin="round"/>
<path d="M471.9,630.8 L471.3,631.1 L470.8,631.4 L470.2,631.7 L469.6,632.0 L469.0,632.3 L468.5,632.6 L467.9,632.9 L467.3,633.2 L466.7,633.5 L466.2,633.7" stroke-width="4.00" stroke-linejoin="round"/><path d="M471.9,630.8 L471.3,631.1 L470.8,631.4 L470.2,631.7 L469.6,632.0 L469.0,632.3 L468.5,632.6 L467.9,632.9 L467.3,633.2 L466.7,633.5 L466.2,633.7" stroke-width="1.80" stroke="#fff" stroke-linejoin="round"/>
<path d="M474.9,621.3 L474.3,621.6 L473.7,621.9 L473.2,622.2 L472.6,622.5 L472.0,622.8 L471.4,623.1 L470.9,623.4 L470.3,623.6 L469.7,623.9 L469.1,624.2" stroke-width="4.00" stroke-linejoin="round"/><path d="M474.9,621.3 L474.3,621.6 L473.7,621.9 L473.2,622.2 L472.6,622.5 L472.0,622.8 L471.4,623.1 L470.9,623.4 L470.3,623.6 L469.7,623.9 L469.1,624.2" stroke-width="1.80" stroke="#fff" stroke-linejoin="round"/>
<path d="M519.1,709.0 L518.6,709.3 L518.0,709.6 L517.4,709.9 L516.8,710.2 L516.3,710.5 L515.7,710.8 L515.1,711.1 L514.5,711.4 L514.0,711.7 L513.4,711.9" stroke-width="4.00" stroke-linejoin="round"/><path d="M519.1,709.0 L518.6,709.3 L518.0,709.6 L517.4,709.9 L516.8,710.2 L516.3,710.5 L515.7,710.8 L515.1,711.1 L514.5,711.4 L514.0,711.7 L513.4,711.9" stroke-width="1.80" stroke="#fff" stroke-linejoin="round"/>
<path d="M579.7,619.1 L586.1,615.2 L588.0,614.0 L588.9,613.3 L589.3,613.0 L589.3,613.0 L588.9,613.2 L588.3,613.4 L587.8,613.7 L587.2,614.0 L586.6,614.3" stroke-width="4.00" stroke-linejoin="round"/><path d="M579.7,619.1 L586.1,615.2 L588.0,614.0 L588.9,613.3 L589.3,613.0 L589.3,613.0 L588.9,613.2 L588.3,613.4 L587.8,613.7 L587.2,614.0 L586.6,614.3" stroke-width="1.80" stroke="#fff" stroke-linejoin="round"/>
<path d="M583.2,626.0 L590.2,623.2 L592.3,622.5 L593.4,622.1 L593.8,621.9 L593.9,622.0 L593.5,622.2 L592.9,622.5 L592.3,622.8 L591.7,623.1 L591.2,623.4" stroke-width="4.00" stroke-linejoin="round"/><path d="M583.2,626.0 L590.2,623.2 L592.3,622.5 L593.4,622.1 L593.8,621.9 L593.9,622.0 L593.5,622.2 L592.9,622.5 L592.3,622.8 L591.7,623.1 L591.2,623.4" stroke-width="1.80" stroke="#fff" stroke-linejoin="round"/>
<path d="M499.9,591.6 L499.3,591.9 L498.7,592.2 L498.1,592.5 L497.6,592.8 L497.0,593.1 L496.4,593.3 L495.8,593.6 L495.3,593.9 L494.7,594.2 L494.1,594.5" stroke-width="4.00" stroke-linejoin="round"/><path d="M499.9,591.6 L499.3,591.9 L498.7,592.2 L498.1,592.5 L497.6,592.8 L497.0,593.1 L496.4,593.3 L495.8,593.6 L495.3,593.9 L494.7,594.2 L494.1,594.5" stroke-width="1.80" stroke="#fff" stroke-linejoin="round"/>
<path d="M557.9,706.6 L557.3,706.9 L556.7,707.2 L556.1,707.5 L555.6,707.8 L555.0,708.1 L554.4,708.3 L553.8,708.6 L553.3,708.9 L552.7,709.2 L552.1,709.5" stroke-width="4.00" stroke-linejoin="round"/><path d="M557.9,706.6 L557.3,706.9 L556.7,707.2 L556.1,707.5 L555.6,707.8 L555.0,708.1 L554.4,708.3 L553.8,708.6 L553.3,708.9 L552.7,709.2 L552.1,709.5" stroke-width="1.80" stroke="#fff" stroke-linejoin="round"/>
<path d="M508.6,587.2 L508.1,587.5 L507.5,587.8 L506.9,588.1 L506.3,588.4 L505.8,588.6 L505.2,588.9 L504.6,589.2 L504.0,589.5 L503.5,589.8 L502.9,590.1" stroke-width="4.00" stroke-linejoin="round"/><path d="M508.6,587.2 L508.1,587.5 L507.5,587.8 L506.9,588.1 L506.3,588.4 L505.8,588.6 L505.2,588.9 L504.6,589.2 L504.0,589.5 L503.5,589.8 L502.9,590.1" stroke-width="1.80" stroke="#fff" stroke-linejoin="round"/>
<path d="M566.6,702.2 L566.1,702.5 L565.5,702.8 L564.9,703.1 L564.3,703.4 L563.8,703.6 L563.2,703.9 L562.6,704.2 L562.0,704.5 L561.5,704.8 L560.9,705.1" stroke-width="4.00" stroke-linejoin="round"/><path d="M566.6,702.2 L566.1,702.5 L565.5,702.8 L564.9,703.1 L564.3,703.4 L563.8,703.6 L563.2,703.9 L562.6,704.2 L562.0,704.5 L561.5,704.8 L560.9,705.1" stroke-width="1.80" stroke="#fff" stroke-linejoin="round"/>
<path d="M474.1,682.4 L473.6,682.7 L473.0,683.0 L472.4,683.3 L471.8,683.5 L471.3,683.8 L470.7,684.1 L470.1,684.4 L469.5,684.7 L469.0,685.0 L468.4,685.3" stroke-width="4.00" stroke-linejoin="round"/><path d="M474.1,682.4 L473.6,682.7 L473.0,683.0 L472.4,683.3 L471.8,683.5 L471.3,683.8 L470.7,684.1 L470.1,684.4 L469.5,684.7 L469.0,685.0 L468.4,685.3" stroke-width="1.80" stroke="#fff" stroke-linejoin="round"/>
<path d="M469.6,673.3 L469.0,673.6 L468.4,673.9 L467.9,674.2 L467.3,674.5 L466.7,674.8 L466.1,675.1 L465.6,675.4 L465.0,675.7 L464.4,675.9 L463.8,676.2" stroke-width="4.00" stroke-linejoin="round"/><path d="M469.6,673.3 L469.0,673.6 L468.4,673.9 L467.9,674.2 L467.3,674.5 L466.7,674.8 L466.1,675.1 L465.6,675.4 L465.0,675.7 L464.4,675.9 L463.8,676.2" stroke-width="1.80" stroke="#fff" stroke-linejoin="round"/>
<path d="M547.4,584.8 L546.8,585.0 L546.2,585.3 L545.6,585.6 L545.1,585.9 L544.5,586.2 L543.9,586.5 L543.3,586.8 L542.8,587.1 L542.2,587.4 L541.6,587.7" stroke-width="4.00" stroke-linejoin="round"/><path d="M547.4,584.8 L546.8,585.0 L546.2,585.3 L545.6,585.6 L545.1,585.9 L544.5,586.2 L543.9,586.5 L543.3,586.8 L542.8,587.1 L542.2,587.4 L541.6,587.7" stroke-width="1.80" stroke="#fff" stroke-linejoin="round"/>
<path d="M591.6,672.5 L591.0,672.8 L590.5,673.1 L589.9,673.3 L589.3,673.6 L588.7,673.9 L588.2,674.2 L587.6,674.5 L587.0,674.8 L586.4,675.1 L585.9,675.4" stroke-width="4.00" stroke-linejoin="round"/><path d="M591.6,672.5 L591.0,672.8 L590.5,673.1 L589.9,673.3 L589.3,673.6 L588.7,673.9 L588.2,674.2 L587.6,674.5 L587.0,674.8 L586.4,675.1 L585.9,675.4" stroke-width="1.80" stroke="#fff" stroke-linejoin="round"/>
<path d="M504.0,708.7 L503.4,709.0 L502.8,709.2 L502.2,709.5 L501.7,709.8 L501.1,710.1 L500.5,710.4 L499.9,710.7 L499.4,711.0 L498.8,711.3 L498.2,711.6" stroke-width="4.00" stroke-linejoin="round"/><path d="M504.0,708.7 L503.4,709.0 L502.8,709.2 L502.2,709.5 L501.7,709.8 L501.1,710.1 L500.5,710.4 L499.9,710.7 L499.4,711.0 L498.8,711.3 L498.2,711.6" stroke-width="1.80" stroke="#fff" stroke-linejoin="round"/>
<path d="M466.2,633.7 L465.6,634.0 L465.0,634.3 L464.4,634.6 L463.9,634.9 L463.3,635.2 L462.7,635.5 L462.1,635.8 L461.6,636.1 L461.0,636.4 L460.4,636.6" stroke-width="4.00" stroke-linejoin="round"/><path d="M466.2,633.7 L465.6,634.0 L465.0,634.3 L464.4,634.6 L463.9,634.9 L463.3,635.2 L462.7,635.5 L462.1,635.8 L461.6,636.1 L461.0,636.4 L460.4,636.6" stroke-width="1.80" stroke="#fff" stroke-linejoin="round"/>
<path d="M556.8,588.0 L556.2,588.3 L555.6,588.6 L555.1,588.9 L554.5,589.2 L553.9,589.5 L553.3,589.8 L552.8,590.1 L552.2,590.4 L551.6,590.6 L551.0,590.9" stroke-width="4.00" stroke-linejoin="round"/><path d="M556.8,588.0 L556.2,588.3 L555.6,588.6 L555.1,588.9 L554.5,589.2 L553.9,589.5 L553.3,589.8 L552.8,590.1 L552.2,590.4 L551.6,590.6 L551.0,590.9" stroke-width="1.80" stroke="#fff" stroke-linejoin="round"/>
<path d="M594.6,663.0 L594.0,663.2 L593.4,663.5 L592.9,663.8 L592.3,664.1 L591.7,664.4 L591.1,664.7 L590.6,665.0 L590.0,665.3 L589.4,665.6 L588.8,665.9" stroke-width="4.00" stroke-linejoin="round"/><path d="M594.6,663.0 L594.0,663.2 L593.4,663.5 L592.9,663.8 L592.3,664.1 L591.7,664.4 L591.1,664.7 L590.6,665.0 L590.0,665.3 L589.4,665.6 L588.8,665.9" stroke-width="1.80" stroke="#fff" stroke-linejoin="round"/>
<path d="M469.1,624.2 L468.6,624.5 L468.0,624.8 L467.4,625.1 L466.8,625.4 L466.3,625.7 L465.7,626.0 L465.1,626.3 L464.5,626.5 L464.0,626.8 L463.4,627.1" stroke-width="4.00" stroke-linejoin="round"/><path d="M469.1,624.2 L468.6,624.5 L468.0,624.8 L467.4,625.1 L466.8,625.4 L466.3,625.7 L465.7,626.0 L465.1,626.3 L464.5,626.5 L464.0,626.8 L463.4,627.1" stroke-width="1.80" stroke="#fff" stroke-linejoin="round"/>
<path d="M513.4,711.9 L512.8,712.2 L512.2,712.5 L511.7,712.8 L511.1,713.1 L510.5,713.4 L509.9,713.7 L509.4,714.0 L508.8,714.3 L508.2,714.6 L507.6,714.8" stroke-width="4.00" stroke-linejoin="round"/><path d="M513.4,711.9 L512.8,712.2 L512.2,712.5 L511.7,712.8 L511.1,713.1 L510.5,713.4 L509.9,713.7 L509.4,714.0 L508.8,714.3 L508.2,714.6 L507.6,714.8" stroke-width="1.80" stroke="#fff" stroke-linejoin="round"/>
<path d="M586.6,614.3 L586.0,614.6 L585.5,614.9 L584.9,615.2 L584.3,615.5 L583.7,615.8 L583.2,616.1 L582.6,616.3 L582.0,616.6 L581.4,616.9 L580.9,617.2" stroke-width="4.00" stroke-linejoin="round"/><path d="M586.6,614.3 L586.0,614.6 L585.5,614.9 L584.9,615.2 L584.3,615.5 L583.7,615.8 L583.2,616.1 L582.6,616.3 L582.0,616.6 L581.4,616.9 L580.9,617.2" stroke-width="1.80" stroke="#fff" stroke-linejoin="round"/>
<path d="M591.2,623.4 L590.6,623.7 L590.0,623.9 L589.4,624.2 L588.9,624.5 L588.3,624.8 L587.7,625.1 L587.1,625.4 L586.6,625.7 L586.0,626.0 L585.4,626.3" stroke-width="4.00" stroke-linejoin="round"/><path d="M591.2,623.4 L590.6,623.7 L590.0,623.9 L589.4,624.2 L588.9,624.5 L588.3,624.8 L587.7,625.1 L587.1,625.4 L586.6,625.7 L586.0,626.0 L585.4,626.3" stroke-width="1.80" stroke="#fff" stroke-linejoin="round"/>
<path d="M494.1,594.5 L493.5,594.8 L493.0,595.1 L492.4,595.4 L491.8,595.7 L491.2,596.0 L490.7,596.2 L490.1,596.5 L489.5,596.8 L488.9,597.1 L488.4,597.4" stroke-width="4.00" stroke-linejoin="round"/><path d="M494.1,594.5 L493.5,594.8 L493.0,595.1 L492.4,595.4 L491.8,595.7 L491.2,596.0 L490.7,596.2 L490.1,596.5 L489.5,596.8 L488.9,597.1 L488.4,597.4" stroke-width="1.80" stroke="#fff" stroke-linejoin="round"/>
<path d="M552.1,709.5 L551.5,709.8 L551.0,710.1 L550.4,710.4 L549.8,710.7 L549.2,711.0 L548.7,711.2 L548.1,711.5 L547.5,711.8 L546.9,712.1 L546.4,712.4" stroke-width="4.00" stroke-linejoin="round"/><path d="M552.1,709.5 L551.5,709.8 L551.0,710.1 L550.4,710.4 L549.8,710.7 L549.2,711.0 L548.7,711.2 L548.1,711.5 L547.5,711.8 L546.9,712.1 L546.4,712.4" stroke-width="1.80" stroke="#fff" stroke-linejoin="round"/>
<path d="M502.9,590.1 L502.3,590.4 L501.7,590.7 L501.2,591.0 L500.6,591.3 L500.0,591.5 L499.4,591.8 L498.9,592.1 L498.3,592.4 L497.7,592.7 L497.1,593.0" stroke-width="4.00" stroke-linejoin="round"/><path d="M502.9,590.1 L502.3,590.4 L501.7,590.7 L501.2,591.0 L500.6,591.3 L500.0,591.5 L499.4,591.8 L498.9,592.1 L498.3,592.4 L497.7,592.7 L497.1,593.0" stroke-width="1.80" stroke="#fff" stroke-linejoin="round"/>
<path d="M560.9,705.1 L560.3,705.4 L559.7,705.7 L559.2,706.0 L558.6,706.3 L558.0,706.5 L557.4,706.8 L556.9,707.1 L556.3,707.4 L555.7,707.7 L555.1,708.0" stroke-width="4.00" stroke-linejoin="round"/><path d="M560.9,705.1 L560.3,705.4 L559.7,705.7 L559.2,706.0 L558.6,706.3 L558.0,706.5 L557.4,706.8 L556.9,707.1 L556.3,707.4 L555.7,707.7 L555.1,708.0" stroke-width="1.80" stroke="#fff" stroke-linejoin="round"/>
<path d="M468.4,685.3 L467.8,685.6 L467.2,685.9 L466.7,686.2 L466.1,686.4 L465.7,686.6 L465.7,686.6 L466.1,686.3 L467.0,685.6 L468.9,684.4 L475.3,680.5" stroke-width="4.00" stroke-linejoin="round"/><path d="M468.4,685.3 L467.8,685.6 L467.2,685.9 L466.7,686.2 L466.1,686.4 L465.7,686.6 L465.7,686.6 L466.1,686.3 L467.0,685.6 L468.9,684.4 L475.3,680.5" stroke-width="1.80" stroke="#fff" stroke-linejoin="round"/>
<path d="M463.8,676.2 L463.3,676.5 L462.7,676.8 L462.1,677.1 L461.5,677.4 L461.1,677.6 L461.2,677.7 L461.6,677.5 L462.7,677.1 L464.8,676.4 L471.8,673.6" stroke-width="4.00" stroke-linejoin="round"/><path d="M463.8,676.2 L463.3,676.5 L462.7,676.8 L462.1,677.1 L461.5,677.4 L461.1,677.6 L461.2,677.7 L461.6,677.5 L462.7,677.1 L464.8,676.4 L471.8,673.6" stroke-width="1.80" stroke="#fff" stroke-linejoin="round"/>
<path d="M541.6,587.7 L541.0,587.9 L540.5,588.2 L539.9,588.5 L539.3,588.8 L538.7,589.1 L538.2,589.4 L537.6,589.7 L537.0,590.0 L536.4,590.3 L535.9,590.6" stroke-width="4.00" stroke-linejoin="round"/><path d="M541.6,587.7 L541.0,587.9 L540.5,588.2 L539.9,588.5 L539.3,588.8 L538.7,589.1 L538.2,589.4 L537.6,589.7 L537.0,590.0 L536.4,590.3 L535.9,590.6" stroke-width="1.80" stroke="#fff" stroke-linejoin="round"/>
<path d="M585.9,675.4 L585.3,675.7 L584.7,676.0 L584.1,676.2 L583.6,676.5 L583.0,676.8 L582.4,677.1 L581.8,677.4 L581.3,677.7 L580.7,678.0 L580.1,678.3" stroke-width="4.00" stroke-linejoin="round"/><path d="M585.9,675.4 L585.3,675.7 L584.7,676.0 L584.1,676.2 L583.6,676.5 L583.0,676.8 L582.4,677.1 L581.8,677.4 L581.3,677.7 L580.7,678.0 L580.1,678.3" stroke-width="1.80" stroke="#fff" stroke-linejoin="round"/>
<path d="M551.0,590.9 L550.5,591.2 L549.9,591.5 L549.3,591.8 L548.7,592.1 L548.2,592.4 L547.6,592.7 L547.0,593.0 L546.4,593.3 L545.9,593.5 L545.3,593.8" stroke-width="4.00" stroke-linejoin="round"/><path d="M551.0,590.9 L550.5,591.2 L549.9,591.5 L549.3,591.8 L548.7,592.1 L548.2,592.4 L547.6,592.7 L547.0,593.0 L546.4,593.3 L545.9,593.5 L545.3,593.8" stroke-width="1.80" stroke="#fff" stroke-linejoin="round"/>
<path d="M588.8,665.9 L588.3,666.1 L587.7,666.4 L587.1,666.7 L586.5,667.0 L586.0,667.3 L585.4,667.6 L584.8,667.9 L584.2,668.2 L583.7,668.5 L583.1,668.8" stroke-width="4.00" stroke-linejoin="round"/><path d="M588.8,665.9 L588.3,666.1 L587.7,666.4 L587.1,666.7 L586.5,667.0 L586.0,667.3 L585.4,667.6 L584.8,667.9 L584.2,668.2 L583.7,668.5 L583.1,668.8" stroke-width="1.80" stroke="#fff" stroke-linejoin="round"/>
<path d="M498.2,711.6 L497.6,711.9 L497.1,712.1 L496.5,712.4 L495.9,712.7 L495.4,712.8 L495.1,712.5 L494.9,711.7 L495.0,710.3 L495.5,707.9 L498.0,700.5" stroke-width="4.00" stroke-linejoin="round"/><path d="M498.2,711.6 L497.6,711.9 L497.1,712.1 L496.5,712.4 L495.9,712.7 L495.4,712.8 L495.1,712.5 L494.9,711.7 L495.0,710.3 L495.5,707.9 L498.0,700.5" stroke-width="1.80" stroke="#fff" stroke-linejoin="round"/>
<path d="M460.4,636.6 L459.8,636.9 L459.3,637.2 L458.7,637.5 L458.1,637.8 L457.7,638.1 L457.8,638.6 L458.3,639.2 L459.5,639.9 L461.7,641.0 L469.2,643.3" stroke-width="4.00" stroke-linejoin="round"/><path d="M460.4,636.6 L459.8,636.9 L459.3,637.2 L458.7,637.5 L458.1,637.8 L457.7,638.1 L457.8,638.6 L458.3,639.2 L459.5,639.9 L461.7,641.0 L469.2,643.3" stroke-width="1.80" stroke="#fff" stroke-linejoin="round"/>
<path d="M507.6,714.8 L507.1,715.1 L506.5,715.4 L505.9,715.7 L505.3,716.0 L504.8,716.1 L504.4,715.7 L504.0,714.9 L503.9,713.4 L503.9,710.9 L505.2,703.0" stroke-width="4.00" stroke-linejoin="round"/><path d="M507.6,714.8 L507.1,715.1 L506.5,715.4 L505.9,715.7 L505.3,716.0 L504.8,716.1 L504.4,715.7 L504.0,714.9 L503.9,713.4 L503.9,710.9 L505.2,703.0" stroke-width="1.80" stroke="#fff" stroke-linejoin="round"/>
<path d="M463.4,627.1 L462.8,627.4 L462.2,627.7 L461.7,628.0 L461.1,628.3 L460.7,628.7 L460.7,629.2 L461.2,630.0 L462.3,631.0 L464.4,632.4 L471.5,636.1" stroke-width="4.00" stroke-linejoin="round"/><path d="M463.4,627.1 L462.8,627.4 L462.2,627.7 L461.7,628.0 L461.1,628.3 L460.7,628.7 L460.7,629.2 L461.2,630.0 L462.3,631.0 L464.4,632.4 L471.5,636.1" stroke-width="1.80" stroke="#fff" stroke-linejoin="round"/>
<path d="M580.9,617.2 L580.3,617.5 L579.7,617.8 L579.1,618.1 L578.6,618.4 L578.0,618.7 L577.4,619.0 L576.8,619.2 L576.3,619.5 L575.7,619.8 L575.1,620.1" stroke-width="4.00" stroke-linejoin="round"/><path d="M580.9,617.2 L580.3,617.5 L579.7,617.8 L579.1,618.1 L578.6,618.4 L578.0,618.7 L577.4,619.0 L576.8,619.2 L576.3,619.5 L575.7,619.8 L575.1,620.1" stroke-width="1.80" stroke="#fff" stroke-linejoin="round"/>
<path d="M585.4,626.3 L584.8,626.6 L584.3,626.8 L583.7,627.1 L583.1,627.4 L582.5,627.7 L582.0,628.0 L581.4,628.3 L580.8,628.6 L580.2,628.9 L579.7,629.2" stroke-width="4.00" stroke-linejoin="round"/><path d="M585.4,626.3 L584.8,626.6 L584.3,626.8 L583.7,627.1 L583.1,627.4 L582.5,627.7 L582.0,628.0 L581.4,628.3 L580.8,628.6 L580.2,628.9 L579.7,629.2" stroke-width="1.80" stroke="#fff" stroke-linejoin="round"/>
<path d="M488.4,597.4 L487.8,597.7 L487.2,598.0 L486.6,598.3 L486.1,598.6 L485.6,599.0 L485.4,599.9 L485.4,601.2 L485.8,603.1 L486.7,605.9 L490.5,613.4" stroke-width="4.00" stroke-linejoin="round"/><path d="M488.4,597.4 L487.8,597.7 L487.2,598.0 L486.6,598.3 L486.1,598.6 L485.6,599.0 L485.4,599.9 L485.4,601.2 L485.8,603.1 L486.7,605.9 L490.5,613.4" stroke-width="1.80" stroke="#fff" stroke-linejoin="round"/>
<path d="M546.4,712.4 L545.8,712.7 L545.2,713.0 L544.6,713.3 L544.1,713.6 L543.4,713.7 L542.6,713.3 L541.6,712.5 L540.3,711.1 L538.6,708.7 L534.8,701.2" stroke-width="4.00" stroke-linejoin="round"/><path d="M546.4,712.4 L545.8,712.7 L545.2,713.0 L544.6,713.3 L544.1,713.6 L543.4,713.7 L542.6,713.3 L541.6,712.5 L540.3,711.1 L538.6,708.7 L534.8,701.2" stroke-width="1.80" stroke="#fff" stroke-linejoin="round"/>
<path d="M490.2,696.2 L486.8,693.7 L483.6,690.8 L480.6,687.7 L477.9,684.4 L475.5,680.8 L473.4,677.1" stroke-width="4.00" stroke-linejoin="round"/><path d="M490.2,696.2 L486.8,693.7 L483.6,690.8 L480.6,687.7 L477.9,684.4 L475.5,680.8 L473.4,677.1" stroke-width="1.80" stroke="#fff" stroke-linejoin="round"/>
<path d="M473.4,677.1 L471.6,673.2 L470.2,669.1 L469.1,665.0 L468.4,660.7 L468.0,656.5 L468.0,652.2" stroke-width="4.00" stroke-linejoin="round"/><path d="M473.4,677.1 L471.6,673.2 L470.2,669.1 L469.1,665.0 L468.4,660.7 L468.0,656.5 L468.0,652.2" stroke-width="1.80" stroke="#fff" stroke-linejoin="round"/>
<path d="M497.1,593.0 L496.6,593.3 L496.0,593.6 L495.4,593.9 L494.8,594.2 L494.3,594.6 L494.0,595.5 L493.9,596.9 L494.0,598.9 L494.6,601.9 L497.2,610.0" stroke-width="4.00" stroke-linejoin="round"/><path d="M497.1,593.0 L496.6,593.3 L496.0,593.6 L495.4,593.9 L494.8,594.2 L494.3,594.6 L494.0,595.5 L493.9,596.9 L494.0,598.9 L494.6,601.9 L497.2,610.0" stroke-width="1.80" stroke="#fff" stroke-linejoin="round"/>
<path d="M555.1,708.0 L554.6,708.3 L554.0,708.6 L553.4,708.9 L552.8,709.2 L552.1,709.3 L551.2,709.0 L550.0,708.3 L548.5,707.0 L546.4,704.7 L541.5,697.8" stroke-width="4.00" stroke-linejoin="round"/><path d="M555.1,708.0 L554.6,708.3 L554.0,708.6 L553.4,708.9 L552.8,709.2 L552.1,709.3 L551.2,709.0 L550.0,708.3 L548.5,707.0 L546.4,704.7 L541.5,697.8" stroke-width="1.80" stroke="#fff" stroke-linejoin="round"/>
<path d="M513.9,704.5 L509.8,704.0 L505.6,703.1 L501.6,701.9 L497.6,700.3 L493.8,698.4 L490.2,696.2" stroke-width="4.00" stroke-linejoin="round"/><path d="M513.9,704.5 L509.8,704.0 L505.6,703.1 L501.6,701.9 L497.6,700.3 L493.8,698.4 L490.2,696.2" stroke-width="1.80" stroke="#fff" stroke-linejoin="round"/>
<path d="M468.0,652.2 L468.4,647.9 L469.1,643.8 L470.2,639.7 L471.6,635.7 L473.4,631.9 L475.5,628.2" stroke-width="4.00" stroke-linejoin="round"/><path d="M468.0,652.2 L468.4,647.9 L469.1,643.8 L470.2,639.7 L471.6,635.7 L473.4,631.9 L475.5,628.2" stroke-width="1.80" stroke="#fff" stroke-linejoin="round"/>
<path d="M538.2,699.6 L534.4,701.3 L530.5,702.7 L526.4,703.7 L522.3,704.3 L518.1,704.6 L513.9,704.5" stroke-width="4.00" stroke-linejoin="round"/><path d="M538.2,699.6 L534.4,701.3 L530.5,702.7 L526.4,703.7 L522.3,704.3 L518.1,704.6 L513.9,704.5" stroke-width="1.80" stroke="#fff" stroke-linejoin="round"/>
<path d="M475.5,628.2 L477.9,624.8 L480.6,621.6 L483.5,618.6 L486.7,616.0 L490.2,613.6 L493.8,611.6" stroke-width="4.00" stroke-linejoin="round"/><path d="M475.5,628.2 L477.9,624.8 L480.6,621.6 L483.5,618.6 L486.7,616.0 L490.2,613.6 L493.8,611.6" stroke-width="1.80" stroke="#fff" stroke-linejoin="round"/>
<path d="M535.9,590.6 L535.3,590.8 L534.7,591.1 L534.1,591.4 L533.6,591.7 L533.0,592.2 L532.2,593.1 L531.4,594.6 L530.4,596.6 L529.2,599.8 L526.8,608.2" stroke-width="4.00" stroke-linejoin="round"/><path d="M535.9,590.6 L535.3,590.8 L534.7,591.1 L534.1,591.4 L533.6,591.7 L533.0,592.2 L532.2,593.1 L531.4,594.6 L530.4,596.6 L529.2,599.8 L526.8,608.2" stroke-width="1.80" stroke="#fff" stroke-linejoin="round"/>
<path d="M580.1,678.3 L579.5,678.6 L579.0,678.9 L578.4,679.1 L577.8,679.4 L577.0,679.6 L575.9,679.7 L574.2,679.5 L572.0,679.1 L568.8,678.2 L560.5,675.1" stroke-width="4.00" stroke-linejoin="round"/><path d="M580.1,678.3 L579.5,678.6 L579.0,678.9 L578.4,679.1 L577.8,679.4 L577.0,679.6 L575.9,679.7 L574.2,679.5 L572.0,679.1 L568.8,678.2 L560.5,675.1" stroke-width="1.80" stroke="#fff" stroke-linejoin="round"/>
<path d="M545.3,593.8 L544.7,594.1 L544.1,594.4 L543.6,594.7 L543.0,595.0 L542.3,595.5 L541.5,596.4 L540.5,597.7 L539.3,599.7 L537.6,602.7 L534.0,610.7" stroke-width="4.00" stroke-linejoin="round"/><path d="M545.3,593.8 L544.7,594.1 L544.1,594.4 L543.6,594.7 L543.0,595.0 L542.3,595.5 L541.5,596.4 L540.5,597.7 L539.3,599.7 L537.6,602.7 L534.0,610.7" stroke-width="1.80" stroke="#fff" stroke-linejoin="round"/>
<path d="M583.1,668.8 L582.5,669.0 L581.9,669.3 L581.4,669.6 L580.8,669.9 L580.0,670.2 L578.8,670.3 L577.1,670.3 L574.8,670.1 L571.4,669.7 L562.8,667.9" stroke-width="4.00" stroke-linejoin="round"/><path d="M583.1,668.8 L582.5,669.0 L581.9,669.3 L581.4,669.6 L580.8,669.9 L580.0,670.2 L578.8,670.3 L577.1,670.3 L574.8,670.1 L571.4,669.7 L562.8,667.9" stroke-width="1.80" stroke="#fff" stroke-linejoin="round"/>
<path d="M493.8,611.6 L497.6,609.9 L501.5,608.5 L505.6,607.5 L509.7,606.9 L513.9,606.6 L518.1,606.7" stroke-width="4.00" stroke-linejoin="round"/><path d="M493.8,611.6 L497.6,609.9 L501.5,608.5 L505.6,607.5 L509.7,606.9 L513.9,606.6 L518.1,606.7" stroke-width="1.80" stroke="#fff" stroke-linejoin="round"/>
<path d="M556.5,683.0 L554.1,686.4 L551.4,689.6 L548.5,692.6 L545.3,695.2 L541.8,697.6 L538.2,699.6" stroke-width="4.00" stroke-linejoin="round"/><path d="M556.5,683.0 L554.1,686.4 L551.4,689.6 L548.5,692.6 L545.3,695.2 L541.8,697.6 L538.2,699.6" stroke-width="1.80" stroke="#fff" stroke-linejoin="round"/>
<path d="M575.1,620.1 L574.5,620.4 L574.0,620.7 L573.4,621.0 L572.8,621.3 L572.1,621.7 L570.9,622.3 L569.4,623.2 L567.3,624.4 L564.3,626.2 L556.7,630.7" stroke-width="4.00" stroke-linejoin="round"/><path d="M575.1,620.1 L574.5,620.4 L574.0,620.7 L573.4,621.0 L572.8,621.3 L572.1,621.7 L570.9,622.3 L569.4,623.2 L567.3,624.4 L564.3,626.2 L556.7,630.7" stroke-width="1.80" stroke="#fff" stroke-linejoin="round"/>
<path d="M579.7,629.2 L579.1,629.5 L578.5,629.7 L577.9,630.0 L577.4,630.3 L576.6,630.7 L575.4,631.2 L573.8,631.9 L571.6,632.9 L568.4,634.3 L560.2,637.6" stroke-width="4.00" stroke-linejoin="round"/><path d="M579.7,629.2 L579.1,629.5 L578.5,629.7 L577.9,630.0 L577.4,630.3 L576.6,630.7 L575.4,631.2 L573.8,631.9 L571.6,632.9 L568.4,634.3 L560.2,637.6" stroke-width="1.80" stroke="#fff" stroke-linejoin="round"/>
<path d="M518.1,606.7 L522.2,607.2 L526.4,608.1 L530.4,609.3 L534.4,610.9 L538.2,612.8 L541.8,615.0" stroke-width="4.00" stroke-linejoin="round"/><path d="M518.1,606.7 L522.2,607.2 L526.4,608.1 L530.4,609.3 L534.4,610.9 L538.2,612.8 L541.8,615.0" stroke-width="1.80" stroke="#fff" stroke-linejoin="round"/>
<path d="M564.0,659.0 L563.6,663.3 L562.9,667.4 L561.8,671.5 L560.4,675.5 L558.6,679.3 L556.5,683.0" stroke-width="4.00" stroke-linejoin="round"/><path d="M564.0,659.0 L563.6,663.3 L562.9,667.4 L561.8,671.5 L560.4,675.5 L558.6,679.3 L556.5,683.0" stroke-width="1.80" stroke="#fff" stroke-linejoin="round"/>
<path d="M541.8,615.0 L545.2,617.5 L548.4,620.4 L551.4,623.5 L554.1,626.8 L556.5,630.4 L558.6,634.1" stroke-width="4.00" stroke-linejoin="round"/><path d="M541.8,615.0 L545.2,617.5 L548.4,620.4 L551.4,623.5 L554.1,626.8 L556.5,630.4 L558.6,634.1" stroke-width="1.80" stroke="#fff" stroke-linejoin="round"/>
<path d="M558.6,634.1 L560.4,638.0 L561.8,642.1 L562.9,646.2 L563.6,650.5 L564.0,654.7 L564.0,659.0" stroke-width="4.00" stroke-linejoin="round"/><path d="M558.6,634.1 L560.4,638.0 L561.8,642.1 L562.9,646.2 L563.6,650.5 L564.0,654.7 L564.0,659.0" stroke-width="1.80" stroke="#fff" stroke-linejoin="round"/>
<path d="M542.0,900.4 L540.8,896.7 L539.3,893.1 L537.5,889.5 L535.5,886.0 L533.2,882.7 L530.7,879.5" stroke-width="4.00" stroke-linejoin="round"/><path d="M542.0,900.4 L540.8,896.7 L539.3,893.1 L537.5,889.5 L535.5,886.0 L533.2,882.7 L530.7,879.5" stroke-width="1.80" stroke="#fff" stroke-linejoin="round"/>
<path d="M530.7,879.5 L528.0,876.5 L525.1,873.7 L522.0,871.2 L518.8,868.8 L515.5,866.8 L512.0,865.0" stroke-width="4.00" stroke-linejoin="round"/><path d="M530.7,879.5 L528.0,876.5 L525.1,873.7 L522.0,871.2 L518.8,868.8 L515.5,866.8 L512.0,865.0" stroke-width="1.80" stroke="#fff" stroke-linejoin="round"/>
<path d="M531.6,846.4 L530.5,847.3 L529.3,848.3 L528.2,849.3 L527.0,850.2 L525.8,851.4 L524.5,852.8 L523.1,854.6 L521.4,856.9 L519.5,860.0 L516.1,867.2" stroke-width="4.00" stroke-linejoin="round"/><path d="M531.6,846.4 L530.5,847.3 L529.3,848.3 L528.2,849.3 L527.0,850.2 L525.8,851.4 L524.5,852.8 L523.1,854.6 L521.4,856.9 L519.5,860.0 L516.1,867.2" stroke-width="1.80" stroke="#fff" stroke-linejoin="round"/>
<path d="M563.6,884.1 L562.4,885.1 L561.3,886.1 L560.1,887.0 L559.0,888.0 L557.7,889.0 L556.1,890.0 L554.0,891.2 L551.5,892.4 L548.1,893.8 L540.5,896.0" stroke-width="4.00" stroke-linejoin="round"/><path d="M563.6,884.1 L562.4,885.1 L561.3,886.1 L560.1,887.0 L559.0,888.0 L557.7,889.0 L556.1,890.0 L554.0,891.2 L551.5,892.4 L548.1,893.8 L540.5,896.0" stroke-width="1.80" stroke="#fff" stroke-linejoin="round"/>
<path d="M512.0,865.0 L508.5,863.5 L505.0,862.3 L501.4,861.4 L497.9,860.8 L494.3,860.5 L490.9,860.6" stroke-width="4.00" stroke-linejoin="round"/><path d="M512.0,865.0 L508.5,863.5 L505.0,862.3 L501.4,861.4 L497.9,860.8 L494.3,860.5 L490.9,860.6" stroke-width="1.80" stroke="#fff" stroke-linejoin="round"/>
<path d="M542.8,921.9 L543.5,918.6 L543.8,915.0 L543.8,911.4 L543.5,907.8 L542.9,904.1 L542.0,900.4" stroke-width="4.00" stroke-linejoin="round"/><path d="M542.8,921.9 L543.5,918.6 L543.8,915.0 L543.8,911.4 L543.5,907.8 L542.9,904.1 L542.0,900.4" stroke-width="1.80" stroke="#fff" stroke-linejoin="round"/>
<path d="M566.9,895.8 L565.7,896.7 L564.6,897.7 L563.5,898.6 L562.3,899.6 L561.0,900.6 L559.3,901.5 L557.2,902.4 L554.6,903.3 L551.1,904.2 L543.0,904.8" stroke-width="4.00" stroke-linejoin="round"/><path d="M566.9,895.8 L565.7,896.7 L564.6,897.7 L563.5,898.6 L562.3,899.6 L561.0,900.6 L559.3,901.5 L557.2,902.4 L554.6,903.3 L551.1,904.2 L543.0,904.8" stroke-width="1.80" stroke="#fff" stroke-linejoin="round"/>
<path d="M520.7,841.2 L519.6,842.2 L518.4,843.1 L517.3,844.1 L516.1,845.1 L515.0,846.2 L513.8,847.7 L512.5,849.6 L511.2,852.1 L509.8,855.4 L507.8,863.2" stroke-width="4.00" stroke-linejoin="round"/><path d="M520.7,841.2 L519.6,842.2 L518.4,843.1 L517.3,844.1 L516.1,845.1 L515.0,846.2 L513.8,847.7 L512.5,849.6 L511.2,852.1 L509.8,855.4 L507.8,863.2" stroke-width="1.80" stroke="#fff" stroke-linejoin="round"/>
<path d="M533.0,938.4 L535.3,936.2 L537.3,933.8 L539.1,931.1 L540.7,928.3 L541.9,925.2 L542.8,921.9" stroke-width="4.00" stroke-linejoin="round"/><path d="M533.0,938.4 L535.3,936.2 L537.3,933.8 L539.1,931.1 L540.7,928.3 L541.9,925.2 L542.8,921.9" stroke-width="1.80" stroke="#fff" stroke-linejoin="round"/>
<path d="M490.9,860.6 L487.5,861.0 L484.3,861.7 L481.2,862.7 L478.3,864.0 L475.6,865.7 L473.0,867.6" stroke-width="4.00" stroke-linejoin="round"/><path d="M490.9,860.6 L487.5,861.0 L484.3,861.7 L481.2,862.7 L478.3,864.0 L475.6,865.7 L473.0,867.6" stroke-width="1.80" stroke="#fff" stroke-linejoin="round"/>
<path d="M575.0,874.5 L573.8,875.4 L572.7,876.4 L571.5,877.4 L570.4,878.3 L569.3,879.3 L568.1,880.3 L567.0,881.2 L565.8,882.2 L564.7,883.2 L563.6,884.1" stroke-width="4.00" stroke-linejoin="round"/><path d="M575.0,874.5 L573.8,875.4 L572.7,876.4 L571.5,877.4 L570.4,878.3 L569.3,879.3 L568.1,880.3 L567.0,881.2 L565.8,882.2 L564.7,883.2 L563.6,884.1" stroke-width="1.80" stroke="#fff" stroke-linejoin="round"/>
<path d="M543.0,836.7 L541.9,837.7 L540.7,838.7 L539.6,839.6 L538.4,840.6 L537.3,841.6 L536.2,842.5 L535.0,843.5 L533.9,844.5 L532.7,845.4 L531.6,846.4" stroke-width="4.00" stroke-linejoin="round"/><path d="M543.0,836.7 L541.9,837.7 L540.7,838.7 L539.6,839.6 L538.4,840.6 L537.3,841.6 L536.2,842.5 L535.0,843.5 L533.9,844.5 L532.7,845.4 L531.6,846.4" stroke-width="1.80" stroke="#fff" stroke-linejoin="round"/>
<path d="M578.3,886.1 L577.1,887.1 L576.0,888.0 L574.9,889.0 L573.7,890.0 L572.6,890.9 L571.4,891.9 L570.3,892.9 L569.2,893.8 L568.0,894.8 L566.9,895.8" stroke-width="4.00" stroke-linejoin="round"/><path d="M578.3,886.1 L577.1,887.1 L576.0,888.0 L574.9,889.0 L573.7,890.0 L572.6,890.9 L571.4,891.9 L570.3,892.9 L569.2,893.8 L568.0,894.8 L566.9,895.8" stroke-width="1.80" stroke="#fff" stroke-linejoin="round"/>
<path d="M532.1,831.5 L531.0,832.5 L529.8,833.5 L528.7,834.4 L527.5,835.4 L526.4,836.4 L525.3,837.3 L524.1,838.3 L523.0,839.3 L521.8,840.2 L520.7,841.2" stroke-width="4.00" stroke-linejoin="round"/><path d="M532.1,831.5 L531.0,832.5 L529.8,833.5 L528.7,834.4 L527.5,835.4 L526.4,836.4 L525.3,837.3 L524.1,838.3 L523.0,839.3 L521.8,840.2 L520.7,841.2" stroke-width="1.80" stroke="#fff" stroke-linejoin="round"/>
<path d="M479.1,844.0 L478.0,844.9 L476.8,845.9 L475.7,846.9 L474.6,847.8 L473.5,849.0 L472.8,850.4 L472.3,852.3 L472.1,854.7 L472.6,857.9 L476.1,865.3" stroke-width="4.00" stroke-linejoin="round"/><path d="M479.1,844.0 L478.0,844.9 L476.8,845.9 L475.7,846.9 L474.6,847.8 L473.5,849.0 L472.8,850.4 L472.3,852.3 L472.1,854.7 L472.6,857.9 L476.1,865.3" stroke-width="1.80" stroke="#fff" stroke-linejoin="round"/>
<path d="M557.3,936.3 L556.1,937.3 L555.0,938.2 L553.8,939.2 L552.7,940.1 L551.4,941.0 L549.8,941.5 L547.9,941.7 L545.6,941.4 L542.5,940.4 L535.7,935.8" stroke-width="4.00" stroke-linejoin="round"/><path d="M557.3,936.3 L556.1,937.3 L555.0,938.2 L553.8,939.2 L552.7,940.1 L551.4,941.0 L549.8,941.5 L547.9,941.7 L545.6,941.4 L542.5,940.4 L535.7,935.8" stroke-width="1.80" stroke="#fff" stroke-linejoin="round"/>
<path d="M473.0,867.6 L470.7,869.8 L468.7,872.2 L466.9,874.9 L465.3,877.7 L464.1,880.8 L463.2,884.1" stroke-width="4.00" stroke-linejoin="round"/><path d="M473.0,867.6 L470.7,869.8 L468.7,872.2 L466.9,874.9 L465.3,877.7 L464.1,880.8 L463.2,884.1" stroke-width="1.80" stroke="#fff" stroke-linejoin="round"/>
<path d="M515.1,945.4 L518.5,945.0 L521.7,944.3 L524.8,943.3 L527.7,942.0 L530.4,940.3 L533.0,938.4" stroke-width="4.00" stroke-linejoin="round"/><path d="M515.1,945.4 L518.5,945.0 L521.7,944.3 L524.8,943.3 L527.7,942.0 L530.4,940.3 L533.0,938.4" stroke-width="1.80" stroke="#fff" stroke-linejoin="round"/>
<path d="M586.4,864.8 L585.2,865.8 L584.1,866.8 L582.9,867.7 L581.8,868.7 L580.7,869.7 L579.5,870.6 L578.4,871.6 L577.2,872.6 L576.1,873.5 L575.0,874.5" stroke-width="4.00" stroke-linejoin="round"/><path d="M586.4,864.8 L585.2,865.8 L584.1,866.8 L582.9,867.7 L581.8,868.7 L580.7,869.7 L579.5,870.6 L578.4,871.6 L577.2,872.6 L576.1,873.5 L575.0,874.5" stroke-width="1.80" stroke="#fff" stroke-linejoin="round"/>
<path d="M554.4,827.1 L553.3,828.0 L552.1,829.0 L551.0,830.0 L549.8,830.9 L548.7,831.9 L547.6,832.9 L546.4,833.8 L545.3,834.8 L544.1,835.8 L543.0,836.7" stroke-width="4.00" stroke-linejoin="round"/><path d="M554.4,827.1 L553.3,828.0 L552.1,829.0 L551.0,830.0 L549.8,830.9 L548.7,831.9 L547.6,832.9 L546.4,833.8 L545.3,834.8 L544.1,835.8 L543.0,836.7" stroke-width="1.80" stroke="#fff" stroke-linejoin="round"/>
<path d="M471.5,850.4 L470.4,851.4 L469.3,852.3 L468.1,853.3 L467.0,854.3 L466.0,855.4 L465.3,856.8 L464.9,858.5 L465.0,860.7 L465.8,863.6 L470.3,870.2" stroke-width="4.00" stroke-linejoin="round"/><path d="M471.5,850.4 L470.4,851.4 L469.3,852.3 L468.1,853.3 L467.0,854.3 L466.0,855.4 L465.3,856.8 L464.9,858.5 L465.0,860.7 L465.8,863.6 L470.3,870.2" stroke-width="1.80" stroke="#fff" stroke-linejoin="round"/>
<path d="M549.7,942.7 L548.5,943.7 L547.4,944.6 L546.3,945.6 L545.1,946.6 L543.9,947.4 L542.4,947.8 L540.6,947.9 L538.4,947.5 L535.7,946.2 L529.9,940.7" stroke-width="4.00" stroke-linejoin="round"/><path d="M549.7,942.7 L548.5,943.7 L547.4,944.6 L546.3,945.6 L545.1,946.6 L543.9,947.4 L542.4,947.8 L540.6,947.9 L538.4,947.5 L535.7,946.2 L529.9,940.7" stroke-width="1.80" stroke="#fff" stroke-linejoin="round"/>
<path d="M543.5,821.9 L542.4,822.9 L541.2,823.8 L540.1,824.8 L538.9,825.8 L537.8,826.7 L536.7,827.7 L535.5,828.7 L534.4,829.6 L533.2,830.6 L532.1,831.5" stroke-width="4.00" stroke-linejoin="round"/><path d="M543.5,821.9 L542.4,822.9 L541.2,823.8 L540.1,824.8 L538.9,825.8 L537.8,826.7 L536.7,827.7 L535.5,828.7 L534.4,829.6 L533.2,830.6 L532.1,831.5" stroke-width="1.80" stroke="#fff" stroke-linejoin="round"/>
<path d="M589.7,876.5 L588.5,877.4 L587.4,878.4 L586.3,879.3 L585.1,880.3 L584.0,881.3 L582.8,882.2 L581.7,883.2 L580.6,884.2 L579.4,885.1 L578.3,886.1" stroke-width="4.00" stroke-linejoin="round"/><path d="M589.7,876.5 L588.5,877.4 L587.4,878.4 L586.3,879.3 L585.1,880.3 L584.0,881.3 L582.8,882.2 L581.7,883.2 L580.6,884.2 L579.4,885.1 L578.3,886.1" stroke-width="1.80" stroke="#fff" stroke-linejoin="round"/>
<path d="M463.2,884.1 L462.5,887.4 L462.2,891.0 L462.2,894.6 L462.5,898.2 L463.1,901.9 L464.0,905.6" stroke-width="4.00" stroke-linejoin="round"/><path d="M463.2,884.1 L462.5,887.4 L462.2,891.0 L462.2,894.6 L462.5,898.2 L463.1,901.9 L464.0,905.6" stroke-width="1.80" stroke="#fff" stroke-linejoin="round"/>
<path d="M494.0,941.0 L497.5,942.5 L501.0,943.7 L504.6,944.6 L508.1,945.2 L511.7,945.5 L515.1,945.4" stroke-width="4.00" stroke-linejoin="round"/><path d="M494.0,941.0 L497.5,942.5 L501.0,943.7 L504.6,944.6 L508.1,945.2 L511.7,945.5 L515.1,945.4" stroke-width="1.80" stroke="#fff" stroke-linejoin="round"/>
<path d="M490.5,834.3 L489.4,835.3 L488.2,836.3 L487.1,837.2 L486.0,838.2 L484.8,839.2 L483.7,840.1 L482.5,841.1 L481.4,842.1 L480.3,843.0 L479.1,844.0" stroke-width="4.00" stroke-linejoin="round"/><path d="M490.5,834.3 L489.4,835.3 L488.2,836.3 L487.1,837.2 L486.0,838.2 L484.8,839.2 L483.7,840.1 L482.5,841.1 L481.4,842.1 L480.3,843.0 L479.1,844.0" stroke-width="1.80" stroke="#fff" stroke-linejoin="round"/>
<path d="M568.7,926.6 L567.5,927.6 L566.4,928.6 L565.2,929.5 L564.1,930.5 L563.0,931.5 L561.8,932.4 L560.7,933.4 L559.5,934.4 L558.4,935.3 L557.3,936.3" stroke-width="4.00" stroke-linejoin="round"/><path d="M568.7,926.6 L567.5,927.6 L566.4,928.6 L565.2,929.5 L564.1,930.5 L563.0,931.5 L561.8,932.4 L560.7,933.4 L559.5,934.4 L558.4,935.3 L557.3,936.3" stroke-width="1.80" stroke="#fff" stroke-linejoin="round"/>
<path d="M464.0,905.6 L465.2,909.3 L466.7,912.9 L468.5,916.5 L470.5,920.0 L472.8,923.3 L475.3,926.5" stroke-width="4.00" stroke-linejoin="round"/><path d="M464.0,905.6 L465.2,909.3 L466.7,912.9 L468.5,916.5 L470.5,920.0 L472.8,923.3 L475.3,926.5" stroke-width="1.80" stroke="#fff" stroke-linejoin="round"/>
<path d="M475.3,926.5 L478.0,929.5 L480.9,932.3 L484.0,934.8 L487.2,937.2 L490.5,939.2 L494.0,941.0" stroke-width="4.00" stroke-linejoin="round"/><path d="M475.3,926.5 L478.0,929.5 L480.9,932.3 L484.0,934.8 L487.2,937.2 L490.5,939.2 L494.0,941.0" stroke-width="1.80" stroke="#fff" stroke-linejoin="round"/>
<path d="M482.9,840.8 L481.8,841.7 L480.7,842.7 L479.5,843.7 L478.4,844.6 L477.2,845.6 L476.1,846.6 L475.0,847.5 L473.8,848.5 L472.7,849.4 L471.5,850.4" stroke-width="4.00" stroke-linejoin="round"/><path d="M482.9,840.8 L481.8,841.7 L480.7,842.7 L479.5,843.7 L478.4,844.6 L477.2,845.6 L476.1,846.6 L475.0,847.5 L473.8,848.5 L472.7,849.4 L471.5,850.4" stroke-width="1.80" stroke="#fff" stroke-linejoin="round"/>
<path d="M561.1,933.1 L559.9,934.0 L558.8,935.0 L557.7,936.0 L556.5,936.9 L555.4,937.9 L554.2,938.9 L553.1,939.8 L552.0,940.8 L550.8,941.8 L549.7,942.7" stroke-width="4.00" stroke-linejoin="round"/><path d="M561.1,933.1 L559.9,934.0 L558.8,935.0 L557.7,936.0 L556.5,936.9 L555.4,937.9 L554.2,938.9 L553.1,939.8 L552.0,940.8 L550.8,941.8 L549.7,942.7" stroke-width="1.80" stroke="#fff" stroke-linejoin="round"/>
<path d="M561.7,828.6 L562.8,823.4 L562.5,822.2 L561.8,821.8 L561.0,821.9 L560.0,822.4 L559.0,823.2 L557.8,824.2 L556.7,825.2 L555.5,826.1 L554.4,827.1" stroke-width="4.00" stroke-linejoin="round"/><path d="M561.7,828.6 L562.8,823.4 L562.5,822.2 L561.8,821.8 L561.0,821.9 L560.0,822.4 L559.0,823.2 L557.8,824.2 L556.7,825.2 L555.5,826.1 L554.4,827.1" stroke-width="1.80" stroke="#fff" stroke-linejoin="round"/>
<path d="M586.1,857.4 L591.4,857.1 L592.5,857.7 L592.8,858.4 L592.5,859.2 L591.9,860.0 L590.9,861.0 L589.8,861.9 L588.6,862.9 L587.5,863.9 L586.4,864.8" stroke-width="4.00" stroke-linejoin="round"/><path d="M586.1,857.4 L591.4,857.1 L592.5,857.7 L592.8,858.4 L592.5,859.2 L591.9,860.0 L590.9,861.0 L589.8,861.9 L588.6,862.9 L587.5,863.9 L586.4,864.8" stroke-width="1.80" stroke="#fff" stroke-linejoin="round"/>
<path d="M553.4,824.6 L553.1,818.7 L552.2,817.3 L551.3,816.8 L550.3,816.8 L549.2,817.2 L548.1,818.0 L546.9,819.0 L545.8,820.0 L544.6,820.9 L543.5,821.9" stroke-width="4.00" stroke-linejoin="round"/><path d="M553.4,824.6 L553.1,818.7 L552.2,817.3 L551.3,816.8 L550.3,816.8 L549.2,817.2 L548.1,818.0 L546.9,819.0 L545.8,820.0 L544.6,820.9 L543.5,821.9" stroke-width="1.80" stroke="#fff" stroke-linejoin="round"/>
<path d="M588.6,866.2 L594.4,867.5 L595.6,868.6 L596.0,869.6 L595.8,870.6 L595.2,871.6 L594.2,872.6 L593.1,873.6 L592.0,874.5 L590.8,875.5 L589.7,876.5" stroke-width="4.00" stroke-linejoin="round"/><path d="M588.6,866.2 L594.4,867.5 L595.6,868.6 L596.0,869.6 L595.8,870.6 L595.2,871.6 L594.2,872.6 L593.1,873.6 L592.0,874.5 L590.8,875.5 L589.7,876.5" stroke-width="1.80" stroke="#fff" stroke-linejoin="round"/>
<path d="M461.9,890.9 L460.8,891.9 L459.6,892.9 L458.5,893.8 L457.4,894.8 L456.4,895.8 L455.8,896.8 L455.6,897.8 L456.0,898.8 L457.2,899.9 L463.0,901.2" stroke-width="4.00" stroke-linejoin="round"/><path d="M461.9,890.9 L460.8,891.9 L459.6,892.9 L458.5,893.8 L457.4,894.8 L456.4,895.8 L455.8,896.8 L455.6,897.8 L456.0,898.8 L457.2,899.9 L463.0,901.2" stroke-width="1.80" stroke="#fff" stroke-linejoin="round"/>
<path d="M508.1,945.5 L507.0,946.5 L505.8,947.4 L504.7,948.4 L503.5,949.4 L502.4,950.2 L501.3,950.6 L500.3,950.6 L499.4,950.1 L498.5,948.7 L498.2,942.8" stroke-width="4.00" stroke-linejoin="round"/><path d="M508.1,945.5 L507.0,946.5 L505.8,947.4 L504.7,948.4 L503.5,949.4 L502.4,950.2 L501.3,950.6 L500.3,950.6 L499.4,950.1 L498.5,948.7 L498.2,942.8" stroke-width="1.80" stroke="#fff" stroke-linejoin="round"/>
<path d="M465.2,902.6 L464.1,903.5 L463.0,904.5 L461.8,905.5 L460.7,906.4 L459.7,907.4 L459.1,908.2 L458.8,909.0 L459.1,909.7 L460.2,910.3 L465.5,910.0" stroke-width="4.00" stroke-linejoin="round"/><path d="M465.2,902.6 L464.1,903.5 L463.0,904.5 L461.8,905.5 L460.7,906.4 L459.7,907.4 L459.1,908.2 L458.8,909.0 L459.1,909.7 L460.2,910.3 L465.5,910.0" stroke-width="1.80" stroke="#fff" stroke-linejoin="round"/>
<path d="M497.2,940.3 L496.1,941.3 L494.9,942.2 L493.8,943.2 L492.6,944.2 L491.6,945.0 L490.6,945.5 L489.8,945.6 L489.1,945.2 L488.8,944.0 L489.9,938.8" stroke-width="4.00" stroke-linejoin="round"/><path d="M497.2,940.3 L496.1,941.3 L494.9,942.2 L493.8,943.2 L492.6,944.2 L491.6,945.0 L490.6,945.5 L489.8,945.6 L489.1,945.2 L488.8,944.0 L489.9,938.8" stroke-width="1.80" stroke="#fff" stroke-linejoin="round"/>
<path d="M501.9,824.7 L500.8,825.6 L499.6,826.6 L498.5,827.6 L497.4,828.5 L496.2,829.5 L495.1,830.5 L493.9,831.4 L492.8,832.4 L491.7,833.4 L490.5,834.3" stroke-width="4.00" stroke-linejoin="round"/><path d="M501.9,824.7 L500.8,825.6 L499.6,826.6 L498.5,827.6 L497.4,828.5 L496.2,829.5 L495.1,830.5 L493.9,831.4 L492.8,832.4 L491.7,833.4 L490.5,834.3" stroke-width="1.80" stroke="#fff" stroke-linejoin="round"/>
<path d="M580.1,917.0 L578.9,918.0 L577.8,918.9 L576.6,919.9 L575.5,920.8 L574.4,921.8 L573.2,922.8 L572.1,923.7 L570.9,924.7 L569.8,925.7 L568.7,926.6" stroke-width="4.00" stroke-linejoin="round"/><path d="M580.1,917.0 L578.9,918.0 L577.8,918.9 L576.6,919.9 L575.5,920.8 L574.4,921.8 L573.2,922.8 L572.1,923.7 L570.9,924.7 L569.8,925.7 L568.7,926.6" stroke-width="1.80" stroke="#fff" stroke-linejoin="round"/>
<path d="M561.7,828.6 L559.7,827.4 L557.6,826.4 L555.5,825.4 L553.4,824.6" stroke-width="4.00" stroke-linejoin="round"/><path d="M561.7,828.6 L559.7,827.4 L557.6,826.4 L555.5,825.4 L553.4,824.6" stroke-width="1.80" stroke="#fff" stroke-linejoin="round"/>
<path d="M588.6,866.2 L588.2,864.0 L587.6,861.8 L586.9,859.6 L586.1,857.4" stroke-width="4.00" stroke-linejoin="round"/><path d="M588.6,866.2 L588.2,864.0 L587.6,861.8 L586.9,859.6 L586.1,857.4" stroke-width="1.80" stroke="#fff" stroke-linejoin="round"/>
<path d="M494.3,831.1 L493.2,832.1 L492.1,833.0 L490.9,834.0 L489.8,835.0 L488.6,835.9 L487.5,836.9 L486.4,837.9 L485.2,838.8 L484.1,839.8 L482.9,840.8" stroke-width="4.00" stroke-linejoin="round"/><path d="M494.3,831.1 L493.2,832.1 L492.1,833.0 L490.9,834.0 L489.8,835.0 L488.6,835.9 L487.5,836.9 L486.4,837.9 L485.2,838.8 L484.1,839.8 L482.9,840.8" stroke-width="1.80" stroke="#fff" stroke-linejoin="round"/>
<path d="M572.5,923.4 L571.3,924.4 L570.2,925.3 L569.1,926.3 L567.9,927.3 L566.8,928.2 L565.6,929.2 L564.5,930.2 L563.4,931.1 L562.2,932.1 L561.1,933.1" stroke-width="4.00" stroke-linejoin="round"/><path d="M572.5,923.4 L571.3,924.4 L570.2,925.3 L569.1,926.3 L567.9,927.3 L566.8,928.2 L565.6,929.2 L564.5,930.2 L563.4,931.1 L562.2,932.1 L561.1,933.1" stroke-width="1.80" stroke="#fff" stroke-linejoin="round"/>
<path d="M552.6,847.4 L553.6,843.2 L554.6,839.0 L555.6,834.8 L556.6,830.6 L557.6,826.4" stroke-width="4.00" stroke-linejoin="round"/><path d="M552.6,847.4 L553.6,843.2 L554.6,839.0 L555.6,834.8 L556.6,830.6 L557.6,826.4" stroke-width="1.80" stroke="#fff" stroke-linejoin="round"/>
<path d="M566.1,863.2 L570.4,862.9 L574.7,862.7 L579.0,862.4 L583.3,862.1 L587.6,861.8" stroke-width="4.00" stroke-linejoin="round"/><path d="M566.1,863.2 L570.4,862.9 L574.7,862.7 L579.0,862.4 L583.3,862.1 L587.6,861.8" stroke-width="1.80" stroke="#fff" stroke-linejoin="round"/>
<path d="M473.3,881.3 L472.2,882.3 L471.0,883.2 L469.9,884.2 L468.8,885.2 L467.6,886.1 L466.5,887.1 L465.3,888.1 L464.2,889.0 L463.1,890.0 L461.9,890.9" stroke-width="4.00" stroke-linejoin="round"/><path d="M473.3,881.3 L472.2,882.3 L471.0,883.2 L469.9,884.2 L468.8,885.2 L467.6,886.1 L466.5,887.1 L465.3,888.1 L464.2,889.0 L463.1,890.0 L461.9,890.9" stroke-width="1.80" stroke="#fff" stroke-linejoin="round"/>
<path d="M519.5,935.9 L518.4,936.8 L517.2,937.8 L516.1,938.7 L514.9,939.7 L513.8,940.7 L512.7,941.6 L511.5,942.6 L510.4,943.6 L509.2,944.5 L508.1,945.5" stroke-width="4.00" stroke-linejoin="round"/><path d="M519.5,935.9 L518.4,936.8 L517.2,937.8 L516.1,938.7 L514.9,939.7 L513.8,940.7 L512.7,941.6 L511.5,942.6 L510.4,943.6 L509.2,944.5 L508.1,945.5" stroke-width="1.80" stroke="#fff" stroke-linejoin="round"/>
<path d="M521.7,826.7 L515.9,821.2 L513.2,819.9 L511.0,819.5 L509.2,819.6 L507.7,820.0 L506.5,820.8 L505.3,821.8 L504.2,822.8 L503.1,823.7 L501.9,824.7" stroke-width="4.00" stroke-linejoin="round"/><path d="M521.7,826.7 L515.9,821.2 L513.2,819.9 L511.0,819.5 L509.2,819.6 L507.7,820.0 L506.5,820.8 L505.3,821.8 L504.2,822.8 L503.1,823.7 L501.9,824.7" stroke-width="1.80" stroke="#fff" stroke-linejoin="round"/>
<path d="M581.3,897.2 L585.8,903.8 L586.6,906.7 L586.7,908.9 L586.3,910.6 L585.6,912.0 L584.6,913.1 L583.5,914.1 L582.3,915.1 L581.2,916.0 L580.1,917.0" stroke-width="4.00" stroke-linejoin="round"/><path d="M581.3,897.2 L585.8,903.8 L586.6,906.7 L586.7,908.9 L586.3,910.6 L585.6,912.0 L584.6,913.1 L583.5,914.1 L582.3,915.1 L581.2,916.0 L580.1,917.0" stroke-width="1.80" stroke="#fff" stroke-linejoin="round"/>
<path d="M476.6,892.9 L475.5,893.9 L474.4,894.8 L473.2,895.8 L472.1,896.8 L470.9,897.7 L469.8,898.7 L468.7,899.7 L467.5,900.6 L466.4,901.6 L465.2,902.6" stroke-width="4.00" stroke-linejoin="round"/><path d="M476.6,892.9 L475.5,893.9 L474.4,894.8 L473.2,895.8 L472.1,896.8 L470.9,897.7 L469.8,898.7 L468.7,899.7 L467.5,900.6 L466.4,901.6 L465.2,902.6" stroke-width="1.80" stroke="#fff" stroke-linejoin="round"/>
<path d="M508.6,930.7 L507.5,931.6 L506.3,932.6 L505.2,933.6 L504.0,934.5 L502.9,935.5 L501.8,936.5 L500.6,937.4 L499.5,938.4 L498.3,939.4 L497.2,940.3" stroke-width="4.00" stroke-linejoin="round"/><path d="M508.6,930.7 L507.5,931.6 L506.3,932.6 L505.2,933.6 L504.0,934.5 L502.9,935.5 L501.8,936.5 L500.6,937.4 L499.5,938.4 L498.3,939.4 L497.2,940.3" stroke-width="1.80" stroke="#fff" stroke-linejoin="round"/>
<path d="M515.9,831.6 L509.1,827.0 L506.0,826.0 L503.7,825.7 L501.8,825.9 L500.2,826.4 L498.9,827.3 L497.8,828.2 L496.6,829.2 L495.5,830.1 L494.3,831.1" stroke-width="4.00" stroke-linejoin="round"/><path d="M515.9,831.6 L509.1,827.0 L506.0,826.0 L503.7,825.7 L501.8,825.9 L500.2,826.4 L498.9,827.3 L497.8,828.2 L496.6,829.2 L495.5,830.1 L494.3,831.1" stroke-width="1.80" stroke="#fff" stroke-linejoin="round"/>
<path d="M575.5,902.1 L579.0,909.5 L579.5,912.7 L579.3,915.1 L578.8,917.0 L578.1,918.4 L577.0,919.6 L575.9,920.5 L574.8,921.5 L573.6,922.5 L572.5,923.4" stroke-width="4.00" stroke-linejoin="round"/><path d="M575.5,902.1 L579.0,909.5 L579.5,912.7 L579.3,915.1 L578.8,917.0 L578.1,918.4 L577.0,919.6 L575.9,920.5 L574.8,921.5 L573.6,922.5 L572.5,923.4" stroke-width="1.80" stroke="#fff" stroke-linejoin="round"/>
<path d="M521.7,826.7 L520.1,827.8 L518.6,829.0 L517.2,830.3 L515.9,831.6" stroke-width="4.00" stroke-linejoin="round"/><path d="M521.7,826.7 L520.1,827.8 L518.6,829.0 L517.2,830.3 L515.9,831.6" stroke-width="1.80" stroke="#fff" stroke-linejoin="round"/>
<path d="M535.2,848.5 L531.9,844.6 L528.5,840.7 L525.2,836.8 L521.9,832.9 L518.6,829.0" stroke-width="4.00" stroke-linejoin="round"/><path d="M535.2,848.5 L531.9,844.6 L528.5,840.7 L525.2,836.8 L521.9,832.9 L518.6,829.0" stroke-width="1.80" stroke="#fff" stroke-linejoin="round"/>
<path d="M562.0,880.3 L565.3,884.2 L568.7,888.1 L572.0,892.0 L575.3,895.9 L578.6,899.8" stroke-width="4.00" stroke-linejoin="round"/><path d="M562.0,880.3 L565.3,884.2 L568.7,888.1 L572.0,892.0 L575.3,895.9 L578.6,899.8" stroke-width="1.80" stroke="#fff" stroke-linejoin="round"/>
<path d="M575.5,902.1 L577.1,901.0 L578.6,899.8 L580.0,898.5 L581.3,897.2" stroke-width="4.00" stroke-linejoin="round"/><path d="M575.5,902.1 L577.1,901.0 L578.6,899.8 L580.0,898.5 L581.3,897.2" stroke-width="1.80" stroke="#fff" stroke-linejoin="round"/>
<path d="M484.7,871.6 L483.6,872.6 L482.4,873.6 L481.3,874.5 L480.2,875.5 L479.0,876.5 L477.9,877.4 L476.7,878.4 L475.6,879.4 L474.5,880.3 L473.3,881.3" stroke-width="4.00" stroke-linejoin="round"/><path d="M484.7,871.6 L483.6,872.6 L482.4,873.6 L481.3,874.5 L480.2,875.5 L479.0,876.5 L477.9,877.4 L476.7,878.4 L475.6,879.4 L474.5,880.3 L473.3,881.3" stroke-width="1.80" stroke="#fff" stroke-linejoin="round"/>
<path d="M530.9,926.2 L529.8,927.2 L528.6,928.1 L527.5,929.1 L526.3,930.1 L525.2,931.0 L524.1,932.0 L522.9,933.0 L521.8,933.9 L520.6,934.9 L519.5,935.9" stroke-width="4.00" stroke-linejoin="round"/><path d="M530.9,926.2 L529.8,927.2 L528.6,928.1 L527.5,929.1 L526.3,930.1 L525.2,931.0 L524.1,932.0 L522.9,933.0 L521.8,933.9 L520.6,934.9 L519.5,935.9" stroke-width="1.80" stroke="#fff" stroke-linejoin="round"/>
<path d="M488.0,883.3 L486.9,884.2 L485.8,885.2 L484.6,886.2 L483.5,887.1 L482.3,888.1 L481.2,889.1 L480.1,890.0 L478.9,891.0 L477.8,892.0 L476.6,892.9" stroke-width="4.00" stroke-linejoin="round"/><path d="M488.0,883.3 L486.9,884.2 L485.8,885.2 L484.6,886.2 L483.5,887.1 L482.3,888.1 L481.2,889.1 L480.1,890.0 L478.9,891.0 L477.8,892.0 L476.6,892.9" stroke-width="1.80" stroke="#fff" stroke-linejoin="round"/>
<path d="M520.0,921.0 L518.9,922.0 L517.7,922.9 L516.6,923.9 L515.4,924.9 L514.3,925.8 L513.2,926.8 L512.0,927.8 L510.9,928.7 L509.7,929.7 L508.6,930.7" stroke-width="4.00" stroke-linejoin="round"/><path d="M520.0,921.0 L518.9,922.0 L517.7,922.9 L516.6,923.9 L515.4,924.9 L514.3,925.8 L513.2,926.8 L512.0,927.8 L510.9,928.7 L509.7,929.7 L508.6,930.7" stroke-width="1.80" stroke="#fff" stroke-linejoin="round"/>
<path d="M531.1,865.6 L526.8,865.9 L522.5,866.1 L518.2,866.4 L513.9,866.7 L509.6,867.0" stroke-width="4.00" stroke-linejoin="round"/><path d="M531.1,865.6 L526.8,865.9 L522.5,866.1 L518.2,866.4 L513.9,866.7 L509.6,867.0" stroke-width="1.80" stroke="#fff" stroke-linejoin="round"/>
<path d="M544.6,881.4 L543.6,885.6 L542.6,889.8 L541.6,894.0 L540.6,898.2 L539.6,902.4" stroke-width="4.00" stroke-linejoin="round"/><path d="M544.6,881.4 L543.6,885.6 L542.6,889.8 L541.6,894.0 L540.6,898.2 L539.6,902.4" stroke-width="1.80" stroke="#fff" stroke-linejoin="round"/>
<path d="M508.6,862.6 L500.5,863.2 L497.0,864.1 L494.4,865.0 L492.3,865.9 L490.6,866.8 L489.3,867.8 L488.1,868.8 L487.0,869.7 L485.9,870.7 L484.7,871.6" stroke-width="4.00" stroke-linejoin="round"/><path d="M508.6,862.6 L500.5,863.2 L497.0,864.1 L494.4,865.0 L492.3,865.9 L490.6,866.8 L489.3,867.8 L488.1,868.8 L487.0,869.7 L485.9,870.7 L484.7,871.6" stroke-width="1.80" stroke="#fff" stroke-linejoin="round"/>
<path d="M543.8,904.2 L541.8,912.0 L540.4,915.3 L539.1,917.8 L537.8,919.7 L536.6,921.2 L535.5,922.3 L534.3,923.3 L533.2,924.3 L532.0,925.2 L530.9,926.2" stroke-width="4.00" stroke-linejoin="round"/><path d="M543.8,904.2 L541.8,912.0 L540.4,915.3 L539.1,917.8 L537.8,919.7 L536.6,921.2 L535.5,922.3 L534.3,923.3 L533.2,924.3 L532.0,925.2 L530.9,926.2" stroke-width="1.80" stroke="#fff" stroke-linejoin="round"/>
<path d="M511.1,871.4 L503.5,873.6 L500.1,875.0 L497.6,876.2 L495.5,877.4 L493.9,878.4 L492.6,879.4 L491.5,880.4 L490.3,881.3 L489.2,882.3 L488.0,883.3" stroke-width="4.00" stroke-linejoin="round"/><path d="M511.1,871.4 L503.5,873.6 L500.1,875.0 L497.6,876.2 L495.5,877.4 L493.9,878.4 L492.6,879.4 L491.5,880.4 L490.3,881.3 L489.2,882.3 L488.0,883.3" stroke-width="1.80" stroke="#fff" stroke-linejoin="round"/>
<path d="M535.5,900.2 L532.1,907.4 L530.2,910.5 L528.5,912.8 L527.1,914.6 L525.8,916.0 L524.6,917.2 L523.4,918.1 L522.3,919.1 L521.1,920.1 L520.0,921.0" stroke-width="4.00" stroke-linejoin="round"/><path d="M535.5,900.2 L532.1,907.4 L530.2,910.5 L528.5,912.8 L527.1,914.6 L525.8,916.0 L524.6,917.2 L523.4,918.1 L522.3,919.1 L521.1,920.1 L520.0,921.0" stroke-width="1.80" stroke="#fff" stroke-linejoin="round"/>
<path d="M508.6,862.6 L509.0,864.8 L509.6,867.0 L510.3,869.2 L511.1,871.4" stroke-width="4.00" stroke-linejoin="round"/><path d="M508.6,862.6 L509.0,864.8 L509.6,867.0 L510.3,869.2 L511.1,871.4" stroke-width="1.80" stroke="#fff" stroke-linejoin="round"/>
<path d="M535.5,900.2 L537.5,901.4 L539.6,902.4 L541.7,903.4 L543.8,904.2" stroke-width="4.00" stroke-linejoin="round"/><path d="M535.5,900.2 L537.5,901.4 L539.6,902.4 L541.7,903.4 L543.8,904.2" stroke-width="1.80" stroke="#fff" stroke-linejoin="round"/>
<path d="M532.9,850.5 L531.4,852.0 L530.1,853.7 L529.1,855.7 L528.5,857.8 L528.1,860.1 L528.0,862.5 L528.3,865.0 L528.8,867.5 L529.7,870.0 L530.8,872.4 L532.2,874.7 L533.9,876.8 L535.8,878.8 L537.8,880.6 L540.0,882.1 L542.3,883.4 L544.6,884.3 L547.0,885.0 L549.4,885.3 L551.7,885.3 L554.0,885.0 L556.1,884.4 L558.0,883.4 L559.8,882.2 L561.3,880.7 L562.5,878.9 L563.5,877.0 L564.2,874.8 L564.5,872.5 L564.6,870.1 L564.4,867.6 L563.8,865.2 L562.9,862.7 L561.8,860.3 L560.4,858.0 L558.7,855.8 L556.9,853.8 L554.8,852.1 L552.7,850.5 L550.4,849.3 L548.0,848.3 L545.6,847.7 L543.2,847.3 L540.9,847.3 L538.7,847.6 L536.6,848.3 L534.6,849.2 L532.9,850.5 Z" stroke-width="3.2" fill="none"/><path d="M535.5,853.5 L534.2,854.7 L533.2,856.1 L532.5,857.7 L531.9,859.5 L531.6,861.3 L531.5,863.3 L531.7,865.3 L532.2,867.3 L532.9,869.3 L533.8,871.2 L535.0,873.1 L536.3,874.8 L537.8,876.4 L539.4,877.9 L541.2,879.1 L543.1,880.1 L545.0,880.9 L546.9,881.4 L548.8,881.7 L550.7,881.7 L552.5,881.4 L554.2,880.9 L555.8,880.2 L557.2,879.2 L558.4,877.9 L559.4,876.5 L560.2,874.9 L560.7,873.2 L561.0,871.3 L561.1,869.4 L560.9,867.4 L560.4,865.4 L559.7,863.4 L558.8,861.4 L557.7,859.6 L556.4,857.8 L554.9,856.2 L553.2,854.8 L551.4,853.6 L549.6,852.6 L547.7,851.8 L545.7,851.3 L543.8,851.0 L541.9,851.0 L540.1,851.2 L538.4,851.7 L536.9,852.5 L535.5,853.5 Z" stroke-width="1.2" fill="none"/><path d="M531.3,845.5 L529.4,847.4 L527.9,849.5 L526.7,851.9 L525.9,854.6 L525.4,857.4 L525.3,860.4 L525.6,863.4 L526.3,866.5 L527.4,869.5 L528.8,872.5 L530.5,875.3 L532.5,878.0 L534.8,880.4 L537.3,882.6 L540.0,884.5 L542.9,886.0 L545.8,887.2 L548.7,888.0 L551.7,888.4 L554.5,888.4 L557.3,888.0 L559.9,887.3 L562.2,886.1 L564.4,884.6 L566.2,882.7 L567.8,880.6 L569.0,878.1 L569.8,875.5 L570.3,872.7 L570.4,869.7 L570.0,866.7 L569.4,863.6 L568.3,860.6 L566.9,857.6 L565.2,854.8 L563.1,852.1 L560.8,849.7 L558.3,847.5 L555.6,845.6 L552.8,844.1 L549.9,842.9 L547.0,842.1 L544.0,841.7 L541.2,841.6 L538.4,842.0 L535.8,842.8 L533.4,844.0 L531.3,845.5 Z" stroke-width="1" fill="none"/><path d="M532.1,852.7 L530.7,854.1 L529.5,855.7 L528.6,857.6 L528.0,859.6 L527.6,861.8 L527.6,864.0 L527.8,866.4 L528.3,868.7 L529.1,871.0 L530.2,873.3 L531.5,875.5 L533.1,877.5 L534.8,879.4 L536.8,881.1 L538.8,882.5 L541.0,883.7 L543.2,884.6 L545.5,885.2 L547.7,885.5 L549.9,885.5 L552.0,885.2 L554.0,884.6 L555.8,883.7 L557.5,882.6 L558.9,881.2 L560.1,879.5 L561.0,877.6 L561.6,875.6 L562.0,873.5 L562.0,871.2 L561.8,868.9 L561.3,866.5 L560.5,864.2 L559.4,861.9 L558.1,859.7 L556.5,857.7 L554.8,855.8 L552.8,854.2 L550.8,852.7 L548.6,851.6 L546.4,850.6 L544.1,850.0 L541.9,849.7 L539.7,849.7 L537.6,850.0 L535.6,850.6 L533.8,851.5 L532.1,852.7 Z" stroke-width="2" stroke-dasharray="2 1.5" fill="none"/>
<path d="M527.5,860.0 L527.6,857.3 L528.0,854.6 L528.8,852.1 L529.9,849.9 L531.4,847.8 L533.1,846.1 L536.1,843.5 L538.1,842.1 L540.4,841.0 L542.8,840.3 L545.4,839.9 L548.1,839.9 L550.8,840.3 L553.6,841.0 L556.3,842.2 L559.0,843.6 L561.5,845.4 L563.8,847.4 L566.0,849.7 L567.9,852.2 L569.5,854.8 L570.8,857.6 L571.8,860.5 L572.5,863.4 L572.7,866.2 L572.7,869.0 L572.2,871.6 L571.5,874.1 L570.3,876.4 L568.9,878.4 L567.1,880.1 L564.1,882.7 L562.1,884.1 L559.9,885.2 L557.4,886.0 L554.9,886.3 L552.2,886.3 L549.4,885.9 L546.7,885.2 L543.9,884.1 L541.3,882.6 L538.8,880.9 L536.4,878.8 L534.3,876.5 L532.4,874.0 L530.7,871.4 L529.4,868.6 L528.4,865.8 L527.8,862.9 Z" fill="#fff" stroke-width="1"/><path d="M536.1,843.5 L534.4,845.2 L533.0,847.3 L531.8,849.5 L531.0,852.0 L530.6,854.7 L530.5,857.5 L530.8,860.3 L531.5,863.2 L532.5,866.0 L533.8,868.8 L535.4,871.5 L537.3,874.0 L539.4,876.3 L541.8,878.3 L544.3,880.1 L547.0,881.5 L549.7,882.6 L552.5,883.4 L555.2,883.7 L557.9,883.8 L560.5,883.4 L562.9,882.7 L565.1,881.6 L567.1,880.1 L568.9,878.4 L570.3,876.4 L571.5,874.1 L572.2,871.6 L572.7,869.0 L572.7,866.2 L572.5,863.3 L571.8,860.5 L570.8,857.6 L569.5,854.8 L567.9,852.2 L566.0,849.7 L563.8,847.4 L561.5,845.4 L559.0,843.6 L556.3,842.2 L553.6,841.0 L550.8,840.3 L548.1,839.9 L545.4,839.9 L542.8,840.3 L540.4,841.0 L538.1,842.1 L536.1,843.5 Z" stroke-width="1" fill="none"/>
<path d="M529.8,857.3 L529.9,854.4 L530.4,851.7 L531.2,849.1 L532.3,846.8 L533.8,844.7 L535.6,842.9 L553.5,827.8 L555.5,826.3 L557.9,825.2 L560.4,824.4 L563.0,824.0 L565.8,824.1 L568.6,824.5 L571.5,825.2 L574.3,826.4 L577.1,827.9 L579.7,829.7 L582.1,831.8 L584.3,834.2 L586.3,836.7 L588.0,839.5 L589.3,842.4 L590.3,845.3 L591.0,848.3 L591.3,851.2 L591.2,854.1 L590.8,856.8 L590.0,859.4 L588.8,861.8 L587.3,863.8 L585.5,865.6 L567.7,880.8 L565.6,882.2 L563.3,883.4 L560.8,884.1 L558.1,884.5 L555.3,884.5 L552.5,884.1 L549.6,883.3 L546.8,882.1 L544.1,880.7 L541.5,878.8 L539.0,876.7 L536.8,874.4 L534.9,871.8 L533.2,869.0 L531.8,866.2 L530.8,863.2 L530.1,860.2 Z" fill="#fff" stroke-width="1"/><path d="M553.5,827.8 L551.7,829.6 L550.2,831.7 L549.0,834.0 L548.2,836.6 L547.8,839.3 L547.7,842.2 L548.0,845.1 L548.7,848.1 L549.7,851.1 L551.0,853.9 L552.7,856.7 L554.7,859.3 L556.9,861.6 L559.3,863.7 L561.9,865.5 L564.7,867.0 L567.5,868.2 L570.4,869.0 L573.2,869.4 L576.0,869.4 L578.6,869.0 L581.1,868.2 L583.5,867.1 L585.5,865.6 L587.3,863.8 L588.8,861.7 L590.0,859.4 L590.8,856.8 L591.2,854.1 L591.3,851.2 L591.0,848.3 L590.3,845.3 L589.3,842.4 L588.0,839.5 L586.3,836.7 L584.3,834.2 L582.1,831.8 L579.7,829.7 L577.1,827.9 L574.3,826.4 L571.5,825.2 L568.6,824.5 L565.8,824.1 L563.0,824.0 L560.4,824.4 L557.9,825.2 L555.5,826.3 L553.5,827.8 Z" stroke-width="1" fill="none"/>
<path d="M554.7,843.6 L554.8,841.7 L555.1,839.9 L555.6,838.1 L556.4,836.5 L557.4,835.1 L558.6,833.9 L561.3,831.6 L562.7,830.6 L564.3,829.9 L566.0,829.4 L567.8,829.1 L569.7,829.1 L571.6,829.4 L573.5,829.9 L575.4,830.7 L577.3,831.7 L579.0,832.9 L580.7,834.4 L582.2,836.0 L583.5,837.7 L584.7,839.6 L585.6,841.5 L586.3,843.5 L586.7,845.5 L586.9,847.5 L586.9,849.5 L586.6,851.3 L586.0,853.0 L585.2,854.6 L584.2,856.1 L583.0,857.3 L580.4,859.5 L579.0,860.5 L577.4,861.3 L575.7,861.8 L573.9,862.1 L572.0,862.0 L570.1,861.8 L568.1,861.2 L566.2,860.5 L564.4,859.5 L562.6,858.2 L561.0,856.8 L559.5,855.2 L558.1,853.5 L557.0,851.6 L556.1,849.6 L555.4,847.6 L554.9,845.6 Z" fill="#fff" stroke-width="1"/><path d="M561.3,831.6 L560.1,832.9 L559.1,834.3 L558.3,835.9 L557.7,837.6 L557.4,839.5 L557.4,841.4 L557.6,843.4 L558.0,845.4 L558.7,847.4 L559.7,849.3 L560.8,851.2 L562.1,853.0 L563.6,854.6 L565.3,856.0 L567.0,857.2 L568.9,858.2 L570.8,859.0 L572.7,859.5 L574.7,859.8 L576.5,859.8 L578.3,859.6 L580.0,859.0 L581.6,858.3 L583.0,857.3 L584.2,856.1 L585.2,854.6 L586.0,853.1 L586.6,851.3 L586.9,849.5 L586.9,847.5 L586.7,845.5 L586.3,843.5 L585.6,841.5 L584.7,839.6 L583.5,837.7 L582.2,836.0 L580.7,834.4 L579.0,832.9 L577.3,831.7 L575.4,830.7 L573.5,829.9 L571.6,829.4 L569.7,829.1 L567.8,829.1 L566.0,829.4 L564.3,829.9 L562.7,830.6 L561.3,831.6 Z" stroke-width="1" fill="none"/>
<path d="M567.2,843.4 L567.2,842.8 L567.4,842.2 L567.5,841.6 L567.8,841.1 L568.1,840.6 L568.5,840.2 L573.5,836.0 L574.0,835.7 L574.5,835.4 L575.0,835.2 L575.6,835.2 L576.3,835.2 L576.9,835.2 L577.5,835.4 L578.2,835.7 L578.8,836.0 L579.4,836.4 L579.9,836.9 L580.5,837.4 L580.9,838.0 L581.3,838.6 L581.6,839.3 L581.8,840.0 L582.0,840.6 L582.0,841.3 L582.0,841.9 L581.9,842.6 L581.7,843.1 L581.5,843.7 L581.1,844.1 L580.7,844.5 L575.8,848.7 L575.3,849.1 L574.8,849.3 L574.2,849.5 L573.6,849.6 L573.0,849.6 L572.4,849.5 L571.7,849.3 L571.1,849.0 L570.5,848.7 L569.9,848.3 L569.3,847.8 L568.8,847.3 L568.4,846.7 L568.0,846.1 L567.7,845.4 L567.5,844.8 L567.3,844.1 Z" fill="#fff" stroke-width="1"/><path d="M573.5,836.0 L573.1,836.4 L572.7,836.9 L572.5,837.4 L572.3,838.0 L572.2,838.6 L572.2,839.3 L572.2,839.9 L572.4,840.6 L572.6,841.3 L572.9,841.9 L573.3,842.5 L573.8,843.1 L574.3,843.6 L574.8,844.1 L575.4,844.5 L576.0,844.9 L576.6,845.1 L577.3,845.3 L577.9,845.4 L578.6,845.4 L579.2,845.3 L579.7,845.1 L580.3,844.9 L580.7,844.5 L581.1,844.1 L581.5,843.7 L581.7,843.1 L581.9,842.6 L582.0,841.9 L582.0,841.3 L582.0,840.6 L581.8,840.0 L581.6,839.3 L581.3,838.6 L580.9,838.0 L580.4,837.4 L579.9,836.9 L579.4,836.4 L578.8,836.0 L578.2,835.7 L577.6,835.4 L576.9,835.3 L576.3,835.2 L575.6,835.2 L575.0,835.2 L574.5,835.4 L573.9,835.7 L573.5,836.0 Z" stroke-width="1" fill="none"/>
<path d="M555.8,952.9 L558.0,946.5 L558.3,946.2 L559.1,946.0 L560.3,946.0 L561.8,946.1 L563.7,946.4 L565.9,946.8 L568.4,947.3 L571.1,948.0 L574.0,948.8 L577.1,949.6 L580.2,950.6 L583.4,951.6 L586.5,952.7 L589.6,953.8 L592.5,955.0 L595.3,956.1 L597.8,957.2 L600.1,958.2 L602.1,959.2 L603.7,960.1 L604.9,960.9 L605.8,961.6 L606.3,962.2 L606.3,962.7 L604.2,969.1 L603.8,969.4 L603.0,969.6 L601.9,969.6 L600.3,969.5 L598.4,969.2 L596.2,968.8 L593.8,968.3 L591.0,967.6 L588.1,966.8 L585.1,966.0 L581.9,965.0 L578.8,964.0 L575.6,962.9 L572.6,961.8 L569.6,960.6 L566.9,959.5 L564.3,958.4 L562.0,957.4 L560.1,956.4 L558.5,955.5 L557.2,954.7 L556.3,954.0 L555.9,953.4 Z" fill="#fff" stroke-width="1"/><path d="M558.3,946.2 L559.1,946.0 L560.3,946.0 L561.8,946.1 L563.7,946.4 L565.9,946.8 L568.4,947.3 L571.1,948.0 L574.0,948.8 L577.1,949.6 L580.2,950.6 L583.4,951.6 L586.5,952.7 L589.6,953.8 L592.5,955.0 L595.3,956.1 L597.8,957.2 L600.1,958.2 L602.1,959.2 L603.7,960.1 L604.9,960.9 L605.8,961.6 L606.3,962.2 L606.3,962.7 L605.9,963.0 L605.2,963.2 L604.0,963.2 L602.5,963.1 L600.6,962.8 L598.4,962.4 L595.9,961.9 L593.2,961.2 L590.3,960.4 L587.2,959.6 L584.1,958.6 L580.9,957.6 L577.8,956.5 L574.7,955.4 L571.7,954.2 L569.0,953.1 L566.4,952.0 L564.2,951.0 L562.2,950.0 L560.6,949.1 L559.3,948.3 L558.5,947.6 L558.0,947.0 L558.0,946.5 L558.3,946.2 Z" stroke-width="1" fill="none"/>
<path d="M557.1,946.2 L569.7,908.6 L570.1,908.3 L570.9,908.1 L572.1,908.1 L573.7,908.2 L575.6,908.5 L577.9,908.9 L580.5,909.5 L583.3,910.2 L586.3,911.0 L589.4,911.9 L592.7,912.9 L595.9,913.9 L599.2,915.0 L602.4,916.2 L605.4,917.4 L608.3,918.5 L610.9,919.7 L613.2,920.7 L615.3,921.8 L616.9,922.7 L618.2,923.5 L619.1,924.3 L619.6,924.9 L619.6,925.4 L607.1,963.0 L606.7,963.3 L605.9,963.5 L604.7,963.5 L603.1,963.4 L601.2,963.1 L598.9,962.7 L596.3,962.1 L593.5,961.4 L590.5,960.6 L587.4,959.7 L584.1,958.7 L580.9,957.7 L577.6,956.5 L574.4,955.4 L571.4,954.2 L568.5,953.1 L565.9,951.9 L563.6,950.9 L561.5,949.8 L559.9,948.9 L558.6,948.0 L557.7,947.3 L557.2,946.7 Z" fill="#fff" stroke-width="1"/><path d="M570.1,908.3 L570.9,908.1 L572.1,908.1 L573.7,908.2 L575.6,908.5 L577.9,908.9 L580.5,909.5 L583.3,910.2 L586.3,911.0 L589.4,911.9 L592.7,912.9 L595.9,913.9 L599.2,915.1 L602.4,916.2 L605.4,917.4 L608.3,918.5 L610.9,919.7 L613.2,920.7 L615.3,921.8 L616.9,922.7 L618.2,923.6 L619.1,924.3 L619.6,924.9 L619.7,925.4 L619.3,925.7 L618.5,925.9 L617.3,925.9 L615.7,925.8 L613.7,925.5 L611.4,925.1 L608.9,924.5 L606.1,923.8 L603.1,923.0 L599.9,922.1 L596.7,921.1 L593.4,920.1 L590.2,918.9 L587.0,917.8 L583.9,916.6 L581.1,915.5 L578.5,914.3 L576.1,913.3 L574.1,912.2 L572.4,911.3 L571.1,910.4 L570.2,909.7 L569.7,909.1 L569.7,908.6 L570.1,908.3 Z" stroke-width="1" fill="none"/>
<path d="M577.7,911.3 L579.6,905.7 L579.9,905.5 L580.4,905.4 L581.2,905.4 L582.3,905.5 L583.6,905.6 L585.2,905.9 L586.9,906.3 L588.8,906.8 L590.9,907.3 L593.0,907.9 L595.2,908.6 L597.4,909.3 L599.6,910.1 L601.7,910.9 L603.8,911.6 L605.7,912.4 L607.5,913.2 L609.1,913.9 L610.5,914.6 L611.6,915.3 L612.5,915.8 L613.1,916.3 L613.4,916.7 L613.5,917.1 L611.6,922.7 L611.3,922.9 L610.8,923.0 L610.0,923.0 L608.9,922.9 L607.6,922.8 L606.0,922.5 L604.3,922.1 L602.4,921.6 L600.4,921.1 L598.2,920.5 L596.0,919.8 L593.8,919.1 L591.6,918.3 L589.5,917.5 L587.4,916.8 L585.5,916.0 L583.7,915.2 L582.1,914.5 L580.7,913.8 L579.6,913.1 L578.7,912.6 L578.1,912.1 L577.8,911.7 Z" fill="#fff" stroke-width="1"/><path d="M579.9,905.5 L580.4,905.4 L581.2,905.4 L582.3,905.5 L583.6,905.6 L585.2,905.9 L586.9,906.3 L588.8,906.8 L590.8,907.3 L593.0,907.9 L595.2,908.6 L597.4,909.3 L599.6,910.1 L601.7,910.9 L603.8,911.6 L605.7,912.4 L607.5,913.2 L609.1,913.9 L610.5,914.6 L611.6,915.3 L612.5,915.8 L613.1,916.3 L613.4,916.7 L613.5,917.1 L613.2,917.3 L612.7,917.4 L611.8,917.4 L610.8,917.3 L609.4,917.2 L607.9,916.9 L606.2,916.5 L604.3,916.0 L602.2,915.5 L600.1,914.9 L597.9,914.2 L595.7,913.5 L593.5,912.7 L591.3,911.9 L589.3,911.2 L587.3,910.4 L585.5,909.6 L584.0,908.9 L582.6,908.2 L581.4,907.5 L580.6,907.0 L580.0,906.5 L579.6,906.1 L579.6,905.7 L579.9,905.5 Z" stroke-width="1" fill="none"/>
<path d="M590.9,909.5 L594.4,899.1 L594.4,899.0 L594.6,899.0 L594.9,899.0 L595.3,899.0 L595.7,899.1 L596.2,899.2 L596.8,899.3 L597.4,899.5 L598.1,899.6 L598.8,899.8 L599.5,900.1 L600.3,900.3 L601.0,900.6 L601.7,900.8 L602.4,901.1 L603.1,901.3 L603.7,901.6 L604.2,901.9 L604.6,902.1 L605.0,902.3 L605.3,902.5 L605.5,902.6 L605.6,902.8 L605.6,902.9 L602.2,913.3 L602.1,913.4 L601.9,913.4 L601.6,913.4 L601.3,913.4 L600.8,913.3 L600.3,913.2 L599.7,913.1 L599.1,912.9 L598.4,912.8 L597.7,912.6 L597.0,912.3 L596.2,912.1 L595.5,911.8 L594.8,911.6 L594.1,911.3 L593.5,911.1 L592.9,910.8 L592.3,910.5 L591.9,910.3 L591.5,910.1 L591.2,909.9 L591.0,909.8 L590.9,909.6 Z" fill="#fff" stroke-width="1"/><path d="M594.4,899.0 L594.6,899.0 L594.9,899.0 L595.3,899.0 L595.7,899.1 L596.2,899.2 L596.8,899.3 L597.4,899.5 L598.1,899.6 L598.8,899.8 L599.5,900.1 L600.3,900.3 L601.0,900.6 L601.7,900.8 L602.4,901.1 L603.1,901.3 L603.7,901.6 L604.2,901.8 L604.7,902.1 L605.0,902.3 L605.3,902.5 L605.5,902.6 L605.6,902.8 L605.6,902.9 L605.6,903.0 L605.4,903.0 L605.1,903.0 L604.7,903.0 L604.3,902.9 L603.8,902.8 L603.2,902.7 L602.6,902.5 L601.9,902.4 L601.2,902.2 L600.5,901.9 L599.7,901.7 L599.0,901.4 L598.3,901.2 L597.6,900.9 L596.9,900.7 L596.3,900.4 L595.8,900.2 L595.3,899.9 L595.0,899.7 L594.7,899.5 L594.5,899.4 L594.4,899.2 L594.4,899.1 L594.4,899.0 Z" stroke-width="1" fill="none"/>
<path d="M557.8,958.5 L558.4,958.4 L559.4,958.3 L560.8,958.4 L562.4,958.7 L564.3,959.0 L566.5,959.5 L568.8,960.1 L571.4,960.7 L574.0,961.5 L576.7,962.3 L579.5,963.2 L582.2,964.2 L584.8,965.1 L587.4,966.1 L589.8,967.1 L592.0,968.0 L594.0,968.9 L595.7,969.8 L597.1,970.6 L598.2,971.3 L598.9,971.9 L599.3,972.4 L599.4,972.8 L599.0,973.1 L598.4,973.2 L597.4,973.3 L596.0,973.2 L594.4,972.9 L592.5,972.6 L590.3,972.1 L588.0,971.5 L585.4,970.9 L582.8,970.1 L580.1,969.3 L577.3,968.4 L574.6,967.4 L572.0,966.5 L569.4,965.5 L567.0,964.5 L564.8,963.6 L562.8,962.7 L561.1,961.8 L559.7,961.0 L558.6,960.3 L557.9,959.7 L557.5,959.2 L557.4,958.8 L557.8,958.5 Z" stroke-width="3.2" fill="none"/><path d="M561.7,959.9 L562.3,959.8 L563.1,959.8 L564.2,959.9 L565.5,960.0 L567.0,960.3 L568.8,960.7 L570.7,961.2 L572.7,961.7 L574.8,962.3 L577.0,963.0 L579.3,963.7 L581.5,964.5 L583.6,965.3 L585.7,966.0 L587.6,966.8 L589.4,967.6 L591.0,968.3 L592.4,969.0 L593.5,969.7 L594.4,970.2 L595.0,970.7 L595.3,971.1 L595.3,971.5 L595.1,971.7 L594.5,971.8 L593.7,971.8 L592.6,971.7 L591.3,971.6 L589.8,971.3 L588.0,970.9 L586.1,970.4 L584.1,969.9 L582.0,969.3 L579.8,968.6 L577.5,967.9 L575.3,967.1 L573.2,966.3 L571.1,965.6 L569.2,964.8 L567.4,964.0 L565.8,963.3 L564.4,962.6 L563.3,961.9 L562.4,961.4 L561.8,960.9 L561.5,960.5 L561.5,960.1 L561.7,959.9 Z" stroke-width="1.2" fill="none"/><path d="M554.1,953.6 L554.9,953.4 L556.1,953.4 L557.8,953.5 L559.8,953.8 L562.2,954.3 L564.8,954.8 L567.7,955.5 L570.8,956.4 L574.1,957.3 L577.4,958.3 L580.8,959.4 L584.1,960.6 L587.4,961.8 L590.5,963.0 L593.5,964.2 L596.2,965.3 L598.6,966.5 L600.7,967.5 L602.5,968.5 L603.8,969.4 L604.7,970.1 L605.2,970.7 L605.3,971.2 L604.9,971.6 L604.0,971.8 L602.8,971.8 L601.2,971.7 L599.1,971.4 L596.8,970.9 L594.1,970.4 L591.2,969.7 L588.1,968.8 L584.9,967.9 L581.5,966.9 L578.2,965.8 L574.8,964.6 L571.5,963.4 L568.4,962.2 L565.4,961.0 L562.7,959.9 L560.3,958.7 L558.2,957.7 L556.5,956.7 L555.1,955.8 L554.2,955.1 L553.7,954.5 L553.7,954.0 L554.1,953.6 Z" stroke-width="1" fill="none"/><path d="M557.9,962.1 L558.5,962.0 L559.5,962.0 L560.7,962.1 L562.3,962.3 L564.1,962.6 L566.1,963.1 L568.3,963.6 L570.7,964.2 L573.2,964.9 L575.7,965.7 L578.3,966.6 L580.9,967.5 L583.4,968.4 L585.8,969.3 L588.1,970.2 L590.1,971.1 L592.0,972.0 L593.6,972.8 L594.9,973.5 L596.0,974.2 L596.7,974.8 L597.0,975.2 L597.1,975.6 L596.8,975.9 L596.2,976.0 L595.2,976.0 L593.9,975.9 L592.4,975.7 L590.6,975.4 L588.6,974.9 L586.3,974.4 L584.0,973.8 L581.5,973.1 L578.9,972.3 L576.3,971.4 L573.8,970.5 L571.3,969.6 L568.9,968.7 L566.6,967.8 L564.5,966.9 L562.7,966.0 L561.1,965.2 L559.7,964.5 L558.7,963.8 L558.0,963.2 L557.6,962.8 L557.6,962.4 L557.9,962.1 Z" stroke-width="2" stroke-dasharray="2 1.5" fill="none"/>
<path d="M591.0,970.9 L592.1,975.0 L592.0,978.0 L591.6,980.8 L591.0,983.5 L590.4,986.0 L589.6,988.4 L588.8,990.8 L588.0,993.2 L587.2,995.6 L586.4,998.0" stroke-width="4.00" stroke-linejoin="round"/><path d="M591.0,970.9 L592.1,975.0 L592.0,978.0 L591.6,980.8 L591.0,983.5 L590.4,986.0 L589.6,988.4 L588.8,990.8 L588.0,993.2 L587.2,995.6 L586.4,998.0" stroke-width="1.80" stroke="#fff" stroke-linejoin="round"/>
<path d="M586.4,998.0 L585.6,1000.4 L584.8,1002.8 L584.0,1005.2 L583.2,1007.6 L582.4,1010.0 L581.6,1012.4 L580.8,1014.8 L580.0,1017.2 L579.2,1019.6 L578.4,1022.0" stroke-width="4.00" stroke-linejoin="round"/><path d="M586.4,998.0 L585.6,1000.4 L584.8,1002.8 L584.0,1005.2 L583.2,1007.6 L582.4,1010.0 L581.6,1012.4 L580.8,1014.8 L580.0,1017.2 L579.2,1019.6 L578.4,1022.0" stroke-width="1.80" stroke="#fff" stroke-linejoin="round"/>
<path d="M578.4,1022.0 L577.6,1024.4 L576.8,1026.8 L576.0,1029.2 L575.2,1031.6 L574.4,1034.0 L573.6,1036.4 L572.8,1038.8 L572.0,1041.2 L571.2,1043.6 L570.4,1046.0" stroke-width="4.00" stroke-linejoin="round"/><path d="M578.4,1022.0 L577.6,1024.4 L576.8,1026.8 L576.0,1029.2 L575.2,1031.6 L574.4,1034.0 L573.6,1036.4 L572.8,1038.8 L572.0,1041.2 L571.2,1043.6 L570.4,1046.0" stroke-width="1.80" stroke="#fff" stroke-linejoin="round"/>
<path d="M600.2,973.5 L602.9,978.0 L603.3,981.2 L603.3,984.1 L602.9,986.8 L602.4,989.3 L601.7,991.8 L600.9,994.2 L600.1,996.6 L599.3,999.0 L598.5,1001.4" stroke-width="4.00" stroke-linejoin="round"/><path d="M600.2,973.5 L602.9,978.0 L603.3,981.2 L603.3,984.1 L602.9,986.8 L602.4,989.3 L601.7,991.8 L600.9,994.2 L600.1,996.6 L599.3,999.0 L598.5,1001.4" stroke-width="1.80" stroke="#fff" stroke-linejoin="round"/>
<path d="M598.5,1001.4 L597.7,1003.8 L596.9,1006.2 L596.1,1008.6 L595.3,1011.0 L594.5,1013.4 L593.7,1015.8 L592.9,1018.2 L592.1,1020.6 L591.3,1023.0 L590.5,1025.4" stroke-width="4.00" stroke-linejoin="round"/><path d="M598.5,1001.4 L597.7,1003.8 L596.9,1006.2 L596.1,1008.6 L595.3,1011.0 L594.5,1013.4 L593.7,1015.8 L592.9,1018.2 L592.1,1020.6 L591.3,1023.0 L590.5,1025.4" stroke-width="1.80" stroke="#fff" stroke-linejoin="round"/>
<path d="M553.6,957.7 L548.2,959.6 L545.8,961.8 L544.0,964.0 L542.6,966.4 L541.5,968.7 L540.5,971.1 L539.7,973.5 L538.9,975.9 L538.1,978.3 L537.3,980.7" stroke-width="4.00" stroke-linejoin="round"/><path d="M553.6,957.7 L548.2,959.6 L545.8,961.8 L544.0,964.0 L542.6,966.4 L541.5,968.7 L540.5,971.1 L539.7,973.5 L538.9,975.9 L538.1,978.3 L537.3,980.7" stroke-width="1.80" stroke="#fff" stroke-linejoin="round"/>
<path d="M537.3,980.7 L536.5,983.1 L535.7,985.5 L534.9,987.9 L534.1,990.3 L533.3,992.7 L532.5,995.1 L531.7,997.5 L530.9,999.9 L530.1,1002.3 L529.3,1004.7" stroke-width="4.00" stroke-linejoin="round"/><path d="M537.3,980.7 L536.5,983.1 L535.7,985.5 L534.9,987.9 L534.1,990.3 L533.3,992.7 L532.5,995.1 L531.7,997.5 L530.9,999.9 L530.1,1002.3 L529.3,1004.7" stroke-width="1.80" stroke="#fff" stroke-linejoin="round"/>
<path d="M590.5,1025.4 L589.7,1027.8 L588.9,1030.2 L588.1,1032.6 L587.3,1035.0 L586.5,1037.4 L585.7,1039.8 L584.9,1042.2 L584.1,1044.6 L583.3,1047.0 L582.5,1049.4" stroke-width="4.00" stroke-linejoin="round"/><path d="M590.5,1025.4 L589.7,1027.8 L588.9,1030.2 L588.1,1032.6 L587.3,1035.0 L586.5,1037.4 L585.7,1039.8 L584.9,1042.2 L584.1,1044.6 L583.3,1047.0 L582.5,1049.4" stroke-width="1.80" stroke="#fff" stroke-linejoin="round"/>
<path d="M570.4,1046.0 L569.6,1048.4 L568.8,1050.8 L568.0,1053.2 L567.2,1055.6 L566.4,1058.0 L565.4,1060.3 L564.4,1062.4 L563.2,1064.4 L561.7,1066.2 L559.0,1066.9" stroke-width="4.00" stroke-linejoin="round"/><path d="M570.4,1046.0 L569.6,1048.4 L568.8,1050.8 L568.0,1053.2 L567.2,1055.6 L566.4,1058.0 L565.4,1060.3 L564.4,1062.4 L563.2,1064.4 L561.7,1066.2 L559.0,1066.9" stroke-width="1.80" stroke="#fff" stroke-linejoin="round"/>
<path d="M529.3,1004.7 L528.5,1007.1 L527.7,1009.5 L526.9,1011.9 L526.1,1014.3 L525.3,1016.7 L524.5,1019.1 L523.7,1021.5 L522.9,1023.9 L522.1,1026.3 L521.3,1028.7" stroke-width="4.00" stroke-linejoin="round"/><path d="M529.3,1004.7 L528.5,1007.1 L527.7,1009.5 L526.9,1011.9 L526.1,1014.3 L525.3,1016.7 L524.5,1019.1 L523.7,1021.5 L522.9,1023.9 L522.1,1026.3 L521.3,1028.7" stroke-width="1.80" stroke="#fff" stroke-linejoin="round"/>
<path d="M600.2,973.5 L598.0,972.9 L595.7,972.3 L593.4,971.6 L591.0,970.9" stroke-width="4.00" stroke-linejoin="round"/><path d="M600.2,973.5 L598.0,972.9 L595.7,972.3 L593.4,971.6 L591.0,970.9" stroke-width="1.80" stroke="#fff" stroke-linejoin="round"/>
<path d="M582.5,1049.4 L581.7,1051.8 L580.9,1054.2 L580.1,1056.6 L579.3,1059.0 L578.4,1061.3 L577.3,1063.6 L576.1,1065.7 L574.5,1067.6 L572.5,1069.2 L568.2,1069.5" stroke-width="4.00" stroke-linejoin="round"/><path d="M582.5,1049.4 L581.7,1051.8 L580.9,1054.2 L580.1,1056.6 L579.3,1059.0 L578.4,1061.3 L577.3,1063.6 L576.1,1065.7 L574.5,1067.6 L572.5,1069.2 L568.2,1069.5" stroke-width="1.80" stroke="#fff" stroke-linejoin="round"/>
<path d="M546.1,954.4 L539.5,955.7 L536.7,957.7 L534.6,959.8 L533.0,962.1 L531.7,964.4 L530.8,966.7 L530.0,969.1 L529.2,971.5 L528.4,973.9 L527.6,976.3" stroke-width="4.00" stroke-linejoin="round"/><path d="M546.1,954.4 L539.5,955.7 L536.7,957.7 L534.6,959.8 L533.0,962.1 L531.7,964.4 L530.8,966.7 L530.0,969.1 L529.2,971.5 L528.4,973.9 L527.6,976.3" stroke-width="1.80" stroke="#fff" stroke-linejoin="round"/>
<path d="M527.6,976.3 L526.8,978.7 L526.0,981.1 L525.2,983.5 L524.4,985.9 L523.6,988.3 L522.8,990.7 L522.0,993.1 L521.2,995.5 L520.4,997.9 L519.6,1000.3" stroke-width="4.00" stroke-linejoin="round"/><path d="M527.6,976.3 L526.8,978.7 L526.0,981.1 L525.2,983.5 L524.4,985.9 L523.6,988.3 L522.8,990.7 L522.0,993.1 L521.2,995.5 L520.4,997.9 L519.6,1000.3" stroke-width="1.80" stroke="#fff" stroke-linejoin="round"/>
<path d="M521.3,1028.7 L520.5,1031.1 L519.7,1033.5 L518.9,1035.9 L518.1,1038.3 L517.5,1040.7 L517.0,1043.2 L516.8,1045.6 L517.0,1048.2 L517.8,1050.8 L521.6,1053.7" stroke-width="4.00" stroke-linejoin="round"/><path d="M521.3,1028.7 L520.5,1031.1 L519.7,1033.5 L518.9,1035.9 L518.1,1038.3 L517.5,1040.7 L517.0,1043.2 L516.8,1045.6 L517.0,1048.2 L517.8,1050.8 L521.6,1053.7" stroke-width="1.80" stroke="#fff" stroke-linejoin="round"/>
<path d="M553.6,957.7 L551.6,956.9 L549.7,956.0 L547.8,955.2 L546.1,954.4" stroke-width="4.00" stroke-linejoin="round"/><path d="M553.6,957.7 L551.6,956.9 L549.7,956.0 L547.8,955.2 L546.1,954.4" stroke-width="1.80" stroke="#fff" stroke-linejoin="round"/>
<path d="M519.6,1000.3 L518.8,1002.7 L518.0,1005.1 L517.2,1007.5 L516.4,1009.9 L515.6,1012.3 L514.8,1014.7 L514.0,1017.1 L513.2,1019.5 L512.4,1021.9 L511.6,1024.3" stroke-width="4.00" stroke-linejoin="round"/><path d="M519.6,1000.3 L518.8,1002.7 L518.0,1005.1 L517.2,1007.5 L516.4,1009.9 L515.6,1012.3 L514.8,1014.7 L514.0,1017.1 L513.2,1019.5 L512.4,1021.9 L511.6,1024.3" stroke-width="1.80" stroke="#fff" stroke-linejoin="round"/>
<path d="M563.7,1068.3 L559.8,1067.2 L555.8,1066.0 L551.8,1064.7 L547.7,1063.4 L543.6,1062.0 L539.6,1060.6" stroke-width="4.00" stroke-linejoin="round"/><path d="M563.7,1068.3 L559.8,1067.2 L555.8,1066.0 L551.8,1064.7 L547.7,1063.4 L543.6,1062.0 L539.6,1060.6" stroke-width="1.80" stroke="#fff" stroke-linejoin="round"/>
<path d="M511.6,1024.3 L510.8,1026.7 L510.0,1029.1 L509.2,1031.5 L508.4,1033.9 L507.7,1036.4 L507.4,1038.9 L507.4,1041.4 L507.9,1044.1 L509.1,1046.9 L514.1,1050.4" stroke-width="4.00" stroke-linejoin="round"/><path d="M511.6,1024.3 L510.8,1026.7 L510.0,1029.1 L509.2,1031.5 L508.4,1033.9 L507.7,1036.4 L507.4,1038.9 L507.4,1041.4 L507.9,1044.1 L509.1,1046.9 L514.1,1050.4" stroke-width="1.80" stroke="#fff" stroke-linejoin="round"/>
<path d="M587.0,966.1 L588.8,967.3 L590.5,968.5 L592.2,969.8 L594.0,971.0 L595.7,972.3" stroke-width="4.00" stroke-linejoin="round"/><path d="M587.0,966.1 L588.8,967.3 L590.5,968.5 L592.2,969.8 L594.0,971.0 L595.7,972.3" stroke-width="1.80" stroke="#fff" stroke-linejoin="round"/>
<path d="M539.6,1060.6 L535.6,1059.2 L531.7,1057.8 L527.9,1056.3 L524.3,1054.9 L520.9,1053.4 L517.7,1052.0" stroke-width="4.00" stroke-linejoin="round"/><path d="M539.6,1060.6 L535.6,1059.2 L531.7,1057.8 L527.9,1056.3 L524.3,1054.9 L520.9,1053.4 L517.7,1052.0" stroke-width="1.80" stroke="#fff" stroke-linejoin="round"/>
<path d="M566.4,958.8 L563.1,958.2 L559.7,957.7 L556.4,957.1 L553.0,956.6 L549.7,956.0" stroke-width="4.00" stroke-linejoin="round"/><path d="M566.4,958.8 L563.1,958.2 L559.7,957.7 L556.4,957.1 L553.0,956.6 L549.7,956.0" stroke-width="1.80" stroke="#fff" stroke-linejoin="round"/>
<path d="M583.7,1072.9 L580.9,1072.4 L577.8,1071.8 L574.6,1071.1 L571.1,1070.2 L567.5,1069.3 L563.7,1068.3" stroke-width="4.00" stroke-linejoin="round"/><path d="M583.7,1072.9 L580.9,1072.4 L577.8,1071.8 L574.6,1071.1 L571.1,1070.2 L567.5,1069.3 L563.7,1068.3" stroke-width="1.80" stroke="#fff" stroke-linejoin="round"/>
<path d="M517.7,1052.0 L514.7,1050.7 L511.9,1049.3 L509.5,1048.1 L507.3,1046.9 L505.4,1045.8 L503.9,1044.7" stroke-width="4.00" stroke-linejoin="round"/><path d="M517.7,1052.0 L514.7,1050.7 L511.9,1049.3 L509.5,1048.1 L507.3,1046.9 L505.4,1045.8 L503.9,1044.7" stroke-width="1.80" stroke="#fff" stroke-linejoin="round"/>
<path d="M624.9,977.5 L631.8,982.8 L633.7,986.2 L634.6,989.2 L634.8,992.0 L634.6,994.6 L634.0,997.1 L633.2,999.5 L632.4,1001.9 L631.6,1004.3 L630.8,1006.7" stroke-width="4.00" stroke-linejoin="round"/><path d="M624.9,977.5 L631.8,982.8 L633.7,986.2 L634.6,989.2 L634.8,992.0 L634.6,994.6 L634.0,997.1 L633.2,999.5 L632.4,1001.9 L631.6,1004.3 L630.8,1006.7" stroke-width="1.80" stroke="#fff" stroke-linejoin="round"/>
<path d="M630.8,1006.7 L630.0,1009.1 L629.2,1011.5 L628.4,1013.9 L627.6,1016.3 L626.8,1018.7 L626.0,1021.1 L625.2,1023.5 L624.4,1025.9 L623.6,1028.3 L622.8,1030.7" stroke-width="4.00" stroke-linejoin="round"/><path d="M630.8,1006.7 L630.0,1009.1 L629.2,1011.5 L628.4,1013.9 L627.6,1016.3 L626.8,1018.7 L626.0,1021.1 L625.2,1023.5 L624.4,1025.9 L623.6,1028.3 L622.8,1030.7" stroke-width="1.80" stroke="#fff" stroke-linejoin="round"/>
<path d="M622.8,1030.7 L622.0,1033.1 L621.2,1035.5 L620.4,1037.9 L619.6,1040.3 L618.8,1042.7 L618.0,1045.1 L617.2,1047.5 L616.4,1049.9 L615.6,1052.3 L614.8,1054.7" stroke-width="4.00" stroke-linejoin="round"/><path d="M622.8,1030.7 L622.0,1033.1 L621.2,1035.5 L620.4,1037.9 L619.6,1040.3 L618.8,1042.7 L618.0,1045.1 L617.2,1047.5 L616.4,1049.9 L615.6,1052.3 L614.8,1054.7" stroke-width="1.80" stroke="#fff" stroke-linejoin="round"/>
<path d="M626.7,976.8 L626.4,977.0 L626.0,977.3 L625.5,977.4 L624.9,977.5" stroke-width="4.00" stroke-linejoin="round"/><path d="M626.7,976.8 L626.4,977.0 L626.0,977.3 L625.5,977.4 L624.9,977.5" stroke-width="1.80" stroke="#fff" stroke-linejoin="round"/>
<path d="M594.0,1073.3 L593.1,1073.5 L591.9,1073.6 L590.3,1073.6 L588.4,1073.5 L586.2,1073.3 L583.7,1072.9" stroke-width="4.00" stroke-linejoin="round"/><path d="M594.0,1073.3 L593.1,1073.5 L591.9,1073.6 L590.3,1073.6 L588.4,1073.5 L586.2,1073.3 L583.7,1072.9" stroke-width="1.80" stroke="#fff" stroke-linejoin="round"/>
<path d="M600.6,968.3 L605.7,970.1 L610.8,971.9 L615.9,973.7 L621.0,975.5 L626.0,977.3" stroke-width="4.00" stroke-linejoin="round"/><path d="M600.6,968.3 L605.7,970.1 L610.8,971.9 L615.9,973.7 L621.0,975.5 L626.0,977.3" stroke-width="1.80" stroke="#fff" stroke-linejoin="round"/>
<path d="M614.8,1054.7 L614.0,1057.1 L613.2,1059.5 L612.4,1061.9 L611.6,1064.3 L610.6,1066.6 L609.2,1068.8 L607.4,1070.8 L604.9,1072.6 L601.4,1074.0 L592.9,1073.5" stroke-width="4.00" stroke-linejoin="round"/><path d="M614.8,1054.7 L614.0,1057.1 L613.2,1059.5 L612.4,1061.9 L611.6,1064.3 L610.6,1066.6 L609.2,1068.8 L607.4,1070.8 L604.9,1072.6 L601.4,1074.0 L592.9,1073.5" stroke-width="1.80" stroke="#fff" stroke-linejoin="round"/>
<path d="M626.7,976.8 L633.9,981.9 L635.9,985.2 L636.8,988.2 L637.1,991.0 L637.0,993.6 L636.4,996.1 L635.6,998.5 L634.8,1000.9 L634.0,1003.3 L633.2,1005.7" stroke-width="4.00" stroke-linejoin="round"/><path d="M626.7,976.8 L633.9,981.9 L635.9,985.2 L636.8,988.2 L637.1,991.0 L637.0,993.6 L636.4,996.1 L635.6,998.5 L634.8,1000.9 L634.0,1003.3 L633.2,1005.7" stroke-width="1.80" stroke="#fff" stroke-linejoin="round"/>
<path d="M633.2,1005.7 L632.4,1008.1 L631.6,1010.5 L630.8,1012.9 L630.0,1015.3 L629.2,1017.7 L628.4,1020.1 L627.6,1022.5 L626.8,1024.9 L626.0,1027.3 L625.2,1029.7" stroke-width="4.00" stroke-linejoin="round"/><path d="M633.2,1005.7 L632.4,1008.1 L631.6,1010.5 L630.8,1012.9 L630.0,1015.3 L629.2,1017.7 L628.4,1020.1 L627.6,1022.5 L626.8,1024.9 L626.0,1027.3 L625.2,1029.7" stroke-width="1.80" stroke="#fff" stroke-linejoin="round"/>
<path d="M533.3,945.2 L524.5,944.9 L520.9,946.4 L518.4,948.2 L516.5,950.2 L515.0,952.4 L514.0,954.7 L513.2,957.1 L512.4,959.5 L511.6,961.9 L510.8,964.3" stroke-width="4.00" stroke-linejoin="round"/><path d="M533.3,945.2 L524.5,944.9 L520.9,946.4 L518.4,948.2 L516.5,950.2 L515.0,952.4 L514.0,954.7 L513.2,957.1 L512.4,959.5 L511.6,961.9 L510.8,964.3" stroke-width="1.80" stroke="#fff" stroke-linejoin="round"/>
<path d="M559.4,953.7 L554.3,951.9 L549.2,950.1 L544.1,948.3 L539.0,946.5 L534.0,944.7" stroke-width="4.00" stroke-linejoin="round"/><path d="M559.4,953.7 L554.3,951.9 L549.2,950.1 L544.1,948.3 L539.0,946.5 L534.0,944.7" stroke-width="1.80" stroke="#fff" stroke-linejoin="round"/>
<path d="M625.2,1029.7 L624.4,1032.1 L623.6,1034.5 L622.8,1036.9 L622.0,1039.3 L621.2,1041.7 L620.4,1044.1 L619.6,1046.5 L618.8,1048.9 L618.0,1051.3 L617.2,1053.7" stroke-width="4.00" stroke-linejoin="round"/><path d="M625.2,1029.7 L624.4,1032.1 L623.6,1034.5 L622.8,1036.9 L622.0,1039.3 L621.2,1041.7 L620.4,1044.1 L619.6,1046.5 L618.8,1048.9 L618.0,1051.3 L617.2,1053.7" stroke-width="1.80" stroke="#fff" stroke-linejoin="round"/>
<path d="M533.3,945.2 L533.6,945.0 L534.0,944.7 L534.5,944.6 L535.1,944.5" stroke-width="4.00" stroke-linejoin="round"/><path d="M533.3,945.2 L533.6,945.0 L534.0,944.7 L534.5,944.6 L535.1,944.5" stroke-width="1.80" stroke="#fff" stroke-linejoin="round"/>
<path d="M503.9,1044.7 L502.7,1043.8 L501.8,1043.0 L501.3,1042.2 L501.2,1041.6 L501.4,1041.1 L502.0,1040.7" stroke-width="4.00" stroke-linejoin="round"/><path d="M503.9,1044.7 L502.7,1043.8 L501.8,1043.0 L501.3,1042.2 L501.2,1041.6 L501.4,1041.1 L502.0,1040.7" stroke-width="1.80" stroke="#fff" stroke-linejoin="round"/>
<path d="M510.8,964.3 L510.0,966.7 L509.2,969.1 L508.4,971.5 L507.6,973.9 L506.8,976.3 L506.0,978.7 L505.2,981.1 L504.4,983.5 L503.6,985.9 L502.8,988.3" stroke-width="4.00" stroke-linejoin="round"/><path d="M510.8,964.3 L510.0,966.7 L509.2,969.1 L508.4,971.5 L507.6,973.9 L506.8,976.3 L506.0,978.7 L505.2,981.1 L504.4,983.5 L503.6,985.9 L502.8,988.3" stroke-width="1.80" stroke="#fff" stroke-linejoin="round"/>
<path d="M617.2,1053.7 L616.4,1056.1 L615.6,1058.5 L614.8,1060.9 L614.0,1063.3 L613.0,1065.6 L611.5,1067.8 L609.6,1069.8 L607.1,1071.6 L603.5,1073.1 L594.7,1072.8" stroke-width="4.00" stroke-linejoin="round"/><path d="M617.2,1053.7 L616.4,1056.1 L615.6,1058.5 L614.8,1060.9 L614.0,1063.3 L613.0,1065.6 L611.5,1067.8 L609.6,1069.8 L607.1,1071.6 L603.5,1073.1 L594.7,1072.8" stroke-width="1.80" stroke="#fff" stroke-linejoin="round"/>
<path d="M502.8,988.3 L502.0,990.7 L501.2,993.1 L500.4,995.5 L499.6,997.9 L498.8,1000.3 L498.0,1002.7 L497.2,1005.1 L496.4,1007.5 L495.6,1009.9 L494.8,1012.3" stroke-width="4.00" stroke-linejoin="round"/><path d="M502.8,988.3 L502.0,990.7 L501.2,993.1 L500.4,995.5 L499.6,997.9 L498.8,1000.3 L498.0,1002.7 L497.2,1005.1 L496.4,1007.5 L495.6,1009.9 L494.8,1012.3" stroke-width="1.80" stroke="#fff" stroke-linejoin="round"/>
<path d="M494.8,1012.3 L494.0,1014.7 L493.2,1017.1 L492.4,1019.5 L491.6,1021.9 L491.0,1024.4 L490.9,1027.0 L491.2,1029.8 L492.1,1032.8 L494.1,1036.1 L501.3,1041.2" stroke-width="4.00" stroke-linejoin="round"/><path d="M494.8,1012.3 L494.0,1014.7 L493.2,1017.1 L492.4,1019.5 L491.6,1021.9 L491.0,1024.4 L490.9,1027.0 L491.2,1029.8 L492.1,1032.8 L494.1,1036.1 L501.3,1041.2" stroke-width="1.80" stroke="#fff" stroke-linejoin="round"/>
<path d="M535.1,944.5 L526.6,944.0 L523.1,945.4 L520.6,947.2 L518.8,949.2 L517.4,951.4 L516.4,953.7 L515.6,956.1 L514.8,958.5 L514.0,960.9 L513.2,963.3" stroke-width="4.00" stroke-linejoin="round"/><path d="M535.1,944.5 L526.6,944.0 L523.1,945.4 L520.6,947.2 L518.8,949.2 L517.4,951.4 L516.4,953.7 L515.6,956.1 L514.8,958.5 L514.0,960.9 L513.2,963.3" stroke-width="1.80" stroke="#fff" stroke-linejoin="round"/>
<path d="M592.1,1069.3 L593.3,1070.2 L594.2,1071.0 L594.7,1071.8 L594.8,1072.4 L594.6,1072.9 L594.0,1073.3" stroke-width="4.00" stroke-linejoin="round"/><path d="M592.1,1069.3 L593.3,1070.2 L594.2,1071.0 L594.7,1071.8 L594.8,1072.4 L594.6,1072.9 L594.0,1073.3" stroke-width="1.80" stroke="#fff" stroke-linejoin="round"/>
<path d="M513.2,963.3 L512.4,965.7 L511.6,968.1 L510.8,970.5 L510.0,972.9 L509.2,975.3 L508.4,977.7 L507.6,980.1 L506.8,982.5 L506.0,984.9 L505.2,987.3" stroke-width="4.00" stroke-linejoin="round"/><path d="M513.2,963.3 L512.4,965.7 L511.6,968.1 L510.8,970.5 L510.0,972.9 L509.2,975.3 L508.4,977.7 L507.6,980.1 L506.8,982.5 L506.0,984.9 L505.2,987.3" stroke-width="1.80" stroke="#fff" stroke-linejoin="round"/>
<path d="M505.2,987.3 L504.4,989.7 L503.6,992.1 L502.8,994.5 L502.0,996.9 L501.2,999.3 L500.4,1001.7 L499.6,1004.1 L498.8,1006.5 L498.0,1008.9 L497.2,1011.3" stroke-width="4.00" stroke-linejoin="round"/><path d="M505.2,987.3 L504.4,989.7 L503.6,992.1 L502.8,994.5 L502.0,996.9 L501.2,999.3 L500.4,1001.7 L499.6,1004.1 L498.8,1006.5 L498.0,1008.9 L497.2,1011.3" stroke-width="1.80" stroke="#fff" stroke-linejoin="round"/>
<path d="M497.2,1011.3 L496.4,1013.7 L495.6,1016.1 L494.8,1018.5 L494.0,1020.9 L493.4,1023.4 L493.2,1026.0 L493.4,1028.8 L494.3,1031.8 L496.2,1035.2 L503.1,1040.5" stroke-width="4.00" stroke-linejoin="round"/><path d="M497.2,1011.3 L496.4,1013.7 L495.6,1016.1 L494.8,1018.5 L494.0,1020.9 L493.4,1023.4 L493.2,1026.0 L493.4,1028.8 L494.3,1031.8 L496.2,1035.2 L503.1,1040.5" stroke-width="1.80" stroke="#fff" stroke-linejoin="round"/>
<path d="M593.6,963.2 L596.9,963.8 L600.3,964.3 L603.6,964.9 L607.0,965.4 L610.3,966.0" stroke-width="4.00" stroke-linejoin="round"/><path d="M593.6,963.2 L596.9,963.8 L600.3,964.3 L603.6,964.9 L607.0,965.4 L610.3,966.0" stroke-width="1.80" stroke="#fff" stroke-linejoin="round"/>
<path d="M502.0,1040.7 L502.9,1040.5 L504.1,1040.4 L505.7,1040.4 L507.6,1040.5 L509.8,1040.7 L512.3,1041.1" stroke-width="4.00" stroke-linejoin="round"/><path d="M502.0,1040.7 L502.9,1040.5 L504.1,1040.4 L505.7,1040.4 L507.6,1040.5 L509.8,1040.7 L512.3,1041.1" stroke-width="1.80" stroke="#fff" stroke-linejoin="round"/>
<path d="M573.0,955.9 L571.2,954.7 L569.5,953.5 L567.8,952.2 L566.0,951.0 L564.3,949.7" stroke-width="4.00" stroke-linejoin="round"/><path d="M573.0,955.9 L571.2,954.7 L569.5,953.5 L567.8,952.2 L566.0,951.0 L564.3,949.7" stroke-width="1.80" stroke="#fff" stroke-linejoin="round"/>
<path d="M606.4,964.3 L608.4,965.1 L610.3,966.0 L612.2,966.8 L613.9,967.6" stroke-width="4.00" stroke-linejoin="round"/><path d="M606.4,964.3 L608.4,965.1 L610.3,966.0 L612.2,966.8 L613.9,967.6" stroke-width="1.80" stroke="#fff" stroke-linejoin="round"/>
<path d="M578.3,1062.0 L581.3,1063.3 L584.1,1064.7 L586.5,1065.9 L588.7,1067.1 L590.6,1068.2 L592.1,1069.3" stroke-width="4.00" stroke-linejoin="round"/><path d="M578.3,1062.0 L581.3,1063.3 L584.1,1064.7 L586.5,1065.9 L588.7,1067.1 L590.6,1068.2 L592.1,1069.3" stroke-width="1.80" stroke="#fff" stroke-linejoin="round"/>
<path d="M559.8,948.5 L562.0,949.1 L564.3,949.7 L566.6,950.4 L569.0,951.1" stroke-width="4.00" stroke-linejoin="round"/><path d="M559.8,948.5 L562.0,949.1 L564.3,949.7 L566.6,950.4 L569.0,951.1" stroke-width="1.80" stroke="#fff" stroke-linejoin="round"/>
<path d="M613.9,967.6 L618.9,971.1 L620.1,973.9 L620.6,976.6 L620.6,979.1 L620.3,981.6 L619.6,984.1 L618.8,986.5 L618.0,988.9 L617.2,991.3 L616.4,993.7" stroke-width="4.00" stroke-linejoin="round"/><path d="M613.9,967.6 L618.9,971.1 L620.1,973.9 L620.6,976.6 L620.6,979.1 L620.3,981.6 L619.6,984.1 L618.8,986.5 L618.0,988.9 L617.2,991.3 L616.4,993.7" stroke-width="1.80" stroke="#fff" stroke-linejoin="round"/>
<path d="M616.4,993.7 L615.6,996.1 L614.8,998.5 L614.0,1000.9 L613.2,1003.3 L612.4,1005.7 L611.6,1008.1 L610.8,1010.5 L610.0,1012.9 L609.2,1015.3 L608.4,1017.7" stroke-width="4.00" stroke-linejoin="round"/><path d="M616.4,993.7 L615.6,996.1 L614.8,998.5 L614.0,1000.9 L613.2,1003.3 L612.4,1005.7 L611.6,1008.1 L610.8,1010.5 L610.0,1012.9 L609.2,1015.3 L608.4,1017.7" stroke-width="1.80" stroke="#fff" stroke-linejoin="round"/>
<path d="M512.3,1041.1 L515.1,1041.6 L518.2,1042.2 L521.4,1042.9 L524.9,1043.8 L528.5,1044.7 L532.3,1045.7" stroke-width="4.00" stroke-linejoin="round"/><path d="M512.3,1041.1 L515.1,1041.6 L518.2,1042.2 L521.4,1042.9 L524.9,1043.8 L528.5,1044.7 L532.3,1045.7" stroke-width="1.80" stroke="#fff" stroke-linejoin="round"/>
<path d="M606.4,964.3 L610.2,967.2 L611.0,969.8 L611.2,972.4 L611.0,974.8 L610.5,977.3 L609.9,979.7 L609.1,982.1 L608.3,984.5 L607.5,986.9 L606.7,989.3" stroke-width="4.00" stroke-linejoin="round"/><path d="M606.4,964.3 L610.2,967.2 L611.0,969.8 L611.2,972.4 L611.0,974.8 L610.5,977.3 L609.9,979.7 L609.1,982.1 L608.3,984.5 L607.5,986.9 L606.7,989.3" stroke-width="1.80" stroke="#fff" stroke-linejoin="round"/>
<path d="M608.4,1017.7 L607.6,1020.1 L606.8,1022.5 L606.0,1024.9 L605.2,1027.3 L604.4,1029.7 L603.6,1032.1 L602.8,1034.5 L602.0,1036.9 L601.2,1039.3 L600.4,1041.7" stroke-width="4.00" stroke-linejoin="round"/><path d="M608.4,1017.7 L607.6,1020.1 L606.8,1022.5 L606.0,1024.9 L605.2,1027.3 L604.4,1029.7 L603.6,1032.1 L602.8,1034.5 L602.0,1036.9 L601.2,1039.3 L600.4,1041.7" stroke-width="1.80" stroke="#fff" stroke-linejoin="round"/>
<path d="M600.4,1041.7 L599.6,1044.1 L598.8,1046.5 L598.0,1048.9 L597.2,1051.3 L596.3,1053.6 L595.0,1055.9 L593.4,1058.2 L591.3,1060.3 L588.5,1062.3 L581.9,1063.6" stroke-width="4.00" stroke-linejoin="round"/><path d="M600.4,1041.7 L599.6,1044.1 L598.8,1046.5 L598.0,1048.9 L597.2,1051.3 L596.3,1053.6 L595.0,1055.9 L593.4,1058.2 L591.3,1060.3 L588.5,1062.3 L581.9,1063.6" stroke-width="1.80" stroke="#fff" stroke-linejoin="round"/>
<path d="M559.8,948.5 L555.5,948.8 L553.5,950.4 L551.9,952.3 L550.7,954.4 L549.6,956.7 L548.7,959.0 L547.9,961.4 L547.1,963.8 L546.3,966.2 L545.5,968.6" stroke-width="4.00" stroke-linejoin="round"/><path d="M559.8,948.5 L555.5,948.8 L553.5,950.4 L551.9,952.3 L550.7,954.4 L549.6,956.7 L548.7,959.0 L547.9,961.4 L547.1,963.8 L546.3,966.2 L545.5,968.6" stroke-width="1.80" stroke="#fff" stroke-linejoin="round"/>
<path d="M556.4,1053.4 L560.4,1054.8 L564.3,1056.2 L568.1,1057.7 L571.7,1059.1 L575.1,1060.6 L578.3,1062.0" stroke-width="4.00" stroke-linejoin="round"/><path d="M556.4,1053.4 L560.4,1054.8 L564.3,1056.2 L568.1,1057.7 L571.7,1059.1 L575.1,1060.6 L578.3,1062.0" stroke-width="1.80" stroke="#fff" stroke-linejoin="round"/>
<path d="M606.7,989.3 L605.9,991.7 L605.1,994.1 L604.3,996.5 L603.5,998.9 L602.7,1001.3 L601.9,1003.7 L601.1,1006.1 L600.3,1008.5 L599.5,1010.9 L598.7,1013.3" stroke-width="4.00" stroke-linejoin="round"/><path d="M606.7,989.3 L605.9,991.7 L605.1,994.1 L604.3,996.5 L603.5,998.9 L602.7,1001.3 L601.9,1003.7 L601.1,1006.1 L600.3,1008.5 L599.5,1010.9 L598.7,1013.3" stroke-width="1.80" stroke="#fff" stroke-linejoin="round"/>
<path d="M532.3,1045.7 L536.2,1046.8 L540.2,1048.0 L544.2,1049.3 L548.3,1050.6 L552.4,1052.0 L556.4,1053.4" stroke-width="4.00" stroke-linejoin="round"/><path d="M532.3,1045.7 L536.2,1046.8 L540.2,1048.0 L544.2,1049.3 L548.3,1050.6 L552.4,1052.0 L556.4,1053.4" stroke-width="1.80" stroke="#fff" stroke-linejoin="round"/>
<path d="M569.0,951.1 L566.3,951.8 L564.8,953.6 L563.6,955.6 L562.6,957.7 L561.6,960.0 L560.8,962.4 L560.0,964.8 L559.2,967.2 L558.4,969.6 L557.6,972.0" stroke-width="4.00" stroke-linejoin="round"/><path d="M569.0,951.1 L566.3,951.8 L564.8,953.6 L563.6,955.6 L562.6,957.7 L561.6,960.0 L560.8,962.4 L560.0,964.8 L559.2,967.2 L558.4,969.6 L557.6,972.0" stroke-width="1.80" stroke="#fff" stroke-linejoin="round"/>
<path d="M545.5,968.6 L544.7,971.0 L543.9,973.4 L543.1,975.8 L542.3,978.2 L541.5,980.6 L540.7,983.0 L539.9,985.4 L539.1,987.8 L538.3,990.2 L537.5,992.6" stroke-width="4.00" stroke-linejoin="round"/><path d="M545.5,968.6 L544.7,971.0 L543.9,973.4 L543.1,975.8 L542.3,978.2 L541.5,980.6 L540.7,983.0 L539.9,985.4 L539.1,987.8 L538.3,990.2 L537.5,992.6" stroke-width="1.80" stroke="#fff" stroke-linejoin="round"/>
<path d="M598.7,1013.3 L597.9,1015.7 L597.1,1018.1 L596.3,1020.5 L595.5,1022.9 L594.7,1025.3 L593.9,1027.7 L593.1,1030.1 L592.3,1032.5 L591.5,1034.9 L590.7,1037.3" stroke-width="4.00" stroke-linejoin="round"/><path d="M598.7,1013.3 L597.9,1015.7 L597.1,1018.1 L596.3,1020.5 L595.5,1022.9 L594.7,1025.3 L593.9,1027.7 L593.1,1030.1 L592.3,1032.5 L591.5,1034.9 L590.7,1037.3" stroke-width="1.80" stroke="#fff" stroke-linejoin="round"/>
<path d="M590.7,1037.3 L589.9,1039.7 L589.1,1042.1 L588.3,1044.5 L587.5,1046.9 L586.5,1049.3 L585.4,1051.6 L584.0,1054.0 L582.2,1056.2 L579.8,1058.4 L574.4,1060.3" stroke-width="4.00" stroke-linejoin="round"/><path d="M590.7,1037.3 L589.9,1039.7 L589.1,1042.1 L588.3,1044.5 L587.5,1046.9 L586.5,1049.3 L585.4,1051.6 L584.0,1054.0 L582.2,1056.2 L579.8,1058.4 L574.4,1060.3" stroke-width="1.80" stroke="#fff" stroke-linejoin="round"/>
<path d="M537.5,992.6 L536.7,995.0 L535.9,997.4 L535.1,999.8 L534.3,1002.2 L533.5,1004.6 L532.7,1007.0 L531.9,1009.4 L531.1,1011.8 L530.3,1014.2 L529.5,1016.6" stroke-width="4.00" stroke-linejoin="round"/><path d="M537.5,992.6 L536.7,995.0 L535.9,997.4 L535.1,999.8 L534.3,1002.2 L533.5,1004.6 L532.7,1007.0 L531.9,1009.4 L531.1,1011.8 L530.3,1014.2 L529.5,1016.6" stroke-width="1.80" stroke="#fff" stroke-linejoin="round"/>
<path d="M529.5,1016.6 L528.7,1019.0 L527.9,1021.4 L527.1,1023.8 L526.3,1026.2 L525.6,1028.7 L525.1,1031.2 L524.7,1033.9 L524.7,1036.8 L525.1,1040.0 L527.8,1044.5" stroke-width="4.00" stroke-linejoin="round"/><path d="M529.5,1016.6 L528.7,1019.0 L527.9,1021.4 L527.1,1023.8 L526.3,1026.2 L525.6,1028.7 L525.1,1031.2 L524.7,1033.9 L524.7,1036.8 L525.1,1040.0 L527.8,1044.5" stroke-width="1.80" stroke="#fff" stroke-linejoin="round"/>
<path d="M557.6,972.0 L556.8,974.4 L556.0,976.8 L555.2,979.2 L554.4,981.6 L553.6,984.0 L552.8,986.4 L552.0,988.8 L551.2,991.2 L550.4,993.6 L549.6,996.0" stroke-width="4.00" stroke-linejoin="round"/><path d="M557.6,972.0 L556.8,974.4 L556.0,976.8 L555.2,979.2 L554.4,981.6 L553.6,984.0 L552.8,986.4 L552.0,988.8 L551.2,991.2 L550.4,993.6 L549.6,996.0" stroke-width="1.80" stroke="#fff" stroke-linejoin="round"/>
<path d="M549.6,996.0 L548.8,998.4 L548.0,1000.8 L547.2,1003.2 L546.4,1005.6 L545.6,1008.0 L544.8,1010.4 L544.0,1012.8 L543.2,1015.2 L542.4,1017.6 L541.6,1020.0" stroke-width="4.00" stroke-linejoin="round"/><path d="M549.6,996.0 L548.8,998.4 L548.0,1000.8 L547.2,1003.2 L546.4,1005.6 L545.6,1008.0 L544.8,1010.4 L544.0,1012.8 L543.2,1015.2 L542.4,1017.6 L541.6,1020.0" stroke-width="1.80" stroke="#fff" stroke-linejoin="round"/>
<path d="M541.6,1020.0 L540.8,1022.4 L540.0,1024.8 L539.2,1027.2 L538.4,1029.6 L537.6,1032.0 L537.0,1034.5 L536.4,1037.2 L536.0,1040.0 L535.9,1043.0 L537.0,1047.1" stroke-width="4.00" stroke-linejoin="round"/><path d="M541.6,1020.0 L540.8,1022.4 L540.0,1024.8 L539.2,1027.2 L538.4,1029.6 L537.6,1032.0 L537.0,1034.5 L536.4,1037.2 L536.0,1040.0 L535.9,1043.0 L537.0,1047.1" stroke-width="1.80" stroke="#fff" stroke-linejoin="round"/>
</svg></body></html>
